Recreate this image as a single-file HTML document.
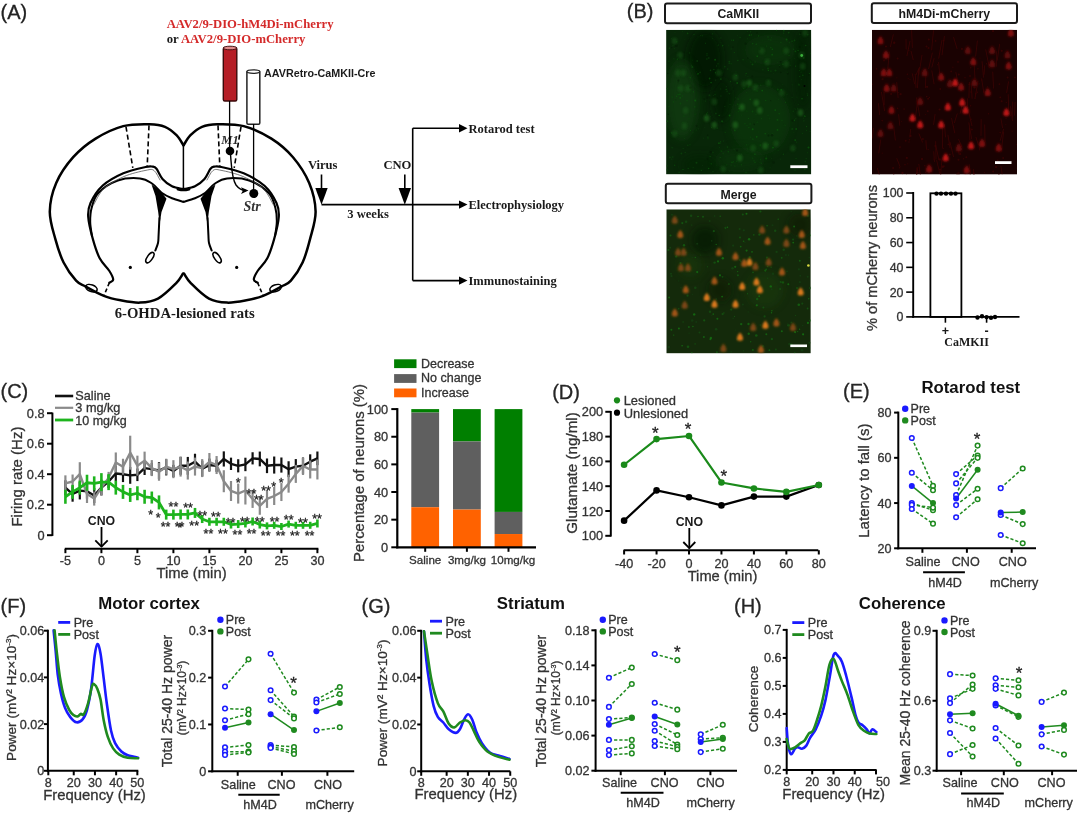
<!DOCTYPE html>
<html><head><meta charset="utf-8"><style>
html,body{margin:0;padding:0;background:#fff;}
body{width:1080px;height:815px;overflow:hidden;}
svg{display:block;will-change:transform;filter:blur(0.45px);}
</style></head><body>
<svg width="1080" height="815" viewBox="0 0 1080 815">
<rect width="1080" height="815" fill="#fff"/>
<text x="0.50" y="19.30" font-family='"Liberation Sans", sans-serif' font-size="20" font-weight="normal" text-anchor="start" fill="#222" stroke="#222" stroke-width="0.3">(A)</text>
<text x="166.70" y="27.80" font-family='"Liberation Serif", serif' font-size="12.7" font-weight="bold" text-anchor="start" fill="#d42a2a">AAV2/9-DIO-hM4Di-mCherry</text>
<text x="166.7" y="43.3" font-family='"Liberation Serif", serif' font-size="12.7" font-weight="bold" fill="#d42a2a"><tspan fill="#1a1a1a">or </tspan>AAV2/9-DIO-mCherry</text>
<text x="264.00" y="77.00" font-family='"Liberation Sans", sans-serif' font-size="10.75" font-weight="bold" text-anchor="start" fill="#1a1a1a">AAVRetro-CaMKII-Cre</text>
<path d="M183.40,145.20 C182.25,143.53 179.57,138.27 176.50,135.20 C173.43,132.13 169.47,128.63 165.00,126.80 C160.53,124.97 156.65,124.32 149.70,124.20 C142.75,124.08 132.32,123.70 123.30,126.10 C114.28,128.50 103.95,133.42 95.60,138.60 C87.25,143.78 79.77,149.80 73.20,157.20 C66.63,164.60 60.10,173.95 56.20,183.00 C52.30,192.05 49.95,202.18 49.80,211.50 C49.65,220.82 53.00,230.40 55.30,238.90 C57.60,247.40 60.13,255.55 63.60,262.50 C67.07,269.45 72.40,276.58 76.10,280.60 C79.80,284.62 81.17,284.07 85.80,286.60 C90.43,289.13 98.10,293.52 103.90,295.80 C109.70,298.08 114.58,299.17 120.60,300.30 C126.62,301.43 133.77,302.88 140.00,302.60 C146.23,302.32 152.00,301.82 158.00,298.60 C164.00,295.38 171.83,287.47 176.00,283.30 C180.17,279.13 181.83,275.22 183.00,273.60" fill="none" stroke="#000" stroke-width="2.5" stroke-linejoin="round" stroke-linecap="round"/>
<path d="M183.60,145.20 C184.75,143.53 187.43,138.27 190.50,135.20 C193.57,132.13 197.53,128.63 202.00,126.80 C206.47,124.97 210.35,124.32 217.30,124.20 C224.25,124.08 234.68,123.70 243.70,126.10 C252.72,128.50 263.18,133.42 271.40,138.60 C279.62,143.78 286.70,149.80 293.00,157.20 C299.30,164.60 305.43,173.95 309.20,183.00 C312.97,192.05 315.45,202.18 315.60,211.50 C315.75,220.82 312.27,230.40 310.10,238.90 C307.93,247.40 305.80,255.55 302.60,262.50 C299.40,269.45 294.47,276.58 290.90,280.60 C287.33,284.62 285.83,284.07 281.20,286.60 C276.57,289.13 268.90,293.52 263.10,295.80 C257.30,298.08 252.42,299.17 246.40,300.30 C240.38,301.43 233.23,302.88 227.00,302.60 C220.77,302.32 215.00,301.82 209.00,298.60 C203.00,295.38 195.17,287.47 191.00,283.30 C186.83,279.13 185.17,275.22 184.00,273.60" fill="none" stroke="#000" stroke-width="2.5" stroke-linejoin="round" stroke-linecap="round"/>
<line x1="183.40" y1="145.50" x2="183.40" y2="189.00" stroke="#000" stroke-width="1.5"/>
<path d="M183.50,189.20 C181.58,188.72 175.50,188.00 172.00,186.30 C168.50,184.60 165.08,181.92 162.50,179.00 C159.92,176.08 158.17,170.87 156.50,168.80 C154.83,166.73 154.33,166.90 152.50,166.60 C150.67,166.30 150.37,165.88 145.50,167.00 C140.63,168.12 130.47,170.17 123.30,173.30 C116.13,176.43 107.97,180.85 102.50,185.80 C97.03,190.75 92.88,197.85 90.50,203.00 C88.12,208.15 87.82,210.72 88.20,216.70 C88.58,222.68 90.88,231.97 92.80,238.90 C94.72,245.83 96.93,252.95 99.70,258.30 C102.47,263.65 107.15,267.45 109.40,271.00 C111.65,274.55 113.20,277.67 113.20,279.60 C113.20,281.53 110.03,282.10 109.40,282.60" fill="none" stroke="#000" stroke-width="2.2" stroke-linejoin="round" stroke-linecap="round"/>
<path d="M183.50,189.20 C185.42,188.72 191.50,188.00 195.00,186.30 C198.50,184.60 201.92,181.92 204.50,179.00 C207.08,176.08 208.83,170.87 210.50,168.80 C212.17,166.73 212.67,166.90 214.50,166.60 C216.33,166.30 216.63,165.88 221.50,167.00 C226.37,168.12 236.53,170.17 243.70,173.30 C250.87,176.43 259.03,180.85 264.50,185.80 C269.97,190.75 274.12,197.85 276.50,203.00 C278.88,208.15 279.18,210.72 278.80,216.70 C278.42,222.68 276.12,231.97 274.20,238.90 C272.28,245.83 270.07,252.95 267.30,258.30 C264.53,263.65 259.85,267.45 257.60,271.00 C255.35,274.55 253.80,277.67 253.80,279.60 C253.80,281.53 256.97,282.10 257.60,282.60" fill="none" stroke="#000" stroke-width="2.2" stroke-linejoin="round" stroke-linecap="round"/>
<path d="M183.50,201.80 C181.58,201.22 175.58,199.77 172.00,198.30 C168.42,196.83 165.33,195.47 162.00,193.00 C158.67,190.53 155.67,185.93 152.00,183.50 C148.33,181.07 145.70,178.90 140.00,178.40 C134.30,177.90 124.75,178.07 117.80,180.50 C110.85,182.93 102.67,188.42 98.30,193.00 C93.93,197.58 92.95,203.17 91.60,208.00 C90.25,212.83 90.13,217.33 90.20,222.00 C90.27,226.67 91.70,233.67 92.00,236.00" fill="none" stroke="#000" stroke-width="2.0" stroke-linejoin="round" stroke-linecap="round"/>
<path d="M183.50,201.80 C185.42,201.22 191.42,199.77 195.00,198.30 C198.58,196.83 201.67,195.47 205.00,193.00 C208.33,190.53 211.33,185.93 215.00,183.50 C218.67,181.07 221.30,178.90 227.00,178.40 C232.70,177.90 242.25,178.07 249.20,180.50 C256.15,182.93 264.33,188.42 268.70,193.00 C273.07,197.58 274.05,203.17 275.40,208.00 C276.75,212.83 276.87,217.33 276.80,222.00 C276.73,226.67 275.30,233.67 275.00,236.00" fill="none" stroke="#000" stroke-width="2.0" stroke-linejoin="round" stroke-linecap="round"/>
<path d="M160.00,180.00 C159.00,178.42 156.33,172.12 154.00,170.50 C151.67,168.88 151.00,169.30 146.00,170.30 C141.00,171.30 131.00,173.47 124.00,176.50 C117.00,179.53 109.08,183.75 104.00,188.50 C98.92,193.25 95.25,202.25 93.50,205.00" fill="none" stroke="#555" stroke-width="0.8" stroke-linejoin="round" stroke-linecap="round"/>
<path d="M207.00,180.00 C208.00,178.42 210.67,172.12 213.00,170.50 C215.33,168.88 216.00,169.30 221.00,170.30 C226.00,171.30 236.00,173.47 243.00,176.50 C250.00,179.53 257.92,183.75 263.00,188.50 C268.08,193.25 271.75,202.25 273.50,205.00" fill="none" stroke="#555" stroke-width="0.8" stroke-linejoin="round" stroke-linecap="round"/>
<polygon points="151.50,184.50 160.00,190.50 166.50,198.70 161.50,212.00 159.60,224.00 158.20,212.00 155.50,196.00" fill="#000" stroke="none" stroke-width="0"/>
<polygon points="215.50,184.50 207.00,190.50 200.50,198.70 205.50,212.00 207.40,224.00 208.80,212.00 211.50,196.00" fill="#000" stroke="none" stroke-width="0"/>
<path d="M159.40,218.00 C159.27,220.83 158.83,230.83 158.60,235.00 C158.37,239.17 158.55,240.42 158.00,243.00 C157.45,245.58 155.75,249.25 155.30,250.50" fill="none" stroke="#000" stroke-width="2" stroke-linejoin="round" stroke-linecap="round"/>
<path d="M207.60,218.00 C207.73,220.83 208.17,230.83 208.40,235.00 C208.63,239.17 208.45,240.42 209.00,243.00 C209.55,245.58 211.25,249.25 211.70,250.50" fill="none" stroke="#000" stroke-width="2" stroke-linejoin="round" stroke-linecap="round"/>
<ellipse cx="183.5" cy="189.5" rx="7" ry="1.8" fill="#000"/>
<ellipse cx="91.4" cy="288.2" rx="6" ry="3.3" fill="none" stroke="#000" stroke-width="1.6" transform="rotate(20 91.4 288.2)"/>
<ellipse cx="275.6" cy="288.2" rx="6" ry="3.3" fill="none" stroke="#000" stroke-width="1.6" transform="rotate(-20 275.6 288.2)"/>
<ellipse cx="149.9" cy="257.6" rx="2.6" ry="6" fill="none" stroke="#000" stroke-width="1.6" transform="rotate(35 149.9 257.6)"/>
<ellipse cx="217.1" cy="257.6" rx="2.6" ry="6" fill="none" stroke="#000" stroke-width="1.6" transform="rotate(-35 217.1 257.6)"/>
<circle cx="130.30" cy="267.40" r="1.6" fill="#000" stroke="none" stroke-width="0"/>
<circle cx="236.70" cy="267.40" r="1.6" fill="#000" stroke="none" stroke-width="0"/>
<line x1="126.00" y1="126.80" x2="132.80" y2="167.80" stroke="#000" stroke-width="1.6" stroke-dasharray="5,3"/>
<line x1="241.00" y1="126.80" x2="234.20" y2="167.80" stroke="#000" stroke-width="1.6" stroke-dasharray="5,3"/>
<line x1="149.00" y1="125.40" x2="147.20" y2="166.40" stroke="#000" stroke-width="1.6" stroke-dasharray="5,3"/>
<line x1="218.00" y1="125.40" x2="219.80" y2="166.40" stroke="#000" stroke-width="1.6" stroke-dasharray="5,3"/>
<line x1="109.40" y1="282.60" x2="103.90" y2="295.80" stroke="#000" stroke-width="1.6" stroke-dasharray="4,2.5"/>
<line x1="257.60" y1="282.60" x2="263.10" y2="295.80" stroke="#000" stroke-width="1.6" stroke-dasharray="4,2.5"/>
<rect x="223.3" y="47.5" width="13.5" height="53.5" rx="1.5" fill="#b51d25" stroke="#3a0a0a" stroke-width="1.4"/>
<ellipse cx="230" cy="48" rx="6.8" ry="1.8" fill="#e08a8a" stroke="#3a0a0a" stroke-width="0.9"/>
<rect x="246.9" y="71" width="12.9" height="53.2" rx="1.2" fill="#fff" stroke="#222" stroke-width="1.5"/>
<ellipse cx="253.35" cy="71.6" rx="6.45" ry="1.8" fill="#fff" stroke="#222" stroke-width="1.3"/>
<text x="221.30" y="143.60" font-family='"Liberation Serif", serif' font-size="12.5" font-weight="bold" text-anchor="start" fill="#2a2a2a" font-style="italic">M1</text>
<line x1="229.60" y1="101.00" x2="229.60" y2="150.00" stroke="#000" stroke-width="1.3"/>
<line x1="253.60" y1="124.00" x2="253.60" y2="193.00" stroke="#000" stroke-width="1.3"/>
<circle cx="230.00" cy="151.00" r="4.3" fill="#000" stroke="none" stroke-width="0"/>
<circle cx="253.80" cy="193.50" r="4.5" fill="#000" stroke="none" stroke-width="0"/>
<path d="M230.5,154 C231.5,166 231.5,178 236,185 C239,189 242,190.5 246,190.5" fill="none" stroke="#000" stroke-width="1.4"/>
<polygon points="248.50,190.60 241.00,187.30 242.80,190.70 241.00,194.00" fill="#000" stroke="none" stroke-width="0"/>
<text x="243.50" y="210.80" font-family='"Liberation Serif", serif' font-size="14" font-weight="bold" text-anchor="start" fill="#333" font-style="italic">Str</text>
<text x="114.70" y="318.30" font-family='"Liberation Serif", serif' font-size="14.7" font-weight="bold" text-anchor="start" fill="#1a1a1a">6-OHDA-lesioned rats</text>
<text x="307.90" y="169.00" font-family='"Liberation Serif", serif' font-size="12.6" font-weight="bold" text-anchor="start" fill="#1a1a1a">Virus</text>
<text x="383.40" y="169.00" font-family='"Liberation Serif", serif' font-size="12.6" font-weight="bold" text-anchor="start" fill="#1a1a1a">CNO</text>
<line x1="321.50" y1="174.50" x2="321.50" y2="192.00" stroke="#000" stroke-width="1.6"/>
<polygon points="315.30,188.00 327.70,188.00 321.50,204.80" fill="#000" stroke="none" stroke-width="0"/>
<line x1="404.80" y1="174.50" x2="404.80" y2="192.00" stroke="#000" stroke-width="1.6"/>
<polygon points="398.60,188.00 411.00,188.00 404.80,204.80" fill="#000" stroke="none" stroke-width="0"/>
<line x1="321.50" y1="204.60" x2="461.00" y2="204.60" stroke="#000" stroke-width="1.6"/>
<line x1="412.70" y1="128.20" x2="412.70" y2="280.60" stroke="#000" stroke-width="1.6"/>
<line x1="412.70" y1="128.20" x2="461.00" y2="128.20" stroke="#000" stroke-width="1.6"/>
<line x1="412.70" y1="280.60" x2="461.00" y2="280.60" stroke="#000" stroke-width="1.6"/>
<polygon points="459.00,124.00 467.50,128.20 459.00,132.40" fill="#000" stroke="none" stroke-width="0"/>
<polygon points="459.00,200.40 467.50,204.60 459.00,208.80" fill="#000" stroke="none" stroke-width="0"/>
<polygon points="459.00,276.40 467.50,280.60 459.00,284.80" fill="#000" stroke="none" stroke-width="0"/>
<text x="347.20" y="217.60" font-family='"Liberation Serif", serif' font-size="12.6" font-weight="bold" text-anchor="start" fill="#1a1a1a">3 weeks</text>
<text x="468.50" y="132.60" font-family='"Liberation Serif", serif' font-size="12.5" font-weight="bold" text-anchor="start" fill="#1a1a1a">Rotarod test</text>
<text x="468.50" y="209.00" font-family='"Liberation Serif", serif' font-size="12.5" font-weight="bold" text-anchor="start" fill="#1a1a1a">Electrophysiology</text>
<text x="468.50" y="284.70" font-family='"Liberation Serif", serif' font-size="12.5" font-weight="bold" text-anchor="start" fill="#1a1a1a">Immunostaining</text>
<text x="626.80" y="17.50" font-family='"Liberation Sans", sans-serif' font-size="20" font-weight="normal" text-anchor="start" fill="#262626" stroke="#262626" stroke-width="0.3">(B)</text>
<rect x="665.0" y="3.4" width="146.00" height="19.90" rx="2" fill="#fff" stroke="#1a1a1a" stroke-width="2"/>
<text x="738.30" y="18.20" font-family='"Liberation Sans", sans-serif' font-size="12.3" font-weight="bold" text-anchor="middle" fill="#1a1a1a">CaMKII</text>
<rect x="871.8000000000001" y="3.2" width="145.20" height="19.70" rx="2" fill="#fff" stroke="#1a1a1a" stroke-width="2"/>
<text x="944.40" y="17.90" font-family='"Liberation Sans", sans-serif' font-size="12.3" font-weight="bold" text-anchor="middle" fill="#1a1a1a">hM4Di-mCherry</text>
<rect x="665.8000000000001" y="183.8" width="145.60" height="19.50" rx="2" fill="#fff" stroke="#1a1a1a" stroke-width="2"/>
<text x="738.50" y="198.60" font-family='"Liberation Sans", sans-serif' font-size="12.3" font-weight="bold" text-anchor="middle" fill="#1a1a1a">Merge</text>
<defs>
<filter id="bl1" x="-50%" y="-50%" width="200%" height="200%"><feGaussianBlur stdDeviation="1.1"/></filter>
<filter id="bl2" x="-50%" y="-50%" width="200%" height="200%"><feGaussianBlur stdDeviation="4"/></filter>
<filter id="noiseG" x="0" y="0" width="100%" height="100%">
 <feTurbulence type="fractalNoise" baseFrequency="0.35" numOctaves="2" seed="3" result="n"/>
 <feColorMatrix type="matrix" values="0 0 0 0 0  0 0 0 0 0.35  0 0 0 0 0  0 0 0 1.6 -0.7"/>
</filter>
<filter id="noiseR" x="0" y="0" width="100%" height="100%">
 <feTurbulence type="fractalNoise" baseFrequency="0.35" numOctaves="2" seed="7"/>
 <feColorMatrix type="matrix" values="0 0 0 0 0.25  0 0 0 0 0  0 0 0 0 0  0 0 0 1.4 -0.65"/>
</filter>
<clipPath id="cg"><rect x="666.1" y="29.8" width="145.2" height="144.6"/></clipPath>
<clipPath id="cr"><rect x="872" y="29.8" width="145" height="144.8"/></clipPath>
<clipPath id="cm"><rect x="666.3" y="209.3" width="144.5" height="144.1"/></clipPath>
</defs>
<g clip-path="url(#cg)">
<rect x="666.10" y="29.80" width="145.20" height="144.60" fill="#082608" stroke="none" stroke-width="0"/>
<ellipse cx="705" cy="60" rx="18" ry="30" fill="#021202" opacity="0.75" filter="url(#bl2)"/>
<ellipse cx="722" cy="100" rx="10" ry="22" fill="#021402" opacity="0.6" filter="url(#bl2)"/>
<ellipse cx="803" cy="70" rx="8" ry="40" fill="#041a04" opacity="0.55" filter="url(#bl2)"/>
<ellipse cx="700" cy="165" rx="18" ry="10" fill="#062006" opacity="0.5" filter="url(#bl2)"/>
<ellipse cx="682" cy="100" rx="16" ry="40" fill="#124812" opacity="0.5" filter="url(#bl2)"/>
<ellipse cx="760" cy="120" rx="30" ry="35" fill="#114311" opacity="0.45" filter="url(#bl2)"/>
<ellipse cx="770" cy="50" rx="25" ry="15" fill="#104010" opacity="0.4" filter="url(#bl2)"/>
<ellipse cx="740" cy="160" rx="25" ry="12" fill="#0f3c0f" opacity="0.4" filter="url(#bl2)"/>
<circle cx="756.7" cy="136.8" r="0.9" fill="rgb(12,91,12)" opacity="0.7"/>
<circle cx="799.8" cy="34.2" r="0.7" fill="rgb(12,65,12)" opacity="0.7"/>
<circle cx="760.5" cy="159.7" r="0.5" fill="rgb(12,80,12)" opacity="0.7"/>
<circle cx="792.1" cy="84.8" r="0.5" fill="rgb(12,65,12)" opacity="0.7"/>
<circle cx="668.9" cy="61.2" r="0.6" fill="rgb(12,74,12)" opacity="0.7"/>
<circle cx="690.0" cy="144.8" r="0.5" fill="rgb(12,89,12)" opacity="0.7"/>
<circle cx="731.1" cy="49.0" r="1.0" fill="rgb(12,50,12)" opacity="0.7"/>
<circle cx="697.2" cy="61.0" r="1.0" fill="rgb(12,60,12)" opacity="0.7"/>
<circle cx="708.7" cy="168.5" r="0.7" fill="rgb(12,93,12)" opacity="0.7"/>
<circle cx="757.1" cy="56.2" r="1.0" fill="rgb(12,62,12)" opacity="0.7"/>
<circle cx="806.2" cy="158.7" r="0.6" fill="rgb(12,73,12)" opacity="0.7"/>
<circle cx="726.7" cy="164.8" r="0.6" fill="rgb(12,71,12)" opacity="0.7"/>
<circle cx="710.4" cy="116.8" r="0.4" fill="rgb(12,93,12)" opacity="0.7"/>
<circle cx="768.9" cy="39.5" r="0.6" fill="rgb(12,69,12)" opacity="0.7"/>
<circle cx="736.2" cy="75.5" r="0.7" fill="rgb(12,95,12)" opacity="0.7"/>
<circle cx="692.4" cy="66.9" r="1.0" fill="rgb(12,72,12)" opacity="0.7"/>
<circle cx="788.7" cy="32.6" r="0.9" fill="rgb(12,73,12)" opacity="0.7"/>
<circle cx="721.2" cy="151.1" r="0.7" fill="rgb(12,95,12)" opacity="0.7"/>
<circle cx="693.1" cy="167.5" r="0.5" fill="rgb(12,65,12)" opacity="0.7"/>
<circle cx="800.9" cy="165.7" r="0.6" fill="rgb(12,72,12)" opacity="0.7"/>
<circle cx="795.6" cy="66.1" r="0.7" fill="rgb(12,87,12)" opacity="0.7"/>
<circle cx="774.8" cy="144.8" r="0.9" fill="rgb(12,52,12)" opacity="0.7"/>
<circle cx="729.3" cy="170.9" r="0.5" fill="rgb(12,82,12)" opacity="0.7"/>
<circle cx="755.0" cy="162.2" r="0.6" fill="rgb(12,94,12)" opacity="0.7"/>
<circle cx="745.5" cy="75.0" r="0.6" fill="rgb(12,61,12)" opacity="0.7"/>
<circle cx="782.0" cy="120.3" r="0.8" fill="rgb(12,69,12)" opacity="0.7"/>
<circle cx="810.5" cy="53.3" r="0.4" fill="rgb(12,88,12)" opacity="0.7"/>
<circle cx="743.8" cy="88.4" r="0.5" fill="rgb(12,88,12)" opacity="0.7"/>
<circle cx="716.5" cy="66.0" r="0.8" fill="rgb(12,59,12)" opacity="0.7"/>
<circle cx="675.0" cy="161.9" r="0.4" fill="rgb(12,81,12)" opacity="0.7"/>
<circle cx="715.1" cy="59.8" r="1.0" fill="rgb(12,86,12)" opacity="0.7"/>
<circle cx="803.8" cy="120.8" r="0.9" fill="rgb(12,56,12)" opacity="0.7"/>
<circle cx="691.3" cy="83.7" r="0.4" fill="rgb(12,76,12)" opacity="0.7"/>
<circle cx="709.5" cy="95.3" r="1.0" fill="rgb(12,60,12)" opacity="0.7"/>
<circle cx="807.5" cy="95.3" r="0.7" fill="rgb(12,70,12)" opacity="0.7"/>
<circle cx="736.0" cy="71.9" r="0.6" fill="rgb(12,59,12)" opacity="0.7"/>
<circle cx="683.2" cy="148.4" r="0.7" fill="rgb(12,61,12)" opacity="0.7"/>
<circle cx="757.3" cy="101.9" r="0.6" fill="rgb(12,55,12)" opacity="0.7"/>
<circle cx="737.8" cy="104.2" r="0.7" fill="rgb(12,82,12)" opacity="0.7"/>
<circle cx="719.0" cy="143.2" r="0.9" fill="rgb(12,94,12)" opacity="0.7"/>
<circle cx="751.6" cy="34.9" r="0.6" fill="rgb(12,85,12)" opacity="0.7"/>
<circle cx="768.4" cy="70.4" r="0.7" fill="rgb(12,94,12)" opacity="0.7"/>
<circle cx="770.1" cy="167.8" r="0.6" fill="rgb(12,61,12)" opacity="0.7"/>
<circle cx="750.6" cy="31.7" r="0.7" fill="rgb(12,66,12)" opacity="0.7"/>
<circle cx="713.9" cy="69.4" r="0.6" fill="rgb(12,82,12)" opacity="0.7"/>
<circle cx="760.2" cy="144.9" r="0.6" fill="rgb(12,91,12)" opacity="0.7"/>
<circle cx="716.8" cy="165.0" r="0.6" fill="rgb(12,61,12)" opacity="0.7"/>
<circle cx="792.3" cy="129.1" r="1.0" fill="rgb(12,71,12)" opacity="0.7"/>
<circle cx="741.6" cy="106.2" r="0.5" fill="rgb(12,73,12)" opacity="0.7"/>
<circle cx="802.0" cy="98.7" r="0.8" fill="rgb(12,92,12)" opacity="0.7"/>
<circle cx="772.2" cy="54.7" r="0.9" fill="rgb(12,87,12)" opacity="0.7"/>
<circle cx="741.4" cy="164.8" r="0.6" fill="rgb(12,85,12)" opacity="0.7"/>
<circle cx="778.6" cy="121.7" r="0.8" fill="rgb(12,51,12)" opacity="0.7"/>
<circle cx="695.2" cy="114.4" r="0.8" fill="rgb(12,61,12)" opacity="0.7"/>
<circle cx="698.5" cy="128.8" r="0.8" fill="rgb(12,52,12)" opacity="0.7"/>
<circle cx="809.1" cy="171.1" r="0.5" fill="rgb(12,58,12)" opacity="0.7"/>
<circle cx="683.0" cy="169.4" r="0.7" fill="rgb(12,85,12)" opacity="0.7"/>
<circle cx="672.1" cy="97.0" r="0.6" fill="rgb(12,89,12)" opacity="0.7"/>
<circle cx="677.4" cy="59.4" r="0.8" fill="rgb(12,73,12)" opacity="0.7"/>
<circle cx="667.1" cy="88.4" r="0.6" fill="rgb(12,76,12)" opacity="0.7"/>
<circle cx="791.8" cy="129.2" r="0.7" fill="rgb(12,52,12)" opacity="0.7"/>
<circle cx="746.2" cy="73.4" r="0.6" fill="rgb(12,82,12)" opacity="0.7"/>
<circle cx="715.9" cy="113.6" r="1.0" fill="rgb(12,58,12)" opacity="0.7"/>
<circle cx="727.4" cy="147.1" r="0.8" fill="rgb(12,73,12)" opacity="0.7"/>
<circle cx="734.3" cy="52.6" r="0.6" fill="rgb(12,80,12)" opacity="0.7"/>
<circle cx="804.8" cy="169.4" r="0.8" fill="rgb(12,72,12)" opacity="0.7"/>
<circle cx="785.3" cy="125.3" r="0.6" fill="rgb(12,70,12)" opacity="0.7"/>
<circle cx="748.5" cy="118.6" r="0.5" fill="rgb(12,90,12)" opacity="0.7"/>
<circle cx="793.2" cy="111.3" r="0.7" fill="rgb(12,64,12)" opacity="0.7"/>
<circle cx="738.1" cy="99.1" r="0.8" fill="rgb(12,74,12)" opacity="0.7"/>
<circle cx="805.4" cy="161.6" r="0.8" fill="rgb(12,66,12)" opacity="0.7"/>
<circle cx="773.7" cy="73.3" r="0.6" fill="rgb(12,51,12)" opacity="0.7"/>
<circle cx="713.0" cy="171.7" r="0.7" fill="rgb(12,68,12)" opacity="0.7"/>
<circle cx="687.6" cy="33.4" r="0.8" fill="rgb(12,78,12)" opacity="0.7"/>
<circle cx="702.4" cy="35.8" r="0.5" fill="rgb(12,75,12)" opacity="0.7"/>
<circle cx="668.9" cy="106.7" r="0.6" fill="rgb(12,80,12)" opacity="0.7"/>
<circle cx="779.6" cy="65.4" r="0.6" fill="rgb(12,59,12)" opacity="0.7"/>
<circle cx="770.9" cy="71.1" r="0.7" fill="rgb(12,80,12)" opacity="0.7"/>
<circle cx="741.6" cy="154.3" r="0.9" fill="rgb(12,57,12)" opacity="0.7"/>
<circle cx="669.3" cy="48.1" r="0.6" fill="rgb(12,95,12)" opacity="0.7"/>
<circle cx="715.4" cy="72.7" r="0.7" fill="rgb(12,79,12)" opacity="0.7"/>
<circle cx="717.4" cy="128.2" r="0.9" fill="rgb(12,58,12)" opacity="0.7"/>
<circle cx="672.2" cy="66.3" r="0.7" fill="rgb(12,56,12)" opacity="0.7"/>
<circle cx="794.9" cy="108.6" r="0.4" fill="rgb(12,77,12)" opacity="0.7"/>
<circle cx="752.7" cy="129.2" r="1.0" fill="rgb(12,91,12)" opacity="0.7"/>
<circle cx="736.4" cy="161.3" r="0.6" fill="rgb(12,75,12)" opacity="0.7"/>
<circle cx="765.3" cy="133.6" r="0.9" fill="rgb(12,79,12)" opacity="0.7"/>
<circle cx="786.5" cy="39.5" r="0.9" fill="rgb(12,94,12)" opacity="0.7"/>
<circle cx="779.2" cy="113.8" r="0.8" fill="rgb(12,80,12)" opacity="0.7"/>
<circle cx="798.1" cy="50.5" r="0.7" fill="rgb(12,85,12)" opacity="0.7"/>
<circle cx="795.0" cy="170.1" r="0.7" fill="rgb(12,77,12)" opacity="0.7"/>
<circle cx="751.4" cy="146.9" r="0.4" fill="rgb(12,64,12)" opacity="0.7"/>
<circle cx="705.5" cy="42.3" r="0.4" fill="rgb(12,51,12)" opacity="0.7"/>
<circle cx="715.0" cy="91.8" r="0.4" fill="rgb(12,75,12)" opacity="0.7"/>
<circle cx="768.0" cy="37.0" r="0.9" fill="rgb(12,64,12)" opacity="0.7"/>
<circle cx="755.5" cy="148.7" r="0.5" fill="rgb(12,58,12)" opacity="0.7"/>
<circle cx="810.1" cy="131.6" r="0.7" fill="rgb(12,61,12)" opacity="0.7"/>
<circle cx="754.9" cy="89.6" r="0.5" fill="rgb(12,89,12)" opacity="0.7"/>
<circle cx="697.7" cy="110.0" r="0.8" fill="rgb(12,54,12)" opacity="0.7"/>
<circle cx="707.3" cy="112.2" r="0.5" fill="rgb(12,75,12)" opacity="0.7"/>
<circle cx="793.5" cy="49.3" r="0.7" fill="rgb(12,70,12)" opacity="0.7"/>
<circle cx="765.7" cy="100.5" r="0.6" fill="rgb(12,91,12)" opacity="0.7"/>
<circle cx="720.9" cy="38.0" r="0.8" fill="rgb(12,59,12)" opacity="0.7"/>
<circle cx="748.9" cy="127.6" r="0.6" fill="rgb(12,85,12)" opacity="0.7"/>
<circle cx="746.2" cy="61.8" r="0.4" fill="rgb(12,65,12)" opacity="0.7"/>
<circle cx="703.6" cy="138.1" r="0.7" fill="rgb(12,58,12)" opacity="0.7"/>
<circle cx="783.4" cy="154.3" r="0.7" fill="rgb(12,74,12)" opacity="0.7"/>
<circle cx="692.8" cy="132.7" r="0.8" fill="rgb(12,55,12)" opacity="0.7"/>
<circle cx="749.5" cy="35.2" r="0.9" fill="rgb(12,82,12)" opacity="0.7"/>
<circle cx="752.5" cy="64.4" r="0.9" fill="rgb(12,80,12)" opacity="0.7"/>
<circle cx="805.7" cy="45.5" r="0.7" fill="rgb(12,84,12)" opacity="0.7"/>
<circle cx="771.4" cy="37.7" r="0.5" fill="rgb(12,77,12)" opacity="0.7"/>
<circle cx="765.1" cy="62.1" r="0.5" fill="rgb(12,92,12)" opacity="0.7"/>
<circle cx="737.8" cy="60.5" r="0.8" fill="rgb(12,74,12)" opacity="0.7"/>
<circle cx="718.0" cy="63.8" r="0.6" fill="rgb(12,89,12)" opacity="0.7"/>
<circle cx="768.6" cy="144.6" r="0.6" fill="rgb(12,72,12)" opacity="0.7"/>
<circle cx="760.3" cy="145.8" r="0.7" fill="rgb(12,73,12)" opacity="0.7"/>
<circle cx="741.5" cy="115.3" r="0.7" fill="rgb(12,61,12)" opacity="0.7"/>
<circle cx="724.0" cy="44.0" r="0.4" fill="rgb(12,62,12)" opacity="0.7"/>
<circle cx="695.2" cy="100.6" r="1.0" fill="rgb(12,92,12)" opacity="0.7"/>
<circle cx="776.5" cy="30.1" r="0.7" fill="rgb(12,89,12)" opacity="0.7"/>
<circle cx="799.7" cy="76.5" r="0.7" fill="rgb(12,62,12)" opacity="0.7"/>
<circle cx="689.3" cy="52.9" r="0.6" fill="rgb(12,74,12)" opacity="0.7"/>
<circle cx="792.1" cy="97.6" r="0.7" fill="rgb(12,57,12)" opacity="0.7"/>
<circle cx="707.0" cy="53.3" r="0.6" fill="rgb(12,65,12)" opacity="0.7"/>
<circle cx="671.8" cy="159.1" r="0.6" fill="rgb(12,73,12)" opacity="0.7"/>
<circle cx="712.5" cy="38.5" r="0.4" fill="rgb(12,79,12)" opacity="0.7"/>
<circle cx="734.9" cy="166.1" r="0.5" fill="rgb(12,92,12)" opacity="0.7"/>
<circle cx="713.7" cy="95.4" r="0.5" fill="rgb(12,60,12)" opacity="0.7"/>
<circle cx="671.8" cy="132.9" r="0.7" fill="rgb(12,92,12)" opacity="0.7"/>
<circle cx="678.3" cy="87.8" r="1.0" fill="rgb(12,73,12)" opacity="0.7"/>
<circle cx="765.0" cy="56.6" r="0.6" fill="rgb(12,54,12)" opacity="0.7"/>
<circle cx="772.5" cy="133.4" r="0.5" fill="rgb(12,65,12)" opacity="0.7"/>
<circle cx="692.3" cy="60.1" r="0.4" fill="rgb(12,88,12)" opacity="0.7"/>
<circle cx="729.0" cy="170.5" r="0.4" fill="rgb(12,53,12)" opacity="0.7"/>
<circle cx="732.2" cy="128.1" r="0.5" fill="rgb(12,52,12)" opacity="0.7"/>
<circle cx="746.0" cy="172.5" r="0.7" fill="rgb(12,72,12)" opacity="0.7"/>
<circle cx="802.3" cy="133.2" r="0.5" fill="rgb(12,81,12)" opacity="0.7"/>
<circle cx="680.2" cy="97.9" r="0.8" fill="rgb(12,91,12)" opacity="0.7"/>
<circle cx="674.3" cy="87.2" r="0.4" fill="rgb(12,66,12)" opacity="0.7"/>
<circle cx="787.0" cy="94.2" r="0.8" fill="rgb(12,52,12)" opacity="0.7"/>
<circle cx="803.8" cy="58.0" r="0.8" fill="rgb(12,90,12)" opacity="0.7"/>
<circle cx="724.9" cy="106.5" r="0.5" fill="rgb(12,70,12)" opacity="0.7"/>
<circle cx="780.9" cy="42.5" r="1.0" fill="rgb(12,60,12)" opacity="0.7"/>
<circle cx="753.2" cy="153.4" r="0.5" fill="rgb(12,51,12)" opacity="0.7"/>
<circle cx="730.5" cy="81.5" r="0.7" fill="rgb(12,74,12)" opacity="0.7"/>
<circle cx="742.2" cy="49.1" r="0.4" fill="rgb(12,69,12)" opacity="0.7"/>
<circle cx="766.2" cy="158.4" r="1.0" fill="rgb(12,85,12)" opacity="0.7"/>
<circle cx="683.7" cy="74.9" r="0.5" fill="rgb(12,66,12)" opacity="0.7"/>
<circle cx="785.0" cy="75.1" r="0.5" fill="rgb(12,55,12)" opacity="0.7"/>
<circle cx="734.9" cy="130.4" r="0.9" fill="rgb(12,86,12)" opacity="0.7"/>
<circle cx="762.9" cy="69.7" r="0.7" fill="rgb(12,65,12)" opacity="0.7"/>
<circle cx="673.9" cy="58.8" r="0.6" fill="rgb(12,73,12)" opacity="0.7"/>
<circle cx="794.5" cy="40.4" r="0.9" fill="rgb(12,74,12)" opacity="0.7"/>
<circle cx="775.3" cy="110.1" r="0.9" fill="rgb(12,91,12)" opacity="0.7"/>
<circle cx="802.4" cy="48.9" r="0.4" fill="rgb(12,59,12)" opacity="0.7"/>
<circle cx="784.6" cy="124.4" r="1.0" fill="rgb(12,53,12)" opacity="0.7"/>
<circle cx="768.0" cy="68.5" r="0.9" fill="rgb(12,74,12)" opacity="0.7"/>
<circle cx="747.9" cy="76.3" r="0.6" fill="rgb(12,58,12)" opacity="0.7"/>
<circle cx="704.8" cy="127.3" r="0.6" fill="rgb(12,54,12)" opacity="0.7"/>
<circle cx="745.1" cy="136.4" r="0.4" fill="rgb(12,57,12)" opacity="0.7"/>
<circle cx="674.3" cy="48.7" r="0.6" fill="rgb(12,66,12)" opacity="0.7"/>
<circle cx="803.7" cy="118.1" r="0.5" fill="rgb(12,77,12)" opacity="0.7"/>
<circle cx="685.0" cy="59.0" r="0.6" fill="rgb(12,60,12)" opacity="0.7"/>
<circle cx="751.2" cy="149.1" r="0.8" fill="rgb(12,56,12)" opacity="0.7"/>
<circle cx="705.6" cy="117.3" r="0.8" fill="rgb(12,59,12)" opacity="0.7"/>
<circle cx="731.3" cy="165.1" r="0.9" fill="rgb(12,57,12)" opacity="0.7"/>
<circle cx="715.0" cy="94.2" r="0.5" fill="rgb(12,88,12)" opacity="0.7"/>
<circle cx="729.5" cy="93.6" r="0.9" fill="rgb(12,60,12)" opacity="0.7"/>
<circle cx="743.7" cy="169.6" r="0.8" fill="rgb(12,56,12)" opacity="0.7"/>
<circle cx="685.3" cy="152.5" r="0.8" fill="rgb(12,63,12)" opacity="0.7"/>
<circle cx="807.8" cy="34.7" r="0.7" fill="rgb(12,80,12)" opacity="0.7"/>
<circle cx="768.5" cy="81.0" r="0.7" fill="rgb(12,62,12)" opacity="0.7"/>
<circle cx="706.9" cy="59.0" r="0.7" fill="rgb(12,72,12)" opacity="0.7"/>
<circle cx="777.1" cy="143.1" r="0.6" fill="rgb(12,65,12)" opacity="0.7"/>
<circle cx="784.2" cy="125.5" r="0.9" fill="rgb(12,53,12)" opacity="0.7"/>
<circle cx="756.0" cy="87.7" r="0.5" fill="rgb(12,65,12)" opacity="0.7"/>
<circle cx="737.6" cy="35.4" r="0.5" fill="rgb(12,56,12)" opacity="0.7"/>
<circle cx="775.5" cy="70.5" r="1.0" fill="rgb(12,70,12)" opacity="0.7"/>
<circle cx="735.7" cy="97.7" r="0.7" fill="rgb(12,55,12)" opacity="0.7"/>
<circle cx="782.3" cy="84.2" r="0.4" fill="rgb(12,82,12)" opacity="0.7"/>
<circle cx="754.2" cy="119.4" r="0.9" fill="rgb(12,51,12)" opacity="0.7"/>
<circle cx="712.7" cy="33.9" r="0.6" fill="rgb(12,74,12)" opacity="0.7"/>
<circle cx="739.2" cy="108.6" r="0.8" fill="rgb(12,78,12)" opacity="0.7"/>
<circle cx="808.5" cy="147.4" r="1.0" fill="rgb(12,94,12)" opacity="0.7"/>
<circle cx="747.3" cy="38.8" r="0.5" fill="rgb(12,76,12)" opacity="0.7"/>
<circle cx="719.2" cy="115.5" r="0.8" fill="rgb(12,83,12)" opacity="0.7"/>
<circle cx="696.8" cy="71.2" r="0.4" fill="rgb(12,72,12)" opacity="0.7"/>
<circle cx="754.9" cy="154.3" r="1.0" fill="rgb(12,76,12)" opacity="0.7"/>
<circle cx="711.2" cy="163.8" r="0.6" fill="rgb(12,95,12)" opacity="0.7"/>
<circle cx="700.8" cy="35.4" r="0.5" fill="rgb(12,69,12)" opacity="0.7"/>
<circle cx="796.2" cy="129.0" r="0.9" fill="rgb(12,88,12)" opacity="0.7"/>
<circle cx="755.0" cy="60.1" r="0.7" fill="rgb(12,57,12)" opacity="0.7"/>
<circle cx="701.4" cy="170.4" r="0.7" fill="rgb(12,75,12)" opacity="0.7"/>
<circle cx="806.5" cy="126.6" r="0.6" fill="rgb(12,91,12)" opacity="0.7"/>
<circle cx="743.1" cy="59.8" r="0.8" fill="rgb(12,70,12)" opacity="0.7"/>
<circle cx="722.7" cy="45.7" r="0.8" fill="rgb(12,85,12)" opacity="0.7"/>
<circle cx="766.1" cy="171.7" r="0.5" fill="rgb(12,56,12)" opacity="0.7"/>
<circle cx="697.6" cy="74.0" r="0.6" fill="rgb(12,89,12)" opacity="0.7"/>
<circle cx="678.2" cy="166.9" r="0.4" fill="rgb(12,76,12)" opacity="0.7"/>
<circle cx="777.4" cy="62.3" r="0.4" fill="rgb(12,86,12)" opacity="0.7"/>
<circle cx="757.2" cy="122.2" r="0.7" fill="rgb(12,76,12)" opacity="0.7"/>
<circle cx="727.0" cy="91.3" r="0.7" fill="rgb(12,65,12)" opacity="0.7"/>
<circle cx="710.5" cy="70.4" r="0.8" fill="rgb(12,71,12)" opacity="0.7"/>
<circle cx="694.0" cy="34.4" r="0.5" fill="rgb(12,86,12)" opacity="0.7"/>
<circle cx="746.9" cy="111.1" r="0.7" fill="rgb(12,70,12)" opacity="0.7"/>
<circle cx="752.6" cy="123.1" r="0.8" fill="rgb(12,54,12)" opacity="0.7"/>
<circle cx="675.8" cy="99.8" r="0.9" fill="rgb(12,54,12)" opacity="0.7"/>
<circle cx="712.9" cy="152.4" r="0.8" fill="rgb(12,64,12)" opacity="0.7"/>
<circle cx="795.7" cy="118.6" r="0.9" fill="rgb(12,56,12)" opacity="0.7"/>
<circle cx="667.2" cy="126.8" r="0.5" fill="rgb(12,71,12)" opacity="0.7"/>
<circle cx="688.9" cy="118.7" r="0.5" fill="rgb(12,78,12)" opacity="0.7"/>
<circle cx="773.0" cy="147.6" r="0.9" fill="rgb(12,95,12)" opacity="0.7"/>
<circle cx="795.7" cy="109.1" r="0.7" fill="rgb(12,56,12)" opacity="0.7"/>
<circle cx="719.6" cy="147.2" r="0.5" fill="rgb(12,70,12)" opacity="0.7"/>
<circle cx="720.9" cy="96.0" r="0.8" fill="rgb(12,55,12)" opacity="0.7"/>
<circle cx="702.4" cy="165.6" r="0.7" fill="rgb(12,50,12)" opacity="0.7"/>
<circle cx="683.9" cy="116.0" r="0.6" fill="rgb(12,93,12)" opacity="0.7"/>
<circle cx="667.5" cy="84.9" r="0.6" fill="rgb(12,54,12)" opacity="0.7"/>
<circle cx="737.7" cy="165.0" r="0.8" fill="rgb(12,51,12)" opacity="0.7"/>
<circle cx="683.8" cy="99.0" r="0.6" fill="rgb(12,62,12)" opacity="0.7"/>
<circle cx="799.2" cy="85.0" r="0.6" fill="rgb(12,81,12)" opacity="0.7"/>
<circle cx="759.5" cy="140.3" r="0.5" fill="rgb(12,57,12)" opacity="0.7"/>
<circle cx="709.6" cy="78.5" r="0.9" fill="rgb(12,83,12)" opacity="0.7"/>
<circle cx="729.3" cy="61.7" r="1.0" fill="rgb(12,67,12)" opacity="0.7"/>
<circle cx="762.9" cy="40.6" r="0.6" fill="rgb(12,56,12)" opacity="0.7"/>
<circle cx="746.7" cy="92.3" r="0.5" fill="rgb(12,74,12)" opacity="0.7"/>
<circle cx="790.2" cy="65.3" r="0.7" fill="rgb(12,58,12)" opacity="0.7"/>
<circle cx="783.8" cy="30.7" r="0.9" fill="rgb(12,73,12)" opacity="0.7"/>
<circle cx="783.7" cy="33.1" r="0.7" fill="rgb(12,74,12)" opacity="0.7"/>
<circle cx="792.0" cy="41.3" r="1.0" fill="rgb(12,62,12)" opacity="0.7"/>
<circle cx="807.3" cy="93.7" r="0.7" fill="rgb(12,55,12)" opacity="0.7"/>
<circle cx="804.7" cy="116.2" r="0.9" fill="rgb(12,80,12)" opacity="0.7"/>
<circle cx="740.1" cy="37.6" r="0.6" fill="rgb(12,82,12)" opacity="0.7"/>
<circle cx="729.6" cy="115.5" r="0.9" fill="rgb(12,91,12)" opacity="0.7"/>
<circle cx="756.0" cy="114.5" r="0.5" fill="rgb(12,76,12)" opacity="0.7"/>
<circle cx="777.8" cy="89.5" r="0.9" fill="rgb(12,77,12)" opacity="0.7"/>
<circle cx="798.8" cy="84.5" r="1.0" fill="rgb(12,60,12)" opacity="0.7"/>
<circle cx="795.4" cy="51.3" r="0.9" fill="rgb(12,77,12)" opacity="0.7"/>
<circle cx="787.1" cy="41.0" r="0.6" fill="rgb(12,75,12)" opacity="0.7"/>
<circle cx="727.7" cy="69.0" r="0.7" fill="rgb(12,68,12)" opacity="0.7"/>
<circle cx="667.3" cy="121.2" r="0.9" fill="rgb(12,79,12)" opacity="0.7"/>
<circle cx="678.1" cy="129.0" r="0.4" fill="rgb(12,76,12)" opacity="0.7"/>
<circle cx="794.5" cy="58.3" r="0.4" fill="rgb(12,81,12)" opacity="0.7"/>
<circle cx="805.4" cy="116.2" r="0.5" fill="rgb(12,65,12)" opacity="0.7"/>
<circle cx="678.1" cy="82.5" r="0.8" fill="rgb(12,50,12)" opacity="0.7"/>
<circle cx="693.6" cy="91.8" r="0.6" fill="rgb(12,91,12)" opacity="0.7"/>
<circle cx="720.7" cy="141.6" r="0.5" fill="rgb(12,83,12)" opacity="0.7"/>
<circle cx="796.1" cy="158.5" r="0.7" fill="rgb(12,68,12)" opacity="0.7"/>
<circle cx="683.0" cy="122.7" r="0.6" fill="rgb(12,73,12)" opacity="0.7"/>
<circle cx="797.5" cy="108.8" r="0.7" fill="rgb(12,65,12)" opacity="0.7"/>
<circle cx="806.0" cy="50.2" r="0.4" fill="rgb(12,50,12)" opacity="0.7"/>
<circle cx="772.3" cy="49.2" r="0.7" fill="rgb(12,95,12)" opacity="0.7"/>
<circle cx="675.0" cy="32.2" r="0.5" fill="rgb(12,64,12)" opacity="0.7"/>
<circle cx="739.6" cy="117.9" r="0.9" fill="rgb(12,53,12)" opacity="0.7"/>
<circle cx="782.8" cy="64.3" r="0.8" fill="rgb(12,72,12)" opacity="0.7"/>
<circle cx="778.8" cy="110.3" r="0.7" fill="rgb(12,56,12)" opacity="0.7"/>
<circle cx="761.3" cy="163.2" r="0.6" fill="rgb(12,83,12)" opacity="0.7"/>
<circle cx="706.7" cy="114.0" r="0.8" fill="rgb(12,74,12)" opacity="0.7"/>
<circle cx="809.3" cy="73.5" r="0.5" fill="rgb(12,93,12)" opacity="0.7"/>
<circle cx="678.1" cy="94.6" r="0.8" fill="rgb(12,83,12)" opacity="0.7"/>
<circle cx="756.2" cy="44.2" r="0.7" fill="rgb(12,85,12)" opacity="0.7"/>
<circle cx="720.7" cy="88.9" r="0.7" fill="rgb(12,54,12)" opacity="0.7"/>
<circle cx="738.2" cy="111.5" r="0.5" fill="rgb(12,79,12)" opacity="0.7"/>
<circle cx="673.1" cy="136.9" r="0.5" fill="rgb(12,59,12)" opacity="0.7"/>
<circle cx="720.9" cy="79.1" r="0.9" fill="rgb(12,80,12)" opacity="0.7"/>
<circle cx="779.9" cy="136.7" r="0.6" fill="rgb(12,51,12)" opacity="0.7"/>
<circle cx="757.1" cy="86.0" r="0.8" fill="rgb(12,65,12)" opacity="0.7"/>
<circle cx="768.1" cy="115.3" r="0.9" fill="rgb(12,61,12)" opacity="0.7"/>
<circle cx="752.5" cy="111.5" r="0.9" fill="rgb(12,72,12)" opacity="0.7"/>
<circle cx="747.8" cy="31.4" r="0.4" fill="rgb(12,89,12)" opacity="0.7"/>
<circle cx="738.2" cy="155.5" r="0.4" fill="rgb(12,87,12)" opacity="0.7"/>
<circle cx="726.2" cy="89.4" r="0.7" fill="rgb(12,78,12)" opacity="0.7"/>
<circle cx="755.1" cy="61.9" r="1.0" fill="rgb(12,57,12)" opacity="0.7"/>
<circle cx="768.6" cy="133.6" r="0.8" fill="rgb(12,52,12)" opacity="0.7"/>
<circle cx="676.6" cy="96.3" r="0.8" fill="rgb(12,84,12)" opacity="0.7"/>
<circle cx="770.8" cy="40.0" r="0.8" fill="rgb(12,67,12)" opacity="0.7"/>
<circle cx="684.4" cy="138.6" r="0.6" fill="rgb(12,69,12)" opacity="0.7"/>
<circle cx="710.1" cy="156.5" r="0.6" fill="rgb(12,92,12)" opacity="0.7"/>
<circle cx="796.9" cy="97.0" r="0.5" fill="rgb(12,63,12)" opacity="0.7"/>
<circle cx="802.8" cy="75.3" r="0.8" fill="rgb(12,79,12)" opacity="0.7"/>
<circle cx="679.7" cy="80.8" r="0.4" fill="rgb(12,77,12)" opacity="0.7"/>
<circle cx="730.0" cy="104.6" r="0.6" fill="rgb(12,62,12)" opacity="0.7"/>
<circle cx="687.0" cy="100.7" r="0.8" fill="rgb(12,78,12)" opacity="0.7"/>
<circle cx="801.7" cy="79.5" r="0.4" fill="rgb(12,77,12)" opacity="0.7"/>
<circle cx="705.6" cy="101.1" r="0.7" fill="rgb(12,63,12)" opacity="0.7"/>
<circle cx="747.0" cy="125.4" r="0.7" fill="rgb(12,66,12)" opacity="0.7"/>
<circle cx="787.4" cy="72.3" r="0.5" fill="rgb(12,66,12)" opacity="0.7"/>
<circle cx="728.3" cy="151.8" r="0.7" fill="rgb(12,81,12)" opacity="0.7"/>
<circle cx="757.6" cy="122.3" r="1.0" fill="rgb(12,57,12)" opacity="0.7"/>
<circle cx="766.3" cy="45.9" r="0.5" fill="rgb(12,90,12)" opacity="0.7"/>
<circle cx="708.0" cy="138.8" r="0.5" fill="rgb(12,84,12)" opacity="0.7"/>
<circle cx="722.3" cy="121.6" r="0.8" fill="rgb(12,66,12)" opacity="0.7"/>
<circle cx="681.4" cy="153.5" r="0.9" fill="rgb(12,69,12)" opacity="0.7"/>
<circle cx="676.3" cy="133.2" r="0.6" fill="rgb(12,76,12)" opacity="0.7"/>
<circle cx="676.0" cy="73.4" r="0.5" fill="rgb(12,56,12)" opacity="0.7"/>
<circle cx="780.8" cy="159.1" r="0.7" fill="rgb(12,56,12)" opacity="0.7"/>
<circle cx="733.5" cy="40.3" r="0.7" fill="rgb(12,86,12)" opacity="0.7"/>
<circle cx="744.9" cy="123.8" r="0.8" fill="rgb(12,70,12)" opacity="0.7"/>
<circle cx="801.4" cy="166.2" r="0.7" fill="rgb(12,56,12)" opacity="0.7"/>
<circle cx="691.5" cy="65.4" r="0.8" fill="rgb(12,56,12)" opacity="0.7"/>
<circle cx="679.1" cy="172.2" r="0.7" fill="rgb(12,77,12)" opacity="0.7"/>
<circle cx="683.5" cy="74.1" r="0.7" fill="rgb(12,77,12)" opacity="0.7"/>
<circle cx="672.6" cy="157.0" r="1.0" fill="rgb(12,58,12)" opacity="0.7"/>
<circle cx="722.0" cy="121.3" r="1.0" fill="rgb(12,70,12)" opacity="0.7"/>
<circle cx="793.9" cy="132.5" r="0.4" fill="rgb(12,69,12)" opacity="0.7"/>
<circle cx="674.7" cy="165.2" r="0.7" fill="rgb(12,78,12)" opacity="0.7"/>
<circle cx="746.6" cy="144.9" r="0.8" fill="rgb(12,66,12)" opacity="0.7"/>
<circle cx="707.9" cy="137.2" r="0.6" fill="rgb(12,80,12)" opacity="0.7"/>
<circle cx="725.2" cy="132.2" r="0.5" fill="rgb(12,88,12)" opacity="0.7"/>
<circle cx="696.2" cy="130.1" r="0.8" fill="rgb(12,56,12)" opacity="0.7"/>
<circle cx="731.1" cy="63.7" r="0.5" fill="rgb(12,91,12)" opacity="0.7"/>
<circle cx="679.9" cy="94.3" r="0.8" fill="rgb(12,93,12)" opacity="0.7"/>
<circle cx="690.5" cy="130.6" r="0.5" fill="rgb(12,87,12)" opacity="0.7"/>
<circle cx="794.4" cy="120.4" r="0.8" fill="rgb(12,84,12)" opacity="0.7"/>
<circle cx="770.8" cy="47.6" r="0.9" fill="rgb(12,71,12)" opacity="0.7"/>
<circle cx="750.2" cy="99.3" r="0.9" fill="rgb(12,83,12)" opacity="0.7"/>
<circle cx="799.4" cy="70.6" r="0.6" fill="rgb(12,68,12)" opacity="0.7"/>
<circle cx="686.1" cy="90.5" r="0.6" fill="rgb(12,58,12)" opacity="0.7"/>
<circle cx="708.7" cy="58.0" r="1.0" fill="rgb(12,52,12)" opacity="0.7"/>
<circle cx="667.2" cy="165.9" r="0.6" fill="rgb(12,76,12)" opacity="0.7"/>
<circle cx="762.2" cy="90.6" r="0.9" fill="rgb(12,93,12)" opacity="0.7"/>
<circle cx="733.4" cy="161.7" r="0.7" fill="rgb(12,70,12)" opacity="0.7"/>
<circle cx="769.5" cy="118.5" r="0.9" fill="rgb(12,60,12)" opacity="0.7"/>
<circle cx="750.1" cy="123.9" r="0.7" fill="rgb(12,80,12)" opacity="0.7"/>
<circle cx="778.1" cy="150.5" r="0.4" fill="rgb(12,84,12)" opacity="0.7"/>
<circle cx="667.3" cy="169.9" r="0.8" fill="rgb(12,60,12)" opacity="0.7"/>
<circle cx="807.3" cy="152.8" r="0.5" fill="rgb(12,75,12)" opacity="0.7"/>
<circle cx="760.7" cy="85.4" r="0.8" fill="rgb(12,64,12)" opacity="0.7"/>
<circle cx="760.0" cy="162.5" r="0.5" fill="rgb(12,65,12)" opacity="0.7"/>
<circle cx="750.7" cy="137.1" r="0.7" fill="rgb(12,77,12)" opacity="0.7"/>
<circle cx="750.8" cy="62.1" r="0.5" fill="rgb(12,85,12)" opacity="0.7"/>
<circle cx="752.9" cy="139.1" r="0.7" fill="rgb(12,93,12)" opacity="0.7"/>
<circle cx="771.6" cy="158.4" r="0.7" fill="rgb(12,50,12)" opacity="0.7"/>
<circle cx="688.2" cy="38.2" r="0.4" fill="rgb(12,62,12)" opacity="0.7"/>
<circle cx="682.3" cy="96.0" r="0.7" fill="rgb(12,80,12)" opacity="0.7"/>
<circle cx="735.6" cy="105.1" r="0.4" fill="rgb(12,94,12)" opacity="0.7"/>
<circle cx="777.5" cy="119.8" r="0.9" fill="rgb(12,89,12)" opacity="0.7"/>
<circle cx="754.0" cy="160.8" r="0.9" fill="rgb(12,63,12)" opacity="0.7"/>
<circle cx="669.9" cy="157.4" r="1.0" fill="rgb(12,62,12)" opacity="0.7"/>
<circle cx="806.4" cy="130.3" r="0.5" fill="rgb(12,84,12)" opacity="0.7"/>
<circle cx="720.2" cy="42.8" r="0.5" fill="rgb(12,50,12)" opacity="0.7"/>
<circle cx="671.8" cy="38.3" r="0.5" fill="rgb(12,74,12)" opacity="0.7"/>
<circle cx="723.4" cy="141.1" r="0.5" fill="rgb(12,74,12)" opacity="0.7"/>
<circle cx="766.2" cy="61.3" r="0.6" fill="rgb(12,78,12)" opacity="0.7"/>
<circle cx="688.2" cy="168.4" r="0.6" fill="rgb(12,83,12)" opacity="0.7"/>
<circle cx="777.5" cy="129.9" r="0.9" fill="rgb(12,93,12)" opacity="0.7"/>
<circle cx="705.4" cy="43.3" r="0.5" fill="rgb(12,77,12)" opacity="0.7"/>
<circle cx="781.2" cy="89.9" r="0.8" fill="rgb(12,92,12)" opacity="0.7"/>
<circle cx="747.7" cy="148.9" r="0.8" fill="rgb(12,62,12)" opacity="0.7"/>
<circle cx="696.2" cy="113.8" r="0.8" fill="rgb(12,52,12)" opacity="0.7"/>
<circle cx="694.7" cy="106.8" r="0.9" fill="rgb(12,73,12)" opacity="0.7"/>
<circle cx="758.2" cy="132.0" r="0.7" fill="rgb(12,59,12)" opacity="0.7"/>
<circle cx="757.3" cy="56.2" r="0.7" fill="rgb(12,95,12)" opacity="0.7"/>
<circle cx="728.2" cy="45.1" r="0.4" fill="rgb(12,85,12)" opacity="0.7"/>
<circle cx="734.2" cy="149.3" r="0.9" fill="rgb(12,55,12)" opacity="0.7"/>
<circle cx="737.2" cy="82.9" r="1.0" fill="rgb(12,88,12)" opacity="0.7"/>
<circle cx="720.2" cy="157.5" r="0.6" fill="rgb(12,86,12)" opacity="0.7"/>
<circle cx="732.0" cy="162.3" r="0.8" fill="rgb(12,84,12)" opacity="0.7"/>
<circle cx="726.4" cy="86.6" r="0.7" fill="rgb(12,51,12)" opacity="0.7"/>
<circle cx="700.1" cy="72.4" r="0.9" fill="rgb(12,54,12)" opacity="0.7"/>
<circle cx="778.8" cy="99.7" r="0.4" fill="rgb(12,91,12)" opacity="0.7"/>
<circle cx="752.6" cy="43.6" r="0.8" fill="rgb(12,76,12)" opacity="0.7"/>
<circle cx="692.1" cy="80.5" r="0.9" fill="rgb(12,52,12)" opacity="0.7"/>
<circle cx="711.6" cy="127.6" r="0.5" fill="rgb(12,83,12)" opacity="0.7"/>
<circle cx="795.2" cy="140.1" r="0.9" fill="rgb(12,93,12)" opacity="0.7"/>
<circle cx="758.6" cy="35.9" r="0.7" fill="rgb(12,80,12)" opacity="0.7"/>
<circle cx="698.2" cy="73.7" r="0.7" fill="rgb(12,89,12)" opacity="0.7"/>
<circle cx="731.7" cy="40.2" r="0.8" fill="rgb(12,65,12)" opacity="0.7"/>
<circle cx="793.9" cy="149.7" r="0.8" fill="rgb(12,54,12)" opacity="0.7"/>
<circle cx="801.1" cy="72.0" r="0.5" fill="rgb(12,72,12)" opacity="0.7"/>
<circle cx="757.1" cy="91.0" r="1.0" fill="rgb(12,63,12)" opacity="0.7"/>
<circle cx="718.3" cy="45.0" r="0.6" fill="rgb(12,81,12)" opacity="0.7"/>
<circle cx="714.2" cy="128.8" r="0.7" fill="rgb(12,53,12)" opacity="0.7"/>
<circle cx="752.7" cy="158.1" r="0.6" fill="rgb(12,79,12)" opacity="0.7"/>
<circle cx="785.4" cy="102.3" r="0.6" fill="rgb(12,82,12)" opacity="0.7"/>
<circle cx="680.5" cy="103.5" r="0.9" fill="rgb(12,76,12)" opacity="0.7"/>
<circle cx="761.6" cy="118.6" r="0.6" fill="rgb(12,77,12)" opacity="0.7"/>
<circle cx="684.9" cy="39.1" r="0.6" fill="rgb(12,52,12)" opacity="0.7"/>
<circle cx="711.1" cy="82.6" r="0.8" fill="rgb(12,87,12)" opacity="0.7"/>
<circle cx="682.6" cy="31.3" r="0.5" fill="rgb(12,69,12)" opacity="0.7"/>
<circle cx="673.0" cy="45.7" r="0.9" fill="rgb(12,53,12)" opacity="0.7"/>
<circle cx="676.7" cy="41.7" r="0.8" fill="rgb(12,68,12)" opacity="0.7"/>
<circle cx="729.2" cy="63.4" r="0.7" fill="rgb(12,68,12)" opacity="0.7"/>
<circle cx="690.3" cy="77.8" r="0.8" fill="rgb(12,82,12)" opacity="0.7"/>
<circle cx="748.2" cy="86.9" r="0.7" fill="rgb(12,79,12)" opacity="0.7"/>
<circle cx="789.0" cy="55.5" r="0.7" fill="rgb(12,70,12)" opacity="0.7"/>
<circle cx="789.3" cy="42.7" r="0.7" fill="rgb(12,67,12)" opacity="0.7"/>
<circle cx="720.4" cy="142.9" r="1.0" fill="rgb(12,57,12)" opacity="0.7"/>
<circle cx="723.2" cy="153.4" r="1.0" fill="rgb(12,58,12)" opacity="0.7"/>
<circle cx="687.8" cy="145.2" r="0.7" fill="rgb(12,72,12)" opacity="0.7"/>
<circle cx="707.0" cy="55.0" r="0.6" fill="rgb(12,93,12)" opacity="0.7"/>
<circle cx="724.9" cy="66.8" r="0.8" fill="rgb(12,77,12)" opacity="0.7"/>
<circle cx="798.2" cy="104.3" r="0.5" fill="rgb(12,74,12)" opacity="0.7"/>
<circle cx="672.1" cy="147.8" r="0.8" fill="rgb(12,65,12)" opacity="0.7"/>
<circle cx="766.5" cy="156.0" r="0.8" fill="rgb(12,51,12)" opacity="0.7"/>
<circle cx="796.7" cy="142.1" r="0.6" fill="rgb(12,71,12)" opacity="0.7"/>
<circle cx="715.5" cy="80.1" r="0.9" fill="rgb(12,50,12)" opacity="0.7"/>
<circle cx="673.5" cy="101.9" r="0.6" fill="rgb(12,83,12)" opacity="0.7"/>
<circle cx="696.5" cy="162.7" r="1.0" fill="rgb(12,71,12)" opacity="0.7"/>
<circle cx="780.5" cy="61.8" r="0.9" fill="#041804" opacity="0.5"/>
<circle cx="671.7" cy="47.6" r="0.7" fill="#041804" opacity="0.5"/>
<circle cx="808.7" cy="74.9" r="0.8" fill="#041804" opacity="0.5"/>
<circle cx="676.4" cy="45.8" r="1.3" fill="#041804" opacity="0.5"/>
<circle cx="773.6" cy="162.5" r="1.2" fill="#041804" opacity="0.5"/>
<circle cx="779.7" cy="66.7" r="0.7" fill="#041804" opacity="0.5"/>
<circle cx="705.9" cy="39.4" r="0.7" fill="#041804" opacity="0.5"/>
<circle cx="770.7" cy="100.7" r="0.6" fill="#041804" opacity="0.5"/>
<circle cx="710.9" cy="152.3" r="1.2" fill="#041804" opacity="0.5"/>
<circle cx="772.0" cy="135.3" r="1.2" fill="#041804" opacity="0.5"/>
<circle cx="747.2" cy="85.2" r="1.0" fill="#041804" opacity="0.5"/>
<circle cx="707.7" cy="35.3" r="0.8" fill="#041804" opacity="0.5"/>
<circle cx="732.9" cy="47.3" r="0.7" fill="#041804" opacity="0.5"/>
<circle cx="702.6" cy="83.0" r="1.3" fill="#041804" opacity="0.5"/>
<circle cx="737.1" cy="150.5" r="1.1" fill="#041804" opacity="0.5"/>
<circle cx="752.3" cy="76.4" r="0.9" fill="#041804" opacity="0.5"/>
<circle cx="712.7" cy="121.3" r="1.2" fill="#041804" opacity="0.5"/>
<circle cx="780.8" cy="72.5" r="0.7" fill="#041804" opacity="0.5"/>
<circle cx="668.3" cy="114.2" r="0.8" fill="#041804" opacity="0.5"/>
<circle cx="667.8" cy="73.5" r="0.8" fill="#041804" opacity="0.5"/>
<circle cx="696.6" cy="125.7" r="1.0" fill="#041804" opacity="0.5"/>
<circle cx="707.6" cy="135.2" r="0.7" fill="#041804" opacity="0.5"/>
<circle cx="799.7" cy="47.1" r="1.0" fill="#041804" opacity="0.5"/>
<circle cx="768.5" cy="135.5" r="0.9" fill="#041804" opacity="0.5"/>
<circle cx="792.5" cy="120.6" r="1.1" fill="#041804" opacity="0.5"/>
<circle cx="678.4" cy="56.9" r="0.9" fill="#041804" opacity="0.5"/>
<circle cx="745.5" cy="43.7" r="1.1" fill="#041804" opacity="0.5"/>
<circle cx="716.9" cy="98.4" r="1.0" fill="#041804" opacity="0.5"/>
<circle cx="787.8" cy="73.5" r="1.0" fill="#041804" opacity="0.5"/>
<circle cx="754.2" cy="124.4" r="0.8" fill="#041804" opacity="0.5"/>
<circle cx="707.2" cy="97.7" r="1.0" fill="#041804" opacity="0.5"/>
<circle cx="759.8" cy="49.3" r="0.9" fill="#041804" opacity="0.5"/>
<circle cx="747.7" cy="58.0" r="0.7" fill="#041804" opacity="0.5"/>
<circle cx="800.8" cy="33.0" r="0.9" fill="#041804" opacity="0.5"/>
<circle cx="709.4" cy="34.5" r="0.8" fill="#041804" opacity="0.5"/>
<circle cx="690.2" cy="87.6" r="1.2" fill="#041804" opacity="0.5"/>
<circle cx="678.4" cy="80.6" r="1.1" fill="#041804" opacity="0.5"/>
<circle cx="757.0" cy="33.0" r="0.8" fill="#041804" opacity="0.5"/>
<circle cx="707.5" cy="158.9" r="0.9" fill="#041804" opacity="0.5"/>
<circle cx="704.1" cy="99.1" r="0.9" fill="#041804" opacity="0.5"/>
<ellipse cx="674.6" cy="40.9" rx="2.8" ry="3.4" fill="#1f621d" opacity="0.4" filter="url(#bl1)"/>
<ellipse cx="680.1" cy="55.2" rx="2.8" ry="3.4" fill="#1f621d" opacity="0.4" filter="url(#bl1)"/>
<ellipse cx="677.9" cy="72.9" rx="2.8" ry="3.4" fill="#1f621d" opacity="0.4" filter="url(#bl1)"/>
<ellipse cx="683.4" cy="72.9" rx="2.8" ry="3.4" fill="#1f621d" opacity="0.4" filter="url(#bl1)"/>
<ellipse cx="680.8" cy="88.4" rx="2.8" ry="3.4" fill="#1f621d" opacity="0.4" filter="url(#bl1)"/>
<ellipse cx="687.8" cy="88.4" rx="2.8" ry="3.4" fill="#1f621d" opacity="0.4" filter="url(#bl1)"/>
<ellipse cx="685.6" cy="110.5" rx="2.8" ry="3.4" fill="#1f621d" opacity="0.4" filter="url(#bl1)"/>
<ellipse cx="684.5" cy="126.0" rx="2.8" ry="3.4" fill="#1f621d" opacity="0.4" filter="url(#bl1)"/>
<ellipse cx="674.6" cy="133.7" rx="2.8" ry="3.4" fill="#1f621d" opacity="0.4" filter="url(#bl1)"/>
<ellipse cx="706.6" cy="118.2" rx="2.8" ry="3.4" fill="#2e8a2a" opacity="0.4" filter="url(#bl1)"/>
<ellipse cx="714.3" cy="124.9" rx="2.8" ry="3.4" fill="#2e8a2a" opacity="0.4" filter="url(#bl1)"/>
<ellipse cx="718.8" cy="72.9" rx="2.8" ry="3.4" fill="#1f621d" opacity="0.4" filter="url(#bl1)"/>
<ellipse cx="735.3" cy="77.3" rx="2.8" ry="3.4" fill="#1f621d" opacity="0.4" filter="url(#bl1)"/>
<ellipse cx="744.1" cy="84.0" rx="2.8" ry="3.4" fill="#1f621d" opacity="0.4" filter="url(#bl1)"/>
<ellipse cx="749.3" cy="82.9" rx="2.8" ry="3.4" fill="#2e8a2a" opacity="0.4" filter="url(#bl1)"/>
<ellipse cx="755.2" cy="87.3" rx="2.8" ry="3.4" fill="#1f621d" opacity="0.4" filter="url(#bl1)"/>
<ellipse cx="761.9" cy="50.8" rx="2.8" ry="3.4" fill="#1f621d" opacity="0.4" filter="url(#bl1)"/>
<ellipse cx="767.4" cy="61.9" rx="2.8" ry="3.4" fill="#1f621d" opacity="0.4" filter="url(#bl1)"/>
<ellipse cx="768.5" cy="82.9" rx="2.8" ry="3.4" fill="#1f621d" opacity="0.4" filter="url(#bl1)"/>
<ellipse cx="742.0" cy="107.2" rx="2.8" ry="3.4" fill="#2e8a2a" opacity="0.4" filter="url(#bl1)"/>
<ellipse cx="756.3" cy="102.8" rx="2.8" ry="3.4" fill="#2e8a2a" opacity="0.4" filter="url(#bl1)"/>
<ellipse cx="759.7" cy="110.5" rx="2.8" ry="3.4" fill="#2e8a2a" opacity="0.4" filter="url(#bl1)"/>
<ellipse cx="735.3" cy="124.9" rx="2.8" ry="3.4" fill="#2e8a2a" opacity="0.4" filter="url(#bl1)"/>
<ellipse cx="786.2" cy="50.8" rx="2.8" ry="3.4" fill="#1f621d" opacity="0.4" filter="url(#bl1)"/>
<ellipse cx="786.2" cy="64.1" rx="2.8" ry="3.4" fill="#1f621d" opacity="0.4" filter="url(#bl1)"/>
<ellipse cx="801.6" cy="55.2" rx="2.8" ry="3.4" fill="#1f621d" opacity="0.4" filter="url(#bl1)"/>
<ellipse cx="802.7" cy="66.3" rx="2.8" ry="3.4" fill="#1f621d" opacity="0.4" filter="url(#bl1)"/>
<ellipse cx="800.5" cy="112.7" rx="2.8" ry="3.4" fill="#2e8a2a" opacity="0.4" filter="url(#bl1)"/>
<ellipse cx="792.8" cy="148.1" rx="2.8" ry="3.4" fill="#1f621d" opacity="0.4" filter="url(#bl1)"/>
<ellipse cx="776.2" cy="143.6" rx="2.8" ry="3.4" fill="#1f621d" opacity="0.4" filter="url(#bl1)"/>
<ellipse cx="765.2" cy="145.9" rx="2.8" ry="3.4" fill="#2e8a2a" opacity="0.4" filter="url(#bl1)"/>
<ellipse cx="753.0" cy="148.1" rx="2.8" ry="3.4" fill="#1f621d" opacity="0.4" filter="url(#bl1)"/>
<ellipse cx="739.8" cy="158.0" rx="2.8" ry="3.4" fill="#2e8a2a" opacity="0.4" filter="url(#bl1)"/>
<ellipse cx="723.2" cy="169.1" rx="2.8" ry="3.4" fill="#1f621d" opacity="0.4" filter="url(#bl1)"/>
<ellipse cx="760.8" cy="170.2" rx="2.8" ry="3.4" fill="#1f621d" opacity="0.4" filter="url(#bl1)"/>
<ellipse cx="805.0" cy="33.1" rx="2.8" ry="3.4" fill="#1f621d" opacity="0.4" filter="url(#bl1)"/>
<ellipse cx="781.8" cy="92.8" rx="2.8" ry="3.4" fill="#1f621d" opacity="0.4" filter="url(#bl1)"/>
<ellipse cx="714.3" cy="101.7" rx="2.8" ry="3.4" fill="#1f621d" opacity="0.4" filter="url(#bl1)"/>
<circle cx="801.70" cy="55.50" r="1.4" fill="#3cb03c" stroke="none" stroke-width="0"/>
<circle cx="804.50" cy="86.00" r="1.0" fill="#000" stroke="none" stroke-width="0"/>
</g>
<rect x="790.30" y="165.30" width="17.20" height="2.80" fill="#fff" stroke="none" stroke-width="0"/>
<g clip-path="url(#cr)">
<rect x="872.00" y="29.80" width="145.00" height="144.80" fill="#1a0202" stroke="none" stroke-width="0"/>
<line x1="893.7" y1="126.7" x2="895.4" y2="140.5" stroke="#3e0505" stroke-width="0.9" opacity="0.8"/>
<line x1="949.9" y1="141.7" x2="953.6" y2="157.1" stroke="#3e0505" stroke-width="0.9" opacity="0.8"/>
<line x1="878.4" y1="103.2" x2="879.7" y2="115.2" stroke="#3e0505" stroke-width="0.9" opacity="0.8"/>
<line x1="971.2" y1="83.3" x2="972.1" y2="98.7" stroke="#3e0505" stroke-width="0.9" opacity="0.8"/>
<line x1="969.2" y1="164.2" x2="970.8" y2="180.7" stroke="#3e0505" stroke-width="0.9" opacity="0.8"/>
<line x1="974.1" y1="63.4" x2="975.0" y2="78.9" stroke="#3e0505" stroke-width="0.9" opacity="0.8"/>
<line x1="880.8" y1="139.4" x2="878.7" y2="153.3" stroke="#3e0505" stroke-width="0.9" opacity="0.8"/>
<line x1="947.9" y1="134.7" x2="950.1" y2="148.3" stroke="#3e0505" stroke-width="0.9" opacity="0.8"/>
<line x1="1008.2" y1="94.2" x2="1008.8" y2="114.1" stroke="#3e0505" stroke-width="0.9" opacity="0.8"/>
<line x1="918.9" y1="133.5" x2="922.6" y2="142.5" stroke="#3e0505" stroke-width="0.9" opacity="0.8"/>
<line x1="984.7" y1="124.5" x2="985.0" y2="142.0" stroke="#3e0505" stroke-width="0.9" opacity="0.8"/>
<line x1="996.7" y1="51.3" x2="996.6" y2="66.6" stroke="#3e0505" stroke-width="0.9" opacity="0.8"/>
<line x1="973.3" y1="169.0" x2="975.8" y2="186.9" stroke="#3e0505" stroke-width="0.9" opacity="0.8"/>
<line x1="881.4" y1="91.8" x2="884.7" y2="111.2" stroke="#3e0505" stroke-width="0.9" opacity="0.8"/>
<line x1="981.6" y1="78.4" x2="983.8" y2="92.8" stroke="#3e0505" stroke-width="0.9" opacity="0.8"/>
<line x1="968.8" y1="122.4" x2="971.7" y2="139.0" stroke="#3e0505" stroke-width="0.9" opacity="0.8"/>
<line x1="1012.7" y1="101.6" x2="1012.7" y2="117.5" stroke="#3e0505" stroke-width="0.9" opacity="0.8"/>
<line x1="953.5" y1="37.1" x2="957.1" y2="48.9" stroke="#3e0505" stroke-width="0.9" opacity="0.8"/>
<line x1="944.4" y1="36.1" x2="942.0" y2="55.3" stroke="#3e0505" stroke-width="0.9" opacity="0.8"/>
<line x1="912.2" y1="73.3" x2="914.7" y2="84.2" stroke="#3e0505" stroke-width="0.9" opacity="0.8"/>
<line x1="968.8" y1="112.4" x2="972.0" y2="126.1" stroke="#3e0505" stroke-width="0.9" opacity="0.8"/>
<line x1="919.7" y1="67.6" x2="918.6" y2="75.6" stroke="#3e0505" stroke-width="0.9" opacity="0.8"/>
<line x1="889.3" y1="51.6" x2="887.8" y2="68.8" stroke="#3e0505" stroke-width="0.9" opacity="0.8"/>
<line x1="1008.6" y1="81.4" x2="1006.6" y2="92.9" stroke="#3e0505" stroke-width="0.9" opacity="0.8"/>
<line x1="963.2" y1="99.4" x2="960.1" y2="113.7" stroke="#3e0505" stroke-width="0.9" opacity="0.8"/>
<line x1="911.0" y1="50.9" x2="913.3" y2="60.1" stroke="#3e0505" stroke-width="0.9" opacity="0.8"/>
<line x1="935.7" y1="141.1" x2="936.0" y2="159.5" stroke="#3e0505" stroke-width="0.9" opacity="0.8"/>
<line x1="918.0" y1="167.2" x2="914.3" y2="186.0" stroke="#3e0505" stroke-width="0.9" opacity="0.8"/>
<line x1="933.5" y1="30.4" x2="931.6" y2="50.3" stroke="#3e0505" stroke-width="0.9" opacity="0.8"/>
<line x1="975.9" y1="136.9" x2="978.4" y2="145.0" stroke="#3e0505" stroke-width="0.9" opacity="0.8"/>
<line x1="916.5" y1="97.5" x2="919.8" y2="116.4" stroke="#3e0505" stroke-width="0.9" opacity="0.8"/>
<line x1="893.7" y1="173.2" x2="894.1" y2="184.8" stroke="#3e0505" stroke-width="0.9" opacity="0.8"/>
<line x1="884.0" y1="91.9" x2="884.2" y2="105.3" stroke="#3e0505" stroke-width="0.9" opacity="0.8"/>
<line x1="917.0" y1="167.4" x2="916.8" y2="179.1" stroke="#3e0505" stroke-width="0.9" opacity="0.8"/>
<line x1="984.7" y1="65.4" x2="984.1" y2="74.7" stroke="#3e0505" stroke-width="0.9" opacity="0.8"/>
<line x1="906.5" y1="174.6" x2="907.5" y2="188.8" stroke="#3e0505" stroke-width="0.9" opacity="0.8"/>
<line x1="969.6" y1="127.5" x2="969.8" y2="139.9" stroke="#3e0505" stroke-width="0.9" opacity="0.8"/>
<line x1="893.4" y1="34.3" x2="890.3" y2="47.1" stroke="#3e0505" stroke-width="0.9" opacity="0.8"/>
<line x1="873.5" y1="127.8" x2="872.2" y2="138.6" stroke="#3e0505" stroke-width="0.9" opacity="0.8"/>
<line x1="917.5" y1="101.5" x2="915.2" y2="119.7" stroke="#3e0505" stroke-width="0.9" opacity="0.8"/>
<line x1="942.0" y1="40.0" x2="938.7" y2="58.6" stroke="#3e0505" stroke-width="0.9" opacity="0.8"/>
<line x1="955.8" y1="72.2" x2="957.5" y2="80.8" stroke="#3e0505" stroke-width="0.9" opacity="0.8"/>
<line x1="1000.9" y1="165.8" x2="1002.2" y2="174.4" stroke="#3e0505" stroke-width="0.9" opacity="0.8"/>
<line x1="933.7" y1="151.3" x2="934.5" y2="161.9" stroke="#3e0505" stroke-width="0.9" opacity="0.8"/>
<line x1="906.0" y1="39.2" x2="906.2" y2="49.4" stroke="#3e0505" stroke-width="0.9" opacity="0.8"/>
<line x1="936.6" y1="159.9" x2="939.8" y2="173.8" stroke="#3e0505" stroke-width="0.9" opacity="0.8"/>
<line x1="985.7" y1="49.4" x2="989.3" y2="67.8" stroke="#3e0505" stroke-width="0.9" opacity="0.8"/>
<line x1="942.0" y1="158.5" x2="940.4" y2="178.2" stroke="#3e0505" stroke-width="0.9" opacity="0.8"/>
<line x1="918.8" y1="164.0" x2="921.5" y2="183.2" stroke="#3e0505" stroke-width="0.9" opacity="0.8"/>
<line x1="977.4" y1="40.6" x2="975.6" y2="56.5" stroke="#3e0505" stroke-width="0.9" opacity="0.8"/>
<line x1="1003.7" y1="128.7" x2="1000.1" y2="140.9" stroke="#3e0505" stroke-width="0.9" opacity="0.8"/>
<line x1="922.0" y1="54.8" x2="919.8" y2="69.0" stroke="#3e0505" stroke-width="0.9" opacity="0.8"/>
<line x1="926.1" y1="68.7" x2="925.4" y2="88.1" stroke="#3e0505" stroke-width="0.9" opacity="0.8"/>
<line x1="958.5" y1="139.0" x2="962.0" y2="147.4" stroke="#3e0505" stroke-width="0.9" opacity="0.8"/>
<line x1="999.7" y1="43.8" x2="997.2" y2="60.7" stroke="#3e0505" stroke-width="0.9" opacity="0.8"/>
<line x1="981.2" y1="119.1" x2="981.0" y2="135.8" stroke="#3e0505" stroke-width="0.9" opacity="0.8"/>
<line x1="934.1" y1="58.2" x2="931.8" y2="67.5" stroke="#3e0505" stroke-width="0.9" opacity="0.8"/>
<line x1="877.3" y1="168.0" x2="880.9" y2="180.2" stroke="#3e0505" stroke-width="0.9" opacity="0.8"/>
<line x1="931.8" y1="70.4" x2="934.1" y2="84.3" stroke="#3e0505" stroke-width="0.9" opacity="0.8"/>
<line x1="896.7" y1="158.2" x2="900.1" y2="166.8" stroke="#3e0505" stroke-width="0.9" opacity="0.8"/>
<line x1="938.6" y1="62.0" x2="939.7" y2="74.3" stroke="#3e0505" stroke-width="0.9" opacity="0.8"/>
<line x1="915.2" y1="73.8" x2="916.0" y2="87.9" stroke="#3e0505" stroke-width="0.9" opacity="0.8"/>
<line x1="942.7" y1="128.7" x2="942.5" y2="148.0" stroke="#3e0505" stroke-width="0.9" opacity="0.8"/>
<line x1="935.6" y1="144.8" x2="939.0" y2="160.3" stroke="#3e0505" stroke-width="0.9" opacity="0.8"/>
<line x1="957.5" y1="144.5" x2="959.2" y2="154.8" stroke="#3e0505" stroke-width="0.9" opacity="0.8"/>
<line x1="932.4" y1="52.7" x2="928.6" y2="69.0" stroke="#3e0505" stroke-width="0.9" opacity="0.8"/>
<line x1="919.7" y1="66.9" x2="915.9" y2="75.2" stroke="#3e0505" stroke-width="0.9" opacity="0.8"/>
<line x1="969.4" y1="81.9" x2="968.9" y2="98.0" stroke="#3e0505" stroke-width="0.9" opacity="0.8"/>
<line x1="1003.6" y1="131.6" x2="1001.3" y2="151.5" stroke="#3e0505" stroke-width="0.9" opacity="0.8"/>
<line x1="898.6" y1="114.2" x2="899.8" y2="125.7" stroke="#3e0505" stroke-width="0.9" opacity="0.8"/>
<line x1="1000.9" y1="118.4" x2="1002.6" y2="128.1" stroke="#3e0505" stroke-width="0.9" opacity="0.8"/>
<line x1="992.7" y1="71.7" x2="993.6" y2="88.5" stroke="#3e0505" stroke-width="0.9" opacity="0.8"/>
<line x1="918.7" y1="68.5" x2="917.4" y2="88.2" stroke="#3e0505" stroke-width="0.9" opacity="0.8"/>
<line x1="967.3" y1="98.3" x2="967.8" y2="114.2" stroke="#3e0505" stroke-width="0.9" opacity="0.8"/>
<line x1="910.0" y1="41.0" x2="906.9" y2="56.0" stroke="#3e0505" stroke-width="0.9" opacity="0.8"/>
<line x1="958.8" y1="171.8" x2="959.8" y2="190.0" stroke="#3e0505" stroke-width="0.9" opacity="0.8"/>
<line x1="1015.1" y1="102.0" x2="1014.5" y2="115.6" stroke="#3e0505" stroke-width="0.9" opacity="0.8"/>
<line x1="925.9" y1="140.2" x2="926.5" y2="149.7" stroke="#3e0505" stroke-width="0.9" opacity="0.8"/>
<line x1="1010.5" y1="106.3" x2="1012.5" y2="120.9" stroke="#3e0505" stroke-width="0.9" opacity="0.8"/>
<line x1="957.3" y1="113.5" x2="954.3" y2="123.1" stroke="#3e0505" stroke-width="0.9" opacity="0.8"/>
<line x1="978.0" y1="80.7" x2="975.0" y2="98.5" stroke="#3e0505" stroke-width="0.9" opacity="0.8"/>
<line x1="980.5" y1="140.8" x2="979.5" y2="150.3" stroke="#3e0505" stroke-width="0.9" opacity="0.8"/>
<line x1="982.1" y1="61.3" x2="983.5" y2="77.6" stroke="#3e0505" stroke-width="0.9" opacity="0.8"/>
<line x1="911.6" y1="30.3" x2="912.4" y2="47.8" stroke="#3e0505" stroke-width="0.9" opacity="0.8"/>
<line x1="957.3" y1="172.7" x2="955.1" y2="189.5" stroke="#3e0505" stroke-width="0.9" opacity="0.8"/>
<line x1="935.1" y1="114.1" x2="933.5" y2="124.9" stroke="#3e0505" stroke-width="0.9" opacity="0.8"/>
<line x1="951.5" y1="118.1" x2="954.8" y2="133.3" stroke="#3e0505" stroke-width="0.9" opacity="0.8"/>
<line x1="944.5" y1="124.4" x2="945.5" y2="137.3" stroke="#3e0505" stroke-width="0.9" opacity="0.8"/>
<line x1="910.7" y1="128.9" x2="909.8" y2="137.4" stroke="#3e0505" stroke-width="0.9" opacity="0.8"/>
<line x1="896.7" y1="82.1" x2="898.1" y2="97.9" stroke="#3e0505" stroke-width="0.9" opacity="0.8"/>
<circle cx="943.1" cy="148.4" r="0.7" fill="#3a0404" opacity="0.8"/>
<circle cx="922.9" cy="138.9" r="1.0" fill="#3a0404" opacity="0.8"/>
<circle cx="933.7" cy="159.0" r="0.5" fill="#3a0404" opacity="0.8"/>
<circle cx="949.8" cy="154.5" r="1.1" fill="#3a0404" opacity="0.8"/>
<circle cx="900.0" cy="147.1" r="0.9" fill="#3a0404" opacity="0.8"/>
<circle cx="1007.6" cy="77.6" r="1.0" fill="#3a0404" opacity="0.8"/>
<circle cx="965.1" cy="173.6" r="0.7" fill="#3a0404" opacity="0.8"/>
<circle cx="928.5" cy="48.1" r="1.0" fill="#3a0404" opacity="0.8"/>
<circle cx="882.2" cy="153.1" r="0.6" fill="#3a0404" opacity="0.8"/>
<circle cx="899.6" cy="167.7" r="0.8" fill="#3a0404" opacity="0.8"/>
<circle cx="981.4" cy="80.1" r="0.7" fill="#3a0404" opacity="0.8"/>
<circle cx="925.4" cy="172.5" r="0.6" fill="#3a0404" opacity="0.8"/>
<circle cx="1003.2" cy="158.0" r="1.0" fill="#3a0404" opacity="0.8"/>
<circle cx="910.5" cy="135.9" r="1.1" fill="#3a0404" opacity="0.8"/>
<circle cx="958.0" cy="61.9" r="0.9" fill="#3a0404" opacity="0.8"/>
<circle cx="1010.7" cy="115.7" r="0.6" fill="#3a0404" opacity="0.8"/>
<circle cx="901.4" cy="121.4" r="0.5" fill="#3a0404" opacity="0.8"/>
<circle cx="872.2" cy="84.2" r="0.7" fill="#3a0404" opacity="0.8"/>
<circle cx="943.6" cy="40.7" r="0.9" fill="#3a0404" opacity="0.8"/>
<circle cx="970.0" cy="76.0" r="0.9" fill="#3a0404" opacity="0.8"/>
<circle cx="948.4" cy="144.4" r="0.9" fill="#3a0404" opacity="0.8"/>
<circle cx="964.5" cy="111.7" r="1.1" fill="#3a0404" opacity="0.8"/>
<circle cx="886.0" cy="46.5" r="1.1" fill="#3a0404" opacity="0.8"/>
<circle cx="993.0" cy="31.2" r="1.1" fill="#3a0404" opacity="0.8"/>
<circle cx="960.3" cy="154.1" r="1.0" fill="#3a0404" opacity="0.8"/>
<circle cx="926.5" cy="46.5" r="1.0" fill="#3a0404" opacity="0.8"/>
<circle cx="975.0" cy="98.2" r="0.7" fill="#3a0404" opacity="0.8"/>
<circle cx="924.8" cy="165.7" r="0.8" fill="#3a0404" opacity="0.8"/>
<circle cx="902.5" cy="173.0" r="1.2" fill="#3a0404" opacity="0.8"/>
<circle cx="897.6" cy="58.5" r="1.0" fill="#3a0404" opacity="0.8"/>
<circle cx="928.1" cy="98.7" r="1.0" fill="#3a0404" opacity="0.8"/>
<circle cx="911.6" cy="116.2" r="0.6" fill="#3a0404" opacity="0.8"/>
<circle cx="904.1" cy="109.1" r="0.8" fill="#3a0404" opacity="0.8"/>
<circle cx="1001.7" cy="50.8" r="1.1" fill="#3a0404" opacity="0.8"/>
<circle cx="910.0" cy="79.7" r="0.6" fill="#3a0404" opacity="0.8"/>
<circle cx="917.8" cy="172.2" r="0.8" fill="#3a0404" opacity="0.8"/>
<circle cx="993.2" cy="171.6" r="1.0" fill="#3a0404" opacity="0.8"/>
<circle cx="898.7" cy="92.6" r="0.6" fill="#3a0404" opacity="0.8"/>
<circle cx="908.2" cy="78.6" r="0.6" fill="#3a0404" opacity="0.8"/>
<circle cx="970.6" cy="105.8" r="0.7" fill="#3a0404" opacity="0.8"/>
<circle cx="908.9" cy="50.6" r="0.6" fill="#3a0404" opacity="0.8"/>
<circle cx="935.6" cy="40.9" r="0.9" fill="#3a0404" opacity="0.8"/>
<circle cx="909.0" cy="142.0" r="0.7" fill="#3a0404" opacity="0.8"/>
<circle cx="996.1" cy="167.1" r="1.2" fill="#3a0404" opacity="0.8"/>
<circle cx="905.0" cy="164.7" r="0.8" fill="#3a0404" opacity="0.8"/>
<circle cx="1000.3" cy="97.3" r="0.9" fill="#3a0404" opacity="0.8"/>
<circle cx="909.5" cy="139.8" r="0.8" fill="#3a0404" opacity="0.8"/>
<circle cx="1000.2" cy="132.6" r="0.8" fill="#3a0404" opacity="0.8"/>
<circle cx="876.5" cy="68.9" r="0.8" fill="#3a0404" opacity="0.8"/>
<circle cx="925.7" cy="114.5" r="0.5" fill="#3a0404" opacity="0.8"/>
<circle cx="939.8" cy="159.4" r="1.2" fill="#3a0404" opacity="0.8"/>
<circle cx="971.9" cy="129.5" r="0.9" fill="#3a0404" opacity="0.8"/>
<circle cx="1016.9" cy="144.6" r="0.8" fill="#3a0404" opacity="0.8"/>
<circle cx="943.9" cy="166.2" r="0.9" fill="#3a0404" opacity="0.8"/>
<circle cx="958.8" cy="74.6" r="1.0" fill="#3a0404" opacity="0.8"/>
<circle cx="942.8" cy="166.8" r="1.2" fill="#3a0404" opacity="0.8"/>
<circle cx="1016.4" cy="167.9" r="0.5" fill="#3a0404" opacity="0.8"/>
<circle cx="882.6" cy="79.2" r="1.1" fill="#3a0404" opacity="0.8"/>
<circle cx="952.9" cy="67.2" r="0.6" fill="#3a0404" opacity="0.8"/>
<circle cx="908.3" cy="48.5" r="0.6" fill="#3a0404" opacity="0.8"/>
<circle cx="980.0" cy="58.0" r="0.6" fill="#3a0404" opacity="0.8"/>
<circle cx="961.9" cy="48.9" r="1.1" fill="#3a0404" opacity="0.8"/>
<circle cx="966.3" cy="157.3" r="1.0" fill="#3a0404" opacity="0.8"/>
<circle cx="977.9" cy="68.8" r="0.8" fill="#3a0404" opacity="0.8"/>
<circle cx="927.1" cy="86.8" r="1.1" fill="#3a0404" opacity="0.8"/>
<circle cx="935.2" cy="145.9" r="0.9" fill="#3a0404" opacity="0.8"/>
<circle cx="884.0" cy="60.5" r="0.9" fill="#3a0404" opacity="0.8"/>
<circle cx="986.5" cy="63.8" r="0.7" fill="#3a0404" opacity="0.8"/>
<circle cx="926.7" cy="96.6" r="0.8" fill="#3a0404" opacity="0.8"/>
<circle cx="1006.1" cy="118.2" r="0.7" fill="#3a0404" opacity="0.8"/>
<circle cx="921.9" cy="103.6" r="0.6" fill="#3a0404" opacity="0.8"/>
<circle cx="928.8" cy="39.4" r="1.0" fill="#3a0404" opacity="0.8"/>
<circle cx="997.7" cy="160.3" r="0.9" fill="#3a0404" opacity="0.8"/>
<circle cx="927.8" cy="111.2" r="0.9" fill="#3a0404" opacity="0.8"/>
<circle cx="897.6" cy="108.4" r="0.8" fill="#3a0404" opacity="0.8"/>
<circle cx="900.6" cy="94.2" r="1.1" fill="#3a0404" opacity="0.8"/>
<circle cx="965.0" cy="77.7" r="0.7" fill="#3a0404" opacity="0.8"/>
<circle cx="963.4" cy="110.2" r="0.7" fill="#3a0404" opacity="0.8"/>
<circle cx="940.3" cy="89.0" r="0.9" fill="#3a0404" opacity="0.8"/>
<circle cx="999.4" cy="84.1" r="0.9" fill="#3a0404" opacity="0.8"/>
<circle cx="953.5" cy="126.8" r="0.7" fill="#3a0404" opacity="0.8"/>
<circle cx="907.8" cy="163.8" r="0.6" fill="#3a0404" opacity="0.8"/>
<circle cx="970.7" cy="67.7" r="0.8" fill="#3a0404" opacity="0.8"/>
<circle cx="937.4" cy="64.7" r="0.6" fill="#3a0404" opacity="0.8"/>
<circle cx="1010.8" cy="35.6" r="0.6" fill="#3a0404" opacity="0.8"/>
<circle cx="979.1" cy="83.8" r="0.6" fill="#3a0404" opacity="0.8"/>
<circle cx="984.6" cy="172.3" r="0.6" fill="#3a0404" opacity="0.8"/>
<circle cx="974.5" cy="87.5" r="1.2" fill="#3a0404" opacity="0.8"/>
<circle cx="958.5" cy="159.8" r="1.0" fill="#3a0404" opacity="0.8"/>
<circle cx="891.1" cy="94.1" r="1.0" fill="#3a0404" opacity="0.8"/>
<circle cx="894.2" cy="42.8" r="1.2" fill="#3a0404" opacity="0.8"/>
<circle cx="1005.9" cy="124.4" r="0.5" fill="#3a0404" opacity="0.8"/>
<circle cx="973.7" cy="173.4" r="1.0" fill="#3a0404" opacity="0.8"/>
<circle cx="975.7" cy="93.8" r="0.9" fill="#3a0404" opacity="0.8"/>
<circle cx="1006.3" cy="102.4" r="0.6" fill="#3a0404" opacity="0.8"/>
<circle cx="893.1" cy="168.1" r="1.0" fill="#3a0404" opacity="0.8"/>
<circle cx="1007.6" cy="51.4" r="0.6" fill="#3a0404" opacity="0.8"/>
<circle cx="971.1" cy="92.1" r="0.8" fill="#3a0404" opacity="0.8"/>
<circle cx="905.7" cy="140.7" r="1.0" fill="#3a0404" opacity="0.8"/>
<circle cx="977.3" cy="92.3" r="0.8" fill="#3a0404" opacity="0.8"/>
<circle cx="929.4" cy="97.5" r="0.7" fill="#3a0404" opacity="0.8"/>
<circle cx="940.0" cy="169.5" r="1.1" fill="#3a0404" opacity="0.8"/>
<circle cx="891.6" cy="127.2" r="1.1" fill="#3a0404" opacity="0.8"/>
<circle cx="922.0" cy="158.9" r="1.2" fill="#3a0404" opacity="0.8"/>
<circle cx="882.2" cy="120.6" r="0.8" fill="#3a0404" opacity="0.8"/>
<circle cx="939.6" cy="109.5" r="1.1" fill="#3a0404" opacity="0.8"/>
<circle cx="963.5" cy="158.8" r="0.7" fill="#3a0404" opacity="0.8"/>
<circle cx="987.5" cy="86.8" r="0.6" fill="#3a0404" opacity="0.8"/>
<circle cx="988.5" cy="113.7" r="0.7" fill="#3a0404" opacity="0.8"/>
<circle cx="1001.6" cy="101.3" r="1.0" fill="#3a0404" opacity="0.8"/>
<circle cx="1014.9" cy="77.4" r="0.9" fill="#3a0404" opacity="0.8"/>
<circle cx="951.2" cy="71.4" r="0.9" fill="#3a0404" opacity="0.8"/>
<circle cx="1012.1" cy="131.1" r="0.7" fill="#3a0404" opacity="0.8"/>
<circle cx="971.1" cy="119.2" r="0.8" fill="#3a0404" opacity="0.8"/>
<circle cx="969.3" cy="84.5" r="1.0" fill="#3a0404" opacity="0.8"/>
<circle cx="928.2" cy="149.5" r="0.7" fill="#3a0404" opacity="0.8"/>
<circle cx="896.9" cy="77.8" r="0.6" fill="#3a0404" opacity="0.8"/>
<circle cx="998.9" cy="174.4" r="0.8" fill="#3a0404" opacity="0.8"/>
<circle cx="906.8" cy="157.9" r="1.1" fill="#3a0404" opacity="0.8"/>
<circle cx="907.4" cy="74.3" r="0.8" fill="#3a0404" opacity="0.8"/>
<path d="M880.5,35.9 C882.0,37.9 883.8,39.9 883.5,42.7 C883.0,44.7 878.0,44.7 877.5,42.7 C877.2,39.9 879.0,37.9 880.5,35.9Z" fill="#7e0f0f" filter="url(#bl1)"/>
<path d="M886.0,50.2 C887.5,52.2 889.3,54.2 889.0,57.0 C888.5,59.0 883.5,59.0 883.0,57.0 C882.7,54.2 884.5,52.2 886.0,50.2Z" fill="#7e0f0f" filter="url(#bl1)"/>
<path d="M883.8,67.9 C885.3,69.9 887.1,71.9 886.8,74.7 C886.3,76.7 881.3,76.7 880.8,74.7 C880.5,71.9 882.3,69.9 883.8,67.9Z" fill="#7e0f0f" filter="url(#bl1)"/>
<path d="M889.3,67.9 C890.8,69.9 892.6,71.9 892.3,74.7 C891.8,76.7 886.8,76.7 886.3,74.7 C886.0,71.9 887.8,69.9 889.3,67.9Z" fill="#7e0f0f" filter="url(#bl1)"/>
<path d="M886.7,83.4 C888.2,85.4 890.0,87.4 889.7,90.2 C889.2,92.2 884.2,92.2 883.7,90.2 C883.4,87.4 885.2,85.4 886.7,83.4Z" fill="#7e0f0f" filter="url(#bl1)"/>
<path d="M893.7,83.4 C895.2,85.4 897.0,87.4 896.7,90.2 C896.2,92.2 891.2,92.2 890.7,90.2 C890.4,87.4 892.2,85.4 893.7,83.4Z" fill="#5e0909" filter="url(#bl1)"/>
<path d="M891.5,105.5 C893.0,107.5 894.8,109.5 894.5,112.3 C894.0,114.3 889.0,114.3 888.5,112.3 C888.2,109.5 890.0,107.5 891.5,105.5Z" fill="#7e0f0f" filter="url(#bl1)"/>
<path d="M890.4,121.0 C891.9,123.0 893.7,125.0 893.4,127.8 C892.9,129.8 887.9,129.8 887.4,127.8 C887.1,125.0 888.9,123.0 890.4,121.0Z" fill="#5e0909" filter="url(#bl1)"/>
<path d="M880.5,128.7 C882.0,130.7 883.8,132.7 883.5,135.5 C883.0,137.5 878.0,137.5 877.5,135.5 C877.2,132.7 879.0,130.7 880.5,128.7Z" fill="#5e0909" filter="url(#bl1)"/>
<path d="M912.5,113.2 C914.0,115.2 915.8,117.2 915.5,120.0 C915.0,122.0 910.0,122.0 909.5,120.0 C909.2,117.2 911.0,115.2 912.5,113.2Z" fill="#bc1515" filter="url(#bl1)"/>
<path d="M920.2,119.9 C921.7,121.9 923.5,123.9 923.2,126.7 C922.7,128.7 917.7,128.7 917.2,126.7 C916.9,123.9 918.7,121.9 920.2,119.9Z" fill="#bc1515" filter="url(#bl1)"/>
<path d="M924.7,67.9 C926.2,69.9 928.0,71.9 927.7,74.7 C927.2,76.7 922.2,76.7 921.7,74.7 C921.4,71.9 923.2,69.9 924.7,67.9Z" fill="#5e0909" filter="url(#bl1)"/>
<path d="M941.2,72.3 C942.7,74.3 944.5,76.3 944.2,79.1 C943.7,81.1 938.7,81.1 938.2,79.1 C937.9,76.3 939.7,74.3 941.2,72.3Z" fill="#7e0f0f" filter="url(#bl1)"/>
<path d="M950.0,79.0 C951.5,81.0 953.3,83.0 953.0,85.8 C952.5,87.8 947.5,87.8 947.0,85.8 C946.7,83.0 948.5,81.0 950.0,79.0Z" fill="#5e0909" filter="url(#bl1)"/>
<path d="M955.2,77.9 C956.7,79.9 958.5,81.9 958.2,84.7 C957.7,86.7 952.7,86.7 952.2,84.7 C951.9,81.9 953.7,79.9 955.2,77.9Z" fill="#bc1515" filter="url(#bl1)"/>
<path d="M961.1,82.3 C962.6,84.3 964.4,86.3 964.1,89.1 C963.6,91.1 958.6,91.1 958.1,89.1 C957.8,86.3 959.6,84.3 961.1,82.3Z" fill="#7e0f0f" filter="url(#bl1)"/>
<path d="M967.8,45.8 C969.3,47.8 971.1,49.8 970.8,52.6 C970.3,54.6 965.3,54.6 964.8,52.6 C964.5,49.8 966.3,47.8 967.8,45.8Z" fill="#5e0909" filter="url(#bl1)"/>
<path d="M973.3,56.9 C974.8,58.9 976.6,60.9 976.3,63.7 C975.8,65.7 970.8,65.7 970.3,63.7 C970.0,60.9 971.8,58.9 973.3,56.9Z" fill="#7e0f0f" filter="url(#bl1)"/>
<path d="M974.4,77.9 C975.9,79.9 977.7,81.9 977.4,84.7 C976.9,86.7 971.9,86.7 971.4,84.7 C971.1,81.9 972.9,79.9 974.4,77.9Z" fill="#5e0909" filter="url(#bl1)"/>
<path d="M947.9,102.2 C949.4,104.2 951.2,106.2 950.9,109.0 C950.4,111.0 945.4,111.0 944.9,109.0 C944.6,106.2 946.4,104.2 947.9,102.2Z" fill="#bc1515" filter="url(#bl1)"/>
<path d="M962.2,97.8 C963.7,99.8 965.5,101.8 965.2,104.6 C964.7,106.6 959.7,106.6 959.2,104.6 C958.9,101.8 960.7,99.8 962.2,97.8Z" fill="#bc1515" filter="url(#bl1)"/>
<path d="M965.6,105.5 C967.1,107.5 968.9,109.5 968.6,112.3 C968.1,114.3 963.1,114.3 962.6,112.3 C962.3,109.5 964.1,107.5 965.6,105.5Z" fill="#bc1515" filter="url(#bl1)"/>
<path d="M941.2,119.9 C942.7,121.9 944.5,123.9 944.2,126.7 C943.7,128.7 938.7,128.7 938.2,126.7 C937.9,123.9 939.7,121.9 941.2,119.9Z" fill="#bc1515" filter="url(#bl1)"/>
<path d="M992.1,45.8 C993.6,47.8 995.4,49.8 995.1,52.6 C994.6,54.6 989.6,54.6 989.1,52.6 C988.8,49.8 990.6,47.8 992.1,45.8Z" fill="#5e0909" filter="url(#bl1)"/>
<path d="M992.1,59.1 C993.6,61.1 995.4,63.1 995.1,65.9 C994.6,67.9 989.6,67.9 989.1,65.9 C988.8,63.1 990.6,61.1 992.1,59.1Z" fill="#5e0909" filter="url(#bl1)"/>
<path d="M1007.5,50.2 C1009.0,52.2 1010.8,54.2 1010.5,57.0 C1010.0,59.0 1005.0,59.0 1004.5,57.0 C1004.2,54.2 1006.0,52.2 1007.5,50.2Z" fill="#5e0909" filter="url(#bl1)"/>
<path d="M1008.6,61.3 C1010.1,63.3 1011.9,65.3 1011.6,68.1 C1011.1,70.1 1006.1,70.1 1005.6,68.1 C1005.3,65.3 1007.1,63.3 1008.6,61.3Z" fill="#7e0f0f" filter="url(#bl1)"/>
<path d="M1006.4,107.7 C1007.9,109.7 1009.7,111.7 1009.4,114.5 C1008.9,116.5 1003.9,116.5 1003.4,114.5 C1003.1,111.7 1004.9,109.7 1006.4,107.7Z" fill="#bc1515" filter="url(#bl1)"/>
<path d="M998.7,143.1 C1000.2,145.1 1002.0,147.1 1001.7,149.9 C1001.2,151.9 996.2,151.9 995.7,149.9 C995.4,147.1 997.2,145.1 998.7,143.1Z" fill="#7e0f0f" filter="url(#bl1)"/>
<path d="M982.1,138.6 C983.6,140.6 985.4,142.6 985.1,145.4 C984.6,147.4 979.6,147.4 979.1,145.4 C978.8,142.6 980.6,140.6 982.1,138.6Z" fill="#7e0f0f" filter="url(#bl1)"/>
<path d="M971.1,140.9 C972.6,142.9 974.4,144.9 974.1,147.7 C973.6,149.7 968.6,149.7 968.1,147.7 C967.8,144.9 969.6,142.9 971.1,140.9Z" fill="#bc1515" filter="url(#bl1)"/>
<path d="M958.9,143.1 C960.4,145.1 962.2,147.1 961.9,149.9 C961.4,151.9 956.4,151.9 955.9,149.9 C955.6,147.1 957.4,145.1 958.9,143.1Z" fill="#5e0909" filter="url(#bl1)"/>
<path d="M945.7,153.0 C947.2,155.0 949.0,157.0 948.7,159.8 C948.2,161.8 943.2,161.8 942.7,159.8 C942.4,157.0 944.2,155.0 945.7,153.0Z" fill="#bc1515" filter="url(#bl1)"/>
<path d="M929.1,164.1 C930.6,166.1 932.4,168.1 932.1,170.9 C931.6,172.9 926.6,172.9 926.1,170.9 C925.8,168.1 927.6,166.1 929.1,164.1Z" fill="#7e0f0f" filter="url(#bl1)"/>
<path d="M966.7,165.2 C968.2,167.2 970.0,169.2 969.7,172.0 C969.2,174.0 964.2,174.0 963.7,172.0 C963.4,169.2 965.2,167.2 966.7,165.2Z" fill="#7e0f0f" filter="url(#bl1)"/>
<path d="M1010.9,28.1 C1012.4,30.1 1014.2,32.1 1013.9,34.9 C1013.4,36.9 1008.4,36.9 1007.9,34.9 C1007.6,32.1 1009.4,30.1 1010.9,28.1Z" fill="#7e0f0f" filter="url(#bl1)"/>
<path d="M987.7,87.8 C989.2,89.8 991.0,91.8 990.7,94.6 C990.2,96.6 985.2,96.6 984.7,94.6 C984.4,91.8 986.2,89.8 987.7,87.8Z" fill="#7e0f0f" filter="url(#bl1)"/>
<path d="M920.2,96.7 C921.7,98.7 923.5,100.7 923.2,103.5 C922.7,105.5 917.7,105.5 917.2,103.5 C916.9,100.7 918.7,98.7 920.2,96.7Z" fill="#5e0909" filter="url(#bl1)"/>
</g>
<rect x="995.00" y="161.20" width="16.50" height="2.80" fill="#fff" stroke="none" stroke-width="0"/>
<g clip-path="url(#cm)">
<rect x="666.30" y="209.30" width="144.50" height="144.10" fill="#142a0b" stroke="none" stroke-width="0"/>
<circle cx="705" cy="240" r="14" fill="#061404" opacity="0.6" filter="url(#bl2)"/>
<circle cx="720" cy="290" r="12" fill="#081606" opacity="0.5" filter="url(#bl2)"/>
<circle cx="800" cy="225" r="12" fill="#0a1606" opacity="0.5" filter="url(#bl2)"/>
<circle cx="765" cy="290" r="18" fill="#1a4210" opacity="0.4" filter="url(#bl2)"/>
<circle cx="690" cy="265" r="12" fill="#1a4210" opacity="0.4" filter="url(#bl2)"/>
<circle cx="691.8" cy="224.9" r="0.5" fill="rgb(20,103,18)" opacity="0.7"/>
<circle cx="753.0" cy="272.3" r="0.9" fill="rgb(20,95,18)" opacity="0.7"/>
<circle cx="740.8" cy="261.5" r="0.8" fill="rgb(20,65,18)" opacity="0.7"/>
<circle cx="783.7" cy="249.7" r="1.2" fill="rgb(20,81,18)" opacity="0.7"/>
<circle cx="696.2" cy="322.0" r="0.9" fill="rgb(20,62,18)" opacity="0.7"/>
<circle cx="775.2" cy="230.8" r="1.2" fill="rgb(20,85,18)" opacity="0.7"/>
<circle cx="704.2" cy="320.4" r="1.1" fill="rgb(20,98,18)" opacity="0.7"/>
<circle cx="789.5" cy="344.1" r="1.3" fill="rgb(20,67,18)" opacity="0.7"/>
<circle cx="731.1" cy="351.9" r="0.6" fill="rgb(20,76,18)" opacity="0.7"/>
<circle cx="794.8" cy="352.5" r="0.7" fill="rgb(20,85,18)" opacity="0.7"/>
<circle cx="771.9" cy="310.8" r="0.7" fill="rgb(20,122,18)" opacity="0.7"/>
<circle cx="780.7" cy="282.0" r="1.1" fill="rgb(20,88,18)" opacity="0.7"/>
<circle cx="699.5" cy="332.5" r="1.0" fill="rgb(20,78,18)" opacity="0.7"/>
<circle cx="810.3" cy="320.4" r="1.0" fill="rgb(20,99,18)" opacity="0.7"/>
<circle cx="743.6" cy="241.3" r="0.8" fill="rgb(20,114,18)" opacity="0.7"/>
<circle cx="742.8" cy="214.6" r="1.0" fill="rgb(20,98,18)" opacity="0.7"/>
<circle cx="737.9" cy="275.2" r="1.0" fill="rgb(20,94,18)" opacity="0.7"/>
<circle cx="737.3" cy="339.2" r="1.2" fill="rgb(20,61,18)" opacity="0.7"/>
<circle cx="771.5" cy="312.8" r="0.7" fill="rgb(20,122,18)" opacity="0.7"/>
<circle cx="795.6" cy="332.7" r="0.6" fill="rgb(20,89,18)" opacity="0.7"/>
<circle cx="695.3" cy="257.4" r="0.6" fill="rgb(20,119,18)" opacity="0.7"/>
<circle cx="670.5" cy="235.4" r="1.0" fill="rgb(20,105,18)" opacity="0.7"/>
<circle cx="767.6" cy="266.5" r="0.8" fill="rgb(20,91,18)" opacity="0.7"/>
<circle cx="779.6" cy="321.9" r="1.0" fill="rgb(20,60,18)" opacity="0.7"/>
<circle cx="733.1" cy="245.6" r="1.1" fill="rgb(20,69,18)" opacity="0.7"/>
<circle cx="687.5" cy="295.7" r="1.1" fill="rgb(20,87,18)" opacity="0.7"/>
<circle cx="766.3" cy="334.2" r="1.0" fill="rgb(20,114,18)" opacity="0.7"/>
<circle cx="697.2" cy="272.1" r="1.1" fill="rgb(20,119,18)" opacity="0.7"/>
<circle cx="688.9" cy="327.0" r="1.0" fill="rgb(20,103,18)" opacity="0.7"/>
<circle cx="668.4" cy="250.0" r="1.1" fill="rgb(20,99,18)" opacity="0.7"/>
<circle cx="747.5" cy="293.7" r="0.5" fill="rgb(20,130,18)" opacity="0.7"/>
<circle cx="776.6" cy="251.9" r="1.1" fill="rgb(20,74,18)" opacity="0.7"/>
<circle cx="688.0" cy="346.7" r="1.3" fill="rgb(20,97,18)" opacity="0.7"/>
<circle cx="698.0" cy="216.5" r="0.7" fill="rgb(20,124,18)" opacity="0.7"/>
<circle cx="692.2" cy="257.4" r="0.6" fill="rgb(20,62,18)" opacity="0.7"/>
<circle cx="678.7" cy="308.8" r="0.8" fill="rgb(20,93,18)" opacity="0.7"/>
<circle cx="727.4" cy="227.2" r="0.8" fill="rgb(20,124,18)" opacity="0.7"/>
<circle cx="716.3" cy="298.9" r="1.0" fill="rgb(20,63,18)" opacity="0.7"/>
<circle cx="710.0" cy="311.7" r="1.2" fill="rgb(20,82,18)" opacity="0.7"/>
<circle cx="799.8" cy="260.7" r="1.0" fill="rgb(20,105,18)" opacity="0.7"/>
<circle cx="684.0" cy="245.3" r="1.2" fill="rgb(20,104,18)" opacity="0.7"/>
<circle cx="689.5" cy="271.2" r="0.7" fill="rgb(20,85,18)" opacity="0.7"/>
<circle cx="740.7" cy="246.6" r="0.9" fill="rgb(20,112,18)" opacity="0.7"/>
<circle cx="807.6" cy="308.5" r="0.9" fill="rgb(20,98,18)" opacity="0.7"/>
<circle cx="740.0" cy="237.6" r="1.0" fill="rgb(20,94,18)" opacity="0.7"/>
<circle cx="802.7" cy="325.4" r="0.7" fill="rgb(20,64,18)" opacity="0.7"/>
<circle cx="710.4" cy="339.3" r="1.0" fill="rgb(20,120,18)" opacity="0.7"/>
<circle cx="720.0" cy="275.3" r="1.1" fill="rgb(20,124,18)" opacity="0.7"/>
<circle cx="807.9" cy="322.9" r="1.1" fill="rgb(20,128,18)" opacity="0.7"/>
<circle cx="765.3" cy="270.6" r="1.1" fill="rgb(20,104,18)" opacity="0.7"/>
<circle cx="795.0" cy="332.0" r="1.1" fill="rgb(20,123,18)" opacity="0.7"/>
<circle cx="720.2" cy="216.3" r="0.7" fill="rgb(20,111,18)" opacity="0.7"/>
<circle cx="788.5" cy="325.3" r="1.3" fill="rgb(20,85,18)" opacity="0.7"/>
<circle cx="683.1" cy="322.0" r="0.8" fill="rgb(20,84,18)" opacity="0.7"/>
<circle cx="713.3" cy="314.1" r="0.9" fill="rgb(20,111,18)" opacity="0.7"/>
<circle cx="697.2" cy="243.7" r="1.0" fill="rgb(20,64,18)" opacity="0.7"/>
<circle cx="746.5" cy="213.8" r="1.0" fill="rgb(20,128,18)" opacity="0.7"/>
<circle cx="741.2" cy="324.1" r="1.2" fill="rgb(20,113,18)" opacity="0.7"/>
<circle cx="714.6" cy="216.0" r="0.9" fill="rgb(20,63,18)" opacity="0.7"/>
<circle cx="695.1" cy="343.9" r="0.6" fill="rgb(20,107,18)" opacity="0.7"/>
<circle cx="766.9" cy="257.6" r="1.1" fill="rgb(20,88,18)" opacity="0.7"/>
<circle cx="681.0" cy="287.8" r="0.6" fill="rgb(20,85,18)" opacity="0.7"/>
<circle cx="742.9" cy="304.6" r="1.0" fill="rgb(20,66,18)" opacity="0.7"/>
<circle cx="788.3" cy="284.2" r="1.0" fill="rgb(20,119,18)" opacity="0.7"/>
<circle cx="739.9" cy="260.0" r="1.1" fill="rgb(20,74,18)" opacity="0.7"/>
<circle cx="672.0" cy="214.7" r="0.9" fill="rgb(20,70,18)" opacity="0.7"/>
<circle cx="725.3" cy="227.8" r="1.0" fill="rgb(20,84,18)" opacity="0.7"/>
<circle cx="750.7" cy="341.8" r="0.7" fill="rgb(20,108,18)" opacity="0.7"/>
<circle cx="810.4" cy="288.0" r="1.3" fill="rgb(20,83,18)" opacity="0.7"/>
<circle cx="733.1" cy="318.3" r="0.7" fill="rgb(20,68,18)" opacity="0.7"/>
<circle cx="787.1" cy="271.3" r="0.9" fill="rgb(20,67,18)" opacity="0.7"/>
<circle cx="771.1" cy="267.2" r="0.7" fill="rgb(20,97,18)" opacity="0.7"/>
<circle cx="728.9" cy="284.1" r="0.8" fill="rgb(20,121,18)" opacity="0.7"/>
<circle cx="778.2" cy="219.2" r="0.6" fill="rgb(20,129,18)" opacity="0.7"/>
<circle cx="809.2" cy="257.6" r="0.6" fill="rgb(20,74,18)" opacity="0.7"/>
<circle cx="756.3" cy="299.1" r="0.6" fill="rgb(20,63,18)" opacity="0.7"/>
<circle cx="772.5" cy="225.2" r="1.0" fill="rgb(20,63,18)" opacity="0.7"/>
<circle cx="791.6" cy="344.6" r="1.1" fill="rgb(20,93,18)" opacity="0.7"/>
<circle cx="743.5" cy="350.8" r="0.6" fill="rgb(20,77,18)" opacity="0.7"/>
<circle cx="746.6" cy="250.6" r="1.1" fill="rgb(20,119,18)" opacity="0.7"/>
<circle cx="710.9" cy="338.0" r="1.2" fill="rgb(20,120,18)" opacity="0.7"/>
<circle cx="680.5" cy="263.1" r="1.1" fill="rgb(20,92,18)" opacity="0.7"/>
<circle cx="707.4" cy="266.8" r="0.5" fill="rgb(20,111,18)" opacity="0.7"/>
<circle cx="796.8" cy="235.9" r="0.6" fill="rgb(20,81,18)" opacity="0.7"/>
<circle cx="807.9" cy="215.7" r="1.2" fill="rgb(20,71,18)" opacity="0.7"/>
<circle cx="709.7" cy="221.1" r="1.0" fill="rgb(20,66,18)" opacity="0.7"/>
<circle cx="718.0" cy="261.4" r="1.1" fill="rgb(20,127,18)" opacity="0.7"/>
<circle cx="725.6" cy="228.6" r="0.7" fill="rgb(20,89,18)" opacity="0.7"/>
<circle cx="798.8" cy="304.7" r="1.3" fill="rgb(20,112,18)" opacity="0.7"/>
<circle cx="692.2" cy="320.5" r="1.3" fill="rgb(20,64,18)" opacity="0.7"/>
<circle cx="675.2" cy="221.6" r="1.2" fill="rgb(20,107,18)" opacity="0.7"/>
<circle cx="686.1" cy="221.7" r="1.3" fill="rgb(20,81,18)" opacity="0.7"/>
<circle cx="773.0" cy="273.7" r="1.2" fill="rgb(20,66,18)" opacity="0.7"/>
<circle cx="671.5" cy="276.1" r="1.1" fill="rgb(20,69,18)" opacity="0.7"/>
<circle cx="771.7" cy="289.3" r="1.0" fill="rgb(20,65,18)" opacity="0.7"/>
<circle cx="743.8" cy="230.3" r="1.1" fill="rgb(20,68,18)" opacity="0.7"/>
<circle cx="759.4" cy="234.6" r="1.2" fill="rgb(20,96,18)" opacity="0.7"/>
<circle cx="793.1" cy="239.6" r="1.1" fill="rgb(20,83,18)" opacity="0.7"/>
<circle cx="737.7" cy="271.6" r="0.6" fill="rgb(20,129,18)" opacity="0.7"/>
<circle cx="722.5" cy="276.8" r="0.9" fill="rgb(20,85,18)" opacity="0.7"/>
<circle cx="691.1" cy="215.7" r="1.2" fill="rgb(20,84,18)" opacity="0.7"/>
<circle cx="745.9" cy="284.6" r="0.5" fill="rgb(20,83,18)" opacity="0.7"/>
<circle cx="744.9" cy="242.6" r="0.6" fill="rgb(20,64,18)" opacity="0.7"/>
<circle cx="711.7" cy="240.9" r="0.8" fill="rgb(20,69,18)" opacity="0.7"/>
<circle cx="797.0" cy="288.0" r="0.8" fill="rgb(20,124,18)" opacity="0.7"/>
<circle cx="682.1" cy="345.8" r="0.8" fill="rgb(20,130,18)" opacity="0.7"/>
<circle cx="760.2" cy="325.0" r="0.7" fill="rgb(20,80,18)" opacity="0.7"/>
<circle cx="764.6" cy="316.4" r="1.1" fill="rgb(20,88,18)" opacity="0.7"/>
<circle cx="808.7" cy="298.7" r="0.7" fill="rgb(20,119,18)" opacity="0.7"/>
<circle cx="757.2" cy="299.0" r="1.2" fill="rgb(20,100,18)" opacity="0.7"/>
<circle cx="769.4" cy="350.2" r="0.9" fill="rgb(20,113,18)" opacity="0.7"/>
<circle cx="767.6" cy="278.2" r="0.7" fill="rgb(20,75,18)" opacity="0.7"/>
<circle cx="787.8" cy="323.9" r="0.7" fill="rgb(20,66,18)" opacity="0.7"/>
<circle cx="781.8" cy="331.3" r="1.0" fill="rgb(20,120,18)" opacity="0.7"/>
<circle cx="714.6" cy="262.6" r="1.2" fill="rgb(20,93,18)" opacity="0.7"/>
<circle cx="713.8" cy="231.2" r="1.1" fill="rgb(20,97,18)" opacity="0.7"/>
<circle cx="748.5" cy="324.0" r="1.2" fill="rgb(20,113,18)" opacity="0.7"/>
<circle cx="691.9" cy="352.8" r="0.7" fill="rgb(20,112,18)" opacity="0.7"/>
<circle cx="765.0" cy="325.9" r="0.9" fill="rgb(20,77,18)" opacity="0.7"/>
<circle cx="785.9" cy="242.0" r="0.6" fill="rgb(20,90,18)" opacity="0.7"/>
<circle cx="793.2" cy="242.6" r="0.9" fill="rgb(20,124,18)" opacity="0.7"/>
<circle cx="735.2" cy="330.0" r="0.5" fill="rgb(20,73,18)" opacity="0.7"/>
<circle cx="779.3" cy="268.9" r="0.6" fill="rgb(20,78,18)" opacity="0.7"/>
<circle cx="700.4" cy="255.0" r="0.6" fill="rgb(20,63,18)" opacity="0.7"/>
<circle cx="748.2" cy="311.9" r="0.7" fill="rgb(20,62,18)" opacity="0.7"/>
<circle cx="770.0" cy="240.5" r="0.5" fill="rgb(20,60,18)" opacity="0.7"/>
<circle cx="810.7" cy="235.3" r="0.9" fill="rgb(20,105,18)" opacity="0.7"/>
<circle cx="703.0" cy="216.7" r="1.0" fill="rgb(20,100,18)" opacity="0.7"/>
<circle cx="756.3" cy="335.5" r="1.3" fill="rgb(20,103,18)" opacity="0.7"/>
<circle cx="678.7" cy="280.9" r="0.6" fill="rgb(20,65,18)" opacity="0.7"/>
<circle cx="802.3" cy="303.6" r="1.1" fill="rgb(20,82,18)" opacity="0.7"/>
<circle cx="735.2" cy="266.8" r="1.1" fill="rgb(20,116,18)" opacity="0.7"/>
<circle cx="722.8" cy="258.3" r="1.2" fill="rgb(20,130,18)" opacity="0.7"/>
<circle cx="716.2" cy="244.4" r="0.7" fill="rgb(20,121,18)" opacity="0.7"/>
<circle cx="711.9" cy="315.4" r="0.5" fill="rgb(20,65,18)" opacity="0.7"/>
<circle cx="734.5" cy="316.4" r="0.6" fill="rgb(20,96,18)" opacity="0.7"/>
<circle cx="807.7" cy="276.7" r="1.0" fill="rgb(20,69,18)" opacity="0.7"/>
<circle cx="676.2" cy="256.4" r="1.2" fill="rgb(20,96,18)" opacity="0.7"/>
<circle cx="671.0" cy="273.7" r="1.0" fill="rgb(20,72,18)" opacity="0.7"/>
<circle cx="731.2" cy="309.6" r="1.1" fill="rgb(20,88,18)" opacity="0.7"/>
<circle cx="694.2" cy="314.4" r="1.2" fill="rgb(20,126,18)" opacity="0.7"/>
<circle cx="716.9" cy="352.2" r="0.9" fill="rgb(20,103,18)" opacity="0.7"/>
<circle cx="782.9" cy="282.4" r="1.2" fill="rgb(20,98,18)" opacity="0.7"/>
<circle cx="739.6" cy="228.9" r="1.0" fill="rgb(20,77,18)" opacity="0.7"/>
<circle cx="760.4" cy="211.5" r="1.1" fill="rgb(20,99,18)" opacity="0.7"/>
<circle cx="801.5" cy="292.7" r="1.0" fill="rgb(20,102,18)" opacity="0.7"/>
<circle cx="775.9" cy="349.5" r="0.9" fill="rgb(20,86,18)" opacity="0.7"/>
<circle cx="785.9" cy="255.0" r="1.0" fill="rgb(20,62,18)" opacity="0.7"/>
<circle cx="723.9" cy="312.9" r="0.6" fill="rgb(20,113,18)" opacity="0.7"/>
<circle cx="791.1" cy="211.5" r="0.5" fill="rgb(20,75,18)" opacity="0.7"/>
<circle cx="717.4" cy="318.8" r="1.0" fill="rgb(20,123,18)" opacity="0.7"/>
<circle cx="795.6" cy="315.4" r="0.5" fill="rgb(20,95,18)" opacity="0.7"/>
<circle cx="767.1" cy="225.7" r="0.8" fill="rgb(20,108,18)" opacity="0.7"/>
<circle cx="748.7" cy="333.7" r="1.2" fill="rgb(20,110,18)" opacity="0.7"/>
<circle cx="780.1" cy="289.0" r="0.9" fill="rgb(20,93,18)" opacity="0.7"/>
<circle cx="770.8" cy="286.4" r="1.2" fill="rgb(20,118,18)" opacity="0.7"/>
<circle cx="673.7" cy="335.1" r="0.7" fill="rgb(20,119,18)" opacity="0.7"/>
<circle cx="692.4" cy="294.3" r="0.6" fill="rgb(20,63,18)" opacity="0.7"/>
<circle cx="695.3" cy="287.8" r="1.3" fill="rgb(20,79,18)" opacity="0.7"/>
<circle cx="756.8" cy="305.3" r="1.1" fill="rgb(20,121,18)" opacity="0.7"/>
<circle cx="668.8" cy="347.1" r="1.3" fill="rgb(20,65,18)" opacity="0.7"/>
<circle cx="809.5" cy="342.8" r="1.0" fill="rgb(20,73,18)" opacity="0.7"/>
<circle cx="794.1" cy="226.6" r="1.0" fill="rgb(20,115,18)" opacity="0.7"/>
<circle cx="767.6" cy="243.9" r="0.6" fill="rgb(20,125,18)" opacity="0.7"/>
<circle cx="709.3" cy="296.6" r="1.1" fill="rgb(20,64,18)" opacity="0.7"/>
<circle cx="732.5" cy="268.3" r="1.2" fill="rgb(20,72,18)" opacity="0.7"/>
<circle cx="749.8" cy="257.1" r="1.2" fill="rgb(20,88,18)" opacity="0.7"/>
<circle cx="771.9" cy="339.0" r="1.2" fill="rgb(20,74,18)" opacity="0.7"/>
<circle cx="749.1" cy="239.2" r="1.2" fill="rgb(20,128,18)" opacity="0.7"/>
<circle cx="763.4" cy="307.5" r="1.0" fill="rgb(20,88,18)" opacity="0.7"/>
<circle cx="799.6" cy="329.3" r="0.7" fill="rgb(20,118,18)" opacity="0.7"/>
<circle cx="669.1" cy="297.5" r="0.9" fill="rgb(20,122,18)" opacity="0.7"/>
<circle cx="752.9" cy="349.9" r="0.9" fill="rgb(20,116,18)" opacity="0.7"/>
<circle cx="800.3" cy="275.7" r="0.9" fill="rgb(20,64,18)" opacity="0.7"/>
<circle cx="752.0" cy="251.9" r="0.8" fill="rgb(20,126,18)" opacity="0.7"/>
<circle cx="753.8" cy="234.9" r="0.8" fill="rgb(20,98,18)" opacity="0.7"/>
<circle cx="771.9" cy="339.1" r="0.9" fill="rgb(20,92,18)" opacity="0.7"/>
<circle cx="670.2" cy="247.7" r="0.9" fill="rgb(20,77,18)" opacity="0.7"/>
<circle cx="692.9" cy="326.5" r="0.8" fill="rgb(20,119,18)" opacity="0.7"/>
<circle cx="798.9" cy="269.3" r="1.1" fill="rgb(20,68,18)" opacity="0.7"/>
<circle cx="797.7" cy="331.6" r="0.6" fill="rgb(20,124,18)" opacity="0.7"/>
<circle cx="716.1" cy="329.2" r="1.3" fill="rgb(20,73,18)" opacity="0.7"/>
<circle cx="685.6" cy="252.4" r="1.0" fill="rgb(20,93,18)" opacity="0.7"/>
<circle cx="671.4" cy="329.8" r="1.0" fill="rgb(20,120,18)" opacity="0.7"/>
<circle cx="788.4" cy="255.1" r="0.6" fill="rgb(20,85,18)" opacity="0.7"/>
<circle cx="781.7" cy="257.8" r="0.9" fill="rgb(20,107,18)" opacity="0.7"/>
<circle cx="802.1" cy="350.3" r="1.2" fill="rgb(20,66,18)" opacity="0.7"/>
<circle cx="682.3" cy="223.1" r="1.1" fill="rgb(20,99,18)" opacity="0.7"/>
<circle cx="678.9" cy="328.5" r="1.0" fill="rgb(20,128,18)" opacity="0.7"/>
<circle cx="803.1" cy="334.3" r="1.1" fill="rgb(20,129,18)" opacity="0.7"/>
<circle cx="762.9" cy="346.3" r="1.3" fill="rgb(20,74,18)" opacity="0.7"/>
<circle cx="766.2" cy="269.3" r="0.9" fill="rgb(20,91,18)" opacity="0.7"/>
<circle cx="722.6" cy="314.1" r="1.1" fill="rgb(20,90,18)" opacity="0.7"/>
<circle cx="799.8" cy="282.2" r="1.1" fill="rgb(20,64,18)" opacity="0.7"/>
<circle cx="679.4" cy="237.1" r="0.7" fill="rgb(20,70,18)" opacity="0.7"/>
<circle cx="722.1" cy="296.6" r="0.9" fill="rgb(20,128,18)" opacity="0.7"/>
<circle cx="791.4" cy="322.6" r="1.0" fill="rgb(20,75,18)" opacity="0.7"/>
<circle cx="703.9" cy="337.1" r="1.0" fill="rgb(20,117,18)" opacity="0.7"/>
<circle cx="759.2" cy="296.2" r="1.0" fill="rgb(20,110,18)" opacity="0.7"/>
<circle cx="689.1" cy="333.1" r="0.7" fill="rgb(20,69,18)" opacity="0.7"/>
<path d="M674.8,215.4 C676.3,217.4 678.1,219.4 677.8,222.2 C677.3,224.2 672.3,224.2 671.8,222.2 C671.5,219.4 673.3,217.4 674.8,215.4Z" fill="#7a4612" filter="url(#bl1)"/>
<path d="M680.3,229.7 C681.8,231.7 683.6,233.7 683.3,236.5 C682.8,238.5 677.8,238.5 677.3,236.5 C677.0,233.7 678.8,231.7 680.3,229.7Z" fill="#a05416" filter="url(#bl1)"/>
<path d="M678.1,247.4 C679.6,249.4 681.4,251.4 681.1,254.2 C680.6,256.2 675.6,256.2 675.1,254.2 C674.8,251.4 676.6,249.4 678.1,247.4Z" fill="#7a4612" filter="url(#bl1)"/>
<path d="M683.6,247.4 C685.1,249.4 686.9,251.4 686.6,254.2 C686.1,256.2 681.1,256.2 680.6,254.2 C680.3,251.4 682.1,249.4 683.6,247.4Z" fill="#7a4612" filter="url(#bl1)"/>
<path d="M681.0,262.9 C682.5,264.9 684.3,266.9 684.0,269.7 C683.5,271.7 678.5,271.7 678.0,269.7 C677.7,266.9 679.5,264.9 681.0,262.9Z" fill="#7a4612" filter="url(#bl1)"/>
<path d="M688.0,262.9 C689.5,264.9 691.3,266.9 691.0,269.7 C690.5,271.7 685.5,271.7 685.0,269.7 C684.7,266.9 686.5,264.9 688.0,262.9Z" fill="#7a4612" filter="url(#bl1)"/>
<path d="M685.8,285.0 C687.3,287.0 689.1,289.0 688.8,291.8 C688.3,293.8 683.3,293.8 682.8,291.8 C682.5,289.0 684.3,287.0 685.8,285.0Z" fill="#a05416" filter="url(#bl1)"/>
<path d="M684.7,300.5 C686.2,302.5 688.0,304.5 687.7,307.3 C687.2,309.3 682.2,309.3 681.7,307.3 C681.4,304.5 683.2,302.5 684.7,300.5Z" fill="#7a4612" filter="url(#bl1)"/>
<path d="M674.8,308.2 C676.3,310.2 678.1,312.2 677.8,315.0 C677.3,317.0 672.3,317.0 671.8,315.0 C671.5,312.2 673.3,310.2 674.8,308.2Z" fill="#a05416" filter="url(#bl1)"/>
<path d="M706.8,292.7 C708.3,294.7 710.1,296.7 709.8,299.5 C709.3,301.5 704.3,301.5 703.8,299.5 C703.5,296.7 705.3,294.7 706.8,292.7Z" fill="#d8781e" filter="url(#bl1)"/>
<path d="M714.5,299.4 C716.0,301.4 717.8,303.4 717.5,306.2 C717.0,308.2 712.0,308.2 711.5,306.2 C711.2,303.4 713.0,301.4 714.5,299.4Z" fill="#d8781e" filter="url(#bl1)"/>
<path d="M719.0,247.4 C720.5,249.4 722.3,251.4 722.0,254.2 C721.5,256.2 716.5,256.2 716.0,254.2 C715.7,251.4 717.5,249.4 719.0,247.4Z" fill="#a05416" filter="url(#bl1)"/>
<path d="M735.5,251.8 C737.0,253.8 738.8,255.8 738.5,258.6 C738.0,260.6 733.0,260.6 732.5,258.6 C732.2,255.8 734.0,253.8 735.5,251.8Z" fill="#a05416" filter="url(#bl1)"/>
<path d="M744.3,258.5 C745.8,260.5 747.6,262.5 747.3,265.3 C746.8,267.3 741.8,267.3 741.3,265.3 C741.0,262.5 742.8,260.5 744.3,258.5Z" fill="#a05416" filter="url(#bl1)"/>
<path d="M749.5,257.4 C751.0,259.4 752.8,261.4 752.5,264.2 C752.0,266.2 747.0,266.2 746.5,264.2 C746.2,261.4 748.0,259.4 749.5,257.4Z" fill="#d8781e" filter="url(#bl1)"/>
<path d="M755.4,261.8 C756.9,263.8 758.7,265.8 758.4,268.6 C757.9,270.6 752.9,270.6 752.4,268.6 C752.1,265.8 753.9,263.8 755.4,261.8Z" fill="#7a4612" filter="url(#bl1)"/>
<path d="M762.1,225.3 C763.6,227.3 765.4,229.3 765.1,232.1 C764.6,234.1 759.6,234.1 759.1,232.1 C758.8,229.3 760.6,227.3 762.1,225.3Z" fill="#7a4612" filter="url(#bl1)"/>
<path d="M767.6,236.4 C769.1,238.4 770.9,240.4 770.6,243.2 C770.1,245.2 765.1,245.2 764.6,243.2 C764.3,240.4 766.1,238.4 767.6,236.4Z" fill="#a05416" filter="url(#bl1)"/>
<path d="M768.7,257.4 C770.2,259.4 772.0,261.4 771.7,264.2 C771.2,266.2 766.2,266.2 765.7,264.2 C765.4,261.4 767.2,259.4 768.7,257.4Z" fill="#7a4612" filter="url(#bl1)"/>
<path d="M742.2,281.7 C743.7,283.7 745.5,285.7 745.2,288.5 C744.7,290.5 739.7,290.5 739.2,288.5 C738.9,285.7 740.7,283.7 742.2,281.7Z" fill="#d8781e" filter="url(#bl1)"/>
<path d="M756.5,277.3 C758.0,279.3 759.8,281.3 759.5,284.1 C759.0,286.1 754.0,286.1 753.5,284.1 C753.2,281.3 755.0,279.3 756.5,277.3Z" fill="#d8781e" filter="url(#bl1)"/>
<path d="M759.9,285.0 C761.4,287.0 763.2,289.0 762.9,291.8 C762.4,293.8 757.4,293.8 756.9,291.8 C756.6,289.0 758.4,287.0 759.9,285.0Z" fill="#d8781e" filter="url(#bl1)"/>
<path d="M735.5,299.4 C737.0,301.4 738.8,303.4 738.5,306.2 C738.0,308.2 733.0,308.2 732.5,306.2 C732.2,303.4 734.0,301.4 735.5,299.4Z" fill="#d8781e" filter="url(#bl1)"/>
<path d="M786.4,225.3 C787.9,227.3 789.7,229.3 789.4,232.1 C788.9,234.1 783.9,234.1 783.4,232.1 C783.1,229.3 784.9,227.3 786.4,225.3Z" fill="#7a4612" filter="url(#bl1)"/>
<path d="M786.4,238.6 C787.9,240.6 789.7,242.6 789.4,245.4 C788.9,247.4 783.9,247.4 783.4,245.4 C783.1,242.6 784.9,240.6 786.4,238.6Z" fill="#7a4612" filter="url(#bl1)"/>
<path d="M801.8,229.7 C803.3,231.7 805.1,233.7 804.8,236.5 C804.3,238.5 799.3,238.5 798.8,236.5 C798.5,233.7 800.3,231.7 801.8,229.7Z" fill="#a05416" filter="url(#bl1)"/>
<path d="M802.9,240.8 C804.4,242.8 806.2,244.8 805.9,247.6 C805.4,249.6 800.4,249.6 799.9,247.6 C799.6,244.8 801.4,242.8 802.9,240.8Z" fill="#a05416" filter="url(#bl1)"/>
<path d="M800.7,287.2 C802.2,289.2 804.0,291.2 803.7,294.0 C803.2,296.0 798.2,296.0 797.7,294.0 C797.4,291.2 799.2,289.2 800.7,287.2Z" fill="#d8781e" filter="url(#bl1)"/>
<path d="M793.0,322.6 C794.5,324.6 796.3,326.6 796.0,329.4 C795.5,331.4 790.5,331.4 790.0,329.4 C789.7,326.6 791.5,324.6 793.0,322.6Z" fill="#7a4612" filter="url(#bl1)"/>
<path d="M776.4,318.1 C777.9,320.1 779.7,322.1 779.4,324.9 C778.9,326.9 773.9,326.9 773.4,324.9 C773.1,322.1 774.9,320.1 776.4,318.1Z" fill="#a05416" filter="url(#bl1)"/>
<path d="M765.4,320.4 C766.9,322.4 768.7,324.4 768.4,327.2 C767.9,329.2 762.9,329.2 762.4,327.2 C762.1,324.4 763.9,322.4 765.4,320.4Z" fill="#d8781e" filter="url(#bl1)"/>
<path d="M753.2,322.6 C754.7,324.6 756.5,326.6 756.2,329.4 C755.7,331.4 750.7,331.4 750.2,329.4 C749.9,326.6 751.7,324.6 753.2,322.6Z" fill="#7a4612" filter="url(#bl1)"/>
<path d="M740.0,332.5 C741.5,334.5 743.3,336.5 743.0,339.3 C742.5,341.3 737.5,341.3 737.0,339.3 C736.7,336.5 738.5,334.5 740.0,332.5Z" fill="#d8781e" filter="url(#bl1)"/>
<path d="M723.4,343.6 C724.9,345.6 726.7,347.6 726.4,350.4 C725.9,352.4 720.9,352.4 720.4,350.4 C720.1,347.6 721.9,345.6 723.4,343.6Z" fill="#7a4612" filter="url(#bl1)"/>
<path d="M761.0,344.7 C762.5,346.7 764.3,348.7 764.0,351.5 C763.5,353.5 758.5,353.5 758.0,351.5 C757.7,348.7 759.5,346.7 761.0,344.7Z" fill="#a05416" filter="url(#bl1)"/>
<path d="M805.2,207.6 C806.7,209.6 808.5,211.6 808.2,214.4 C807.7,216.4 802.7,216.4 802.2,214.4 C801.9,211.6 803.7,209.6 805.2,207.6Z" fill="#a05416" filter="url(#bl1)"/>
<path d="M782.0,267.3 C783.5,269.3 785.3,271.3 785.0,274.1 C784.5,276.1 779.5,276.1 779.0,274.1 C778.7,271.3 780.5,269.3 782.0,267.3Z" fill="#a05416" filter="url(#bl1)"/>
<path d="M714.5,276.2 C716.0,278.2 717.8,280.2 717.5,283.0 C717.0,285.0 712.0,285.0 711.5,283.0 C711.2,280.2 713.0,278.2 714.5,276.2Z" fill="#a05416" filter="url(#bl1)"/>
<circle cx="808.40" cy="265.50" r="1.3" fill="#d8d840" stroke="none" stroke-width="0"/>
</g>
<rect x="790.30" y="344.50" width="16.70" height="2.60" fill="#fff" stroke="none" stroke-width="0"/>
<rect x="930.40" y="193.30" width="31.00" height="123.60" fill="#fff" stroke="#000" stroke-width="1.8"/>
<line x1="913.20" y1="192.00" x2="913.20" y2="317.80" stroke="#000" stroke-width="1.9"/>
<line x1="912.30" y1="316.90" x2="1019.50" y2="316.90" stroke="#000" stroke-width="1.9"/>
<line x1="906.20" y1="316.90" x2="913.20" y2="316.90" stroke="#000" stroke-width="1.6"/>
<text x="903.50" y="321.30" font-family='"Liberation Sans", sans-serif' font-size="12.4" font-weight="normal" text-anchor="end" fill="#333" stroke="#333" stroke-width="0.3">0</text>
<line x1="906.20" y1="292.12" x2="913.20" y2="292.12" stroke="#000" stroke-width="1.6"/>
<text x="903.50" y="296.52" font-family='"Liberation Sans", sans-serif' font-size="12.4" font-weight="normal" text-anchor="end" fill="#333" stroke="#333" stroke-width="0.3">20</text>
<line x1="906.20" y1="267.34" x2="913.20" y2="267.34" stroke="#000" stroke-width="1.6"/>
<text x="903.50" y="271.74" font-family='"Liberation Sans", sans-serif' font-size="12.4" font-weight="normal" text-anchor="end" fill="#333" stroke="#333" stroke-width="0.3">40</text>
<line x1="906.20" y1="242.56" x2="913.20" y2="242.56" stroke="#000" stroke-width="1.6"/>
<text x="903.50" y="246.96" font-family='"Liberation Sans", sans-serif' font-size="12.4" font-weight="normal" text-anchor="end" fill="#333" stroke="#333" stroke-width="0.3">60</text>
<line x1="906.20" y1="217.78" x2="913.20" y2="217.78" stroke="#000" stroke-width="1.6"/>
<text x="903.50" y="222.18" font-family='"Liberation Sans", sans-serif' font-size="12.4" font-weight="normal" text-anchor="end" fill="#333" stroke="#333" stroke-width="0.3">80</text>
<line x1="906.20" y1="193.00" x2="913.20" y2="193.00" stroke="#000" stroke-width="1.6"/>
<text x="903.50" y="197.40" font-family='"Liberation Sans", sans-serif' font-size="12.4" font-weight="normal" text-anchor="end" fill="#333" stroke="#333" stroke-width="0.3">100</text>
<line x1="945.40" y1="316.90" x2="945.40" y2="322.70" stroke="#000" stroke-width="1.6"/>
<line x1="986.60" y1="316.90" x2="986.60" y2="322.70" stroke="#000" stroke-width="1.6"/>
<circle cx="936.50" cy="193.60" r="2.2" fill="#000" stroke="none" stroke-width="0"/>
<circle cx="941.00" cy="193.60" r="2.2" fill="#000" stroke="none" stroke-width="0"/>
<circle cx="946.00" cy="193.60" r="2.2" fill="#000" stroke="none" stroke-width="0"/>
<circle cx="951.00" cy="193.60" r="2.2" fill="#000" stroke="none" stroke-width="0"/>
<circle cx="955.50" cy="193.60" r="2.2" fill="#000" stroke="none" stroke-width="0"/>
<circle cx="977.50" cy="317.50" r="2.2" fill="#000" stroke="none" stroke-width="0"/>
<circle cx="982.00" cy="316.30" r="2.2" fill="#000" stroke="none" stroke-width="0"/>
<circle cx="986.60" cy="317.10" r="2.2" fill="#000" stroke="none" stroke-width="0"/>
<circle cx="991.00" cy="317.80" r="2.2" fill="#000" stroke="none" stroke-width="0"/>
<circle cx="995.00" cy="317.00" r="2.2" fill="#000" stroke="none" stroke-width="0"/>
<text x="945.40" y="335.20" font-family='"Liberation Sans", sans-serif' font-size="12.5" font-weight="bold" text-anchor="middle" fill="#1a1a1a">+</text>
<text x="986.60" y="335.20" font-family='"Liberation Sans", sans-serif' font-size="12.5" font-weight="bold" text-anchor="middle" fill="#1a1a1a">-</text>
<text x="944.30" y="346.30" font-family='"Liberation Serif", serif' font-size="12.0" font-weight="bold" text-anchor="start" fill="#1a1a1a">CaMKII</text>
<text x="877.00" y="258.00" font-family='"Liberation Sans", sans-serif' font-size="14.6" font-weight="normal" text-anchor="middle" fill="#333" stroke="#333" stroke-width="0.3" transform="rotate(-90 877.00 258.00)">% of mCherry neurons</text>
<text x="0.50" y="397.50" font-family='"Liberation Sans", sans-serif' font-size="20" font-weight="normal" text-anchor="start" fill="#262626" stroke="#262626" stroke-width="0.3">(C)</text>
<line x1="52.40" y1="412.60" x2="52.40" y2="535.90" stroke="#000" stroke-width="2"/>
<line x1="47.00" y1="535.20" x2="52.40" y2="535.20" stroke="#000" stroke-width="2"/>
<text x="44.60" y="539.70" font-family='"Liberation Sans", sans-serif' font-size="12.8" font-weight="normal" text-anchor="end" fill="#333" stroke="#333" stroke-width="0.3">0</text>
<line x1="47.00" y1="504.70" x2="52.40" y2="504.70" stroke="#000" stroke-width="2"/>
<text x="44.60" y="509.20" font-family='"Liberation Sans", sans-serif' font-size="12.8" font-weight="normal" text-anchor="end" fill="#333" stroke="#333" stroke-width="0.3">0.2</text>
<line x1="47.00" y1="474.20" x2="52.40" y2="474.20" stroke="#000" stroke-width="2"/>
<text x="44.60" y="478.70" font-family='"Liberation Sans", sans-serif' font-size="12.8" font-weight="normal" text-anchor="end" fill="#333" stroke="#333" stroke-width="0.3">0.4</text>
<line x1="47.00" y1="443.70" x2="52.40" y2="443.70" stroke="#000" stroke-width="2"/>
<text x="44.60" y="448.20" font-family='"Liberation Sans", sans-serif' font-size="12.8" font-weight="normal" text-anchor="end" fill="#333" stroke="#333" stroke-width="0.3">0.6</text>
<line x1="47.00" y1="413.20" x2="52.40" y2="413.20" stroke="#000" stroke-width="2"/>
<text x="44.60" y="417.70" font-family='"Liberation Sans", sans-serif' font-size="12.8" font-weight="normal" text-anchor="end" fill="#333" stroke="#333" stroke-width="0.3">0.8</text>
<line x1="64.80" y1="548.80" x2="318.40" y2="548.80" stroke="#000" stroke-width="2"/>
<line x1="65.40" y1="548.80" x2="65.40" y2="553.20" stroke="#000" stroke-width="2"/>
<text x="65.40" y="564.60" font-family='"Liberation Sans", sans-serif' font-size="12.6" font-weight="normal" text-anchor="middle" fill="#333" stroke="#333" stroke-width="0.3">-5</text>
<line x1="101.40" y1="548.80" x2="101.40" y2="553.20" stroke="#000" stroke-width="2"/>
<text x="101.40" y="564.60" font-family='"Liberation Sans", sans-serif' font-size="12.6" font-weight="normal" text-anchor="middle" fill="#333" stroke="#333" stroke-width="0.3">0</text>
<line x1="137.40" y1="548.80" x2="137.40" y2="553.20" stroke="#000" stroke-width="2"/>
<text x="137.40" y="564.60" font-family='"Liberation Sans", sans-serif' font-size="12.6" font-weight="normal" text-anchor="middle" fill="#333" stroke="#333" stroke-width="0.3">5</text>
<line x1="173.40" y1="548.80" x2="173.40" y2="553.20" stroke="#000" stroke-width="2"/>
<text x="173.40" y="564.60" font-family='"Liberation Sans", sans-serif' font-size="12.6" font-weight="normal" text-anchor="middle" fill="#333" stroke="#333" stroke-width="0.3">10</text>
<line x1="209.40" y1="548.80" x2="209.40" y2="553.20" stroke="#000" stroke-width="2"/>
<text x="209.40" y="564.60" font-family='"Liberation Sans", sans-serif' font-size="12.6" font-weight="normal" text-anchor="middle" fill="#333" stroke="#333" stroke-width="0.3">15</text>
<line x1="245.40" y1="548.80" x2="245.40" y2="553.20" stroke="#000" stroke-width="2"/>
<text x="245.40" y="564.60" font-family='"Liberation Sans", sans-serif' font-size="12.6" font-weight="normal" text-anchor="middle" fill="#333" stroke="#333" stroke-width="0.3">20</text>
<line x1="281.40" y1="548.80" x2="281.40" y2="553.20" stroke="#000" stroke-width="2"/>
<text x="281.40" y="564.60" font-family='"Liberation Sans", sans-serif' font-size="12.6" font-weight="normal" text-anchor="middle" fill="#333" stroke="#333" stroke-width="0.3">25</text>
<line x1="317.40" y1="548.80" x2="317.40" y2="553.20" stroke="#000" stroke-width="2"/>
<text x="317.40" y="564.60" font-family='"Liberation Sans", sans-serif' font-size="12.6" font-weight="normal" text-anchor="middle" fill="#333" stroke="#333" stroke-width="0.3">30</text>
<text x="191.50" y="577.90" font-family='"Liberation Sans", sans-serif' font-size="14.8" font-weight="normal" text-anchor="middle" fill="#333" stroke="#333" stroke-width="0.3">Time (min)</text>
<text x="22.50" y="476.60" font-family='"Liberation Sans", sans-serif' font-size="15" font-weight="normal" text-anchor="middle" fill="#333" stroke="#333" stroke-width="0.3" transform="rotate(-90 22.50 476.60)">Firing rate (Hz)</text>
<line x1="55.00" y1="396.00" x2="73.20" y2="396.00" stroke="#111" stroke-width="2.6"/>
<line x1="55.00" y1="407.80" x2="73.20" y2="407.80" stroke="#8a8a8a" stroke-width="2.2"/>
<line x1="55.00" y1="420.00" x2="73.20" y2="420.00" stroke="#1db41d" stroke-width="2.8"/>
<text x="75.30" y="400.40" font-family='"Liberation Sans", sans-serif' font-size="12.7" font-weight="normal" text-anchor="start" fill="#333" stroke="#333" stroke-width="0.3">Saline</text>
<text x="75.30" y="412.40" font-family='"Liberation Sans", sans-serif' font-size="12.7" font-weight="normal" text-anchor="start" fill="#333" stroke="#333" stroke-width="0.3">3 mg/kg</text>
<text x="75.30" y="424.60" font-family='"Liberation Sans", sans-serif' font-size="12.5" font-weight="normal" text-anchor="start" fill="#333" stroke="#333" stroke-width="0.3">10 mg/kg</text>
<text x="101.50" y="524.50" font-family='"Liberation Sans", sans-serif' font-size="12.3" font-weight="bold" text-anchor="middle" fill="#1a1a1a">CNO</text>
<line x1="101.50" y1="527.00" x2="101.50" y2="546.50" stroke="#000" stroke-width="1.8"/>
<polyline points="95.30,540.30 101.50,546.60 107.70,540.30" fill="none" stroke="#000" stroke-width="1.8" stroke-linejoin="round"/>
<line x1="65.40" y1="480.26" x2="65.40" y2="494.98" stroke="#111" stroke-width="2.2"/>
<line x1="72.60" y1="486.35" x2="72.60" y2="501.70" stroke="#111" stroke-width="2.2"/>
<line x1="79.80" y1="481.90" x2="79.80" y2="499.44" stroke="#111" stroke-width="2.2"/>
<line x1="87.00" y1="483.88" x2="87.00" y2="498.68" stroke="#111" stroke-width="2.2"/>
<line x1="94.20" y1="488.03" x2="94.20" y2="503.07" stroke="#111" stroke-width="2.2"/>
<line x1="101.40" y1="479.86" x2="101.40" y2="495.38" stroke="#111" stroke-width="2.2"/>
<line x1="108.60" y1="474.97" x2="108.60" y2="488.07" stroke="#111" stroke-width="2.2"/>
<line x1="115.80" y1="465.90" x2="115.80" y2="480.97" stroke="#111" stroke-width="2.2"/>
<line x1="123.00" y1="466.31" x2="123.00" y2="482.09" stroke="#111" stroke-width="2.2"/>
<line x1="130.20" y1="467.04" x2="130.20" y2="483.80" stroke="#111" stroke-width="2.2"/>
<line x1="137.40" y1="468.53" x2="137.40" y2="481.09" stroke="#111" stroke-width="2.2"/>
<line x1="144.60" y1="461.19" x2="144.60" y2="475.01" stroke="#111" stroke-width="2.2"/>
<line x1="151.80" y1="462.90" x2="151.80" y2="475.44" stroke="#111" stroke-width="2.2"/>
<line x1="159.00" y1="462.11" x2="159.00" y2="478.97" stroke="#111" stroke-width="2.2"/>
<line x1="166.20" y1="459.26" x2="166.20" y2="475.42" stroke="#111" stroke-width="2.2"/>
<line x1="173.40" y1="464.87" x2="173.40" y2="477.12" stroke="#111" stroke-width="2.2"/>
<line x1="180.60" y1="456.87" x2="180.60" y2="474.76" stroke="#111" stroke-width="2.2"/>
<line x1="187.80" y1="456.92" x2="187.80" y2="474.71" stroke="#111" stroke-width="2.2"/>
<line x1="195.00" y1="453.73" x2="195.00" y2="469.66" stroke="#111" stroke-width="2.2"/>
<line x1="202.20" y1="460.71" x2="202.20" y2="476.40" stroke="#111" stroke-width="2.2"/>
<line x1="209.40" y1="458.58" x2="209.40" y2="471.52" stroke="#111" stroke-width="2.2"/>
<line x1="216.60" y1="459.77" x2="216.60" y2="471.86" stroke="#111" stroke-width="2.2"/>
<line x1="223.80" y1="451.36" x2="223.80" y2="466.54" stroke="#111" stroke-width="2.2"/>
<line x1="231.00" y1="457.65" x2="231.00" y2="470.01" stroke="#111" stroke-width="2.2"/>
<line x1="238.20" y1="459.24" x2="238.20" y2="472.38" stroke="#111" stroke-width="2.2"/>
<line x1="245.40" y1="457.71" x2="245.40" y2="471.17" stroke="#111" stroke-width="2.2"/>
<line x1="252.60" y1="452.25" x2="252.60" y2="464.43" stroke="#111" stroke-width="2.2"/>
<line x1="259.80" y1="451.56" x2="259.80" y2="466.34" stroke="#111" stroke-width="2.2"/>
<line x1="267.00" y1="458.49" x2="267.00" y2="473.13" stroke="#111" stroke-width="2.2"/>
<line x1="274.20" y1="456.52" x2="274.20" y2="473.58" stroke="#111" stroke-width="2.2"/>
<line x1="281.40" y1="457.49" x2="281.40" y2="472.61" stroke="#111" stroke-width="2.2"/>
<line x1="288.60" y1="461.25" x2="288.60" y2="477.09" stroke="#111" stroke-width="2.2"/>
<line x1="295.80" y1="459.08" x2="295.80" y2="474.07" stroke="#111" stroke-width="2.2"/>
<line x1="303.00" y1="457.83" x2="303.00" y2="473.80" stroke="#111" stroke-width="2.2"/>
<line x1="310.20" y1="454.32" x2="310.20" y2="469.07" stroke="#111" stroke-width="2.2"/>
<line x1="317.40" y1="451.51" x2="317.40" y2="465.17" stroke="#111" stroke-width="2.2"/>
<polyline points="65.40,487.62 72.60,494.03 79.80,490.67 87.00,491.28 94.20,495.55 101.40,487.62 108.60,481.52 115.80,473.44 123.00,474.20 130.20,475.42 137.40,474.81 144.60,468.10 151.80,469.17 159.00,470.54 166.20,467.34 173.40,471.00 180.60,465.81 187.80,465.81 195.00,461.70 202.20,468.56 209.40,465.05 216.60,465.81 223.80,458.95 231.00,463.83 238.20,465.81 245.40,464.44 252.60,458.34 259.80,458.95 267.00,465.81 274.20,465.05 281.40,465.05 288.60,469.17 295.80,466.58 303.00,465.81 310.20,461.70 317.40,458.34" fill="none" stroke="#111" stroke-width="2.4" stroke-linejoin="round"/>
<line x1="65.40" y1="475.35" x2="65.40" y2="491.35" stroke="#8a8a8a" stroke-width="2.2"/>
<line x1="72.60" y1="474.52" x2="72.60" y2="488.52" stroke="#8a8a8a" stroke-width="2.2"/>
<line x1="79.80" y1="462.20" x2="79.80" y2="486.20" stroke="#8a8a8a" stroke-width="2.2"/>
<line x1="87.00" y1="485.03" x2="87.00" y2="503.03" stroke="#8a8a8a" stroke-width="2.2"/>
<line x1="94.20" y1="491.60" x2="94.20" y2="505.60" stroke="#8a8a8a" stroke-width="2.2"/>
<line x1="101.40" y1="479.62" x2="101.40" y2="495.62" stroke="#8a8a8a" stroke-width="2.2"/>
<line x1="108.60" y1="471.86" x2="108.60" y2="483.86" stroke="#8a8a8a" stroke-width="2.2"/>
<line x1="115.80" y1="452.46" x2="115.80" y2="472.46" stroke="#8a8a8a" stroke-width="2.2"/>
<line x1="123.00" y1="458.73" x2="123.00" y2="474.73" stroke="#8a8a8a" stroke-width="2.2"/>
<line x1="130.20" y1="435.70" x2="130.20" y2="469.70" stroke="#8a8a8a" stroke-width="2.2"/>
<line x1="137.40" y1="455.66" x2="137.40" y2="475.66" stroke="#8a8a8a" stroke-width="2.2"/>
<line x1="144.60" y1="451.63" x2="144.60" y2="469.63" stroke="#8a8a8a" stroke-width="2.2"/>
<line x1="151.80" y1="460.10" x2="151.80" y2="476.10" stroke="#8a8a8a" stroke-width="2.2"/>
<line x1="159.00" y1="462.76" x2="159.00" y2="480.76" stroke="#8a8a8a" stroke-width="2.2"/>
<line x1="166.20" y1="458.73" x2="166.20" y2="474.73" stroke="#8a8a8a" stroke-width="2.2"/>
<line x1="173.40" y1="460.17" x2="173.40" y2="478.17" stroke="#8a8a8a" stroke-width="2.2"/>
<line x1="180.60" y1="456.58" x2="180.60" y2="476.58" stroke="#8a8a8a" stroke-width="2.2"/>
<line x1="187.80" y1="461.54" x2="187.80" y2="479.54" stroke="#8a8a8a" stroke-width="2.2"/>
<line x1="195.00" y1="457.58" x2="195.00" y2="475.58" stroke="#8a8a8a" stroke-width="2.2"/>
<line x1="202.20" y1="459.10" x2="202.20" y2="477.10" stroke="#8a8a8a" stroke-width="2.2"/>
<line x1="209.40" y1="453.00" x2="209.40" y2="471.00" stroke="#8a8a8a" stroke-width="2.2"/>
<line x1="216.60" y1="456.05" x2="216.60" y2="474.05" stroke="#8a8a8a" stroke-width="2.2"/>
<line x1="223.80" y1="470.22" x2="223.80" y2="492.22" stroke="#8a8a8a" stroke-width="2.2"/>
<line x1="231.00" y1="480.98" x2="231.00" y2="500.98" stroke="#8a8a8a" stroke-width="2.2"/>
<line x1="238.20" y1="483.57" x2="238.20" y2="503.57" stroke="#8a8a8a" stroke-width="2.2"/>
<line x1="245.40" y1="476.52" x2="245.40" y2="504.52" stroke="#8a8a8a" stroke-width="2.2"/>
<line x1="252.60" y1="489.91" x2="252.60" y2="507.91" stroke="#8a8a8a" stroke-width="2.2"/>
<line x1="259.80" y1="496.77" x2="259.80" y2="514.77" stroke="#8a8a8a" stroke-width="2.2"/>
<line x1="267.00" y1="489.91" x2="267.00" y2="507.91" stroke="#8a8a8a" stroke-width="2.2"/>
<line x1="274.20" y1="487.01" x2="274.20" y2="505.01" stroke="#8a8a8a" stroke-width="2.2"/>
<line x1="281.40" y1="483.04" x2="281.40" y2="501.04" stroke="#8a8a8a" stroke-width="2.2"/>
<line x1="288.60" y1="474.66" x2="288.60" y2="492.66" stroke="#8a8a8a" stroke-width="2.2"/>
<line x1="295.80" y1="464.90" x2="295.80" y2="482.90" stroke="#8a8a8a" stroke-width="2.2"/>
<line x1="303.00" y1="456.97" x2="303.00" y2="474.97" stroke="#8a8a8a" stroke-width="2.2"/>
<line x1="310.20" y1="460.47" x2="310.20" y2="478.47" stroke="#8a8a8a" stroke-width="2.2"/>
<line x1="317.40" y1="459.47" x2="317.40" y2="479.47" stroke="#8a8a8a" stroke-width="2.2"/>
<polyline points="65.40,483.35 72.60,481.52 79.80,474.20 87.00,494.03 94.20,498.60 101.40,487.62 108.60,477.86 115.80,462.46 123.00,466.73 130.20,452.70 137.40,465.66 144.60,460.63 151.80,468.10 159.00,471.76 166.20,466.73 173.40,469.17 180.60,466.58 187.80,470.54 195.00,466.58 202.20,468.10 209.40,462.00 216.60,465.05 223.80,481.22 231.00,490.98 238.20,493.57 245.40,490.52 252.60,498.91 259.80,505.77 267.00,498.91 274.20,496.01 281.40,492.04 288.60,483.66 295.80,473.90 303.00,465.97 310.20,469.47 317.40,469.47" fill="none" stroke="#8a8a8a" stroke-width="2.4" stroke-linejoin="round"/>
<line x1="65.40" y1="489.77" x2="65.40" y2="503.77" stroke="#1db41d" stroke-width="2.6"/>
<line x1="72.60" y1="484.89" x2="72.60" y2="498.89" stroke="#1db41d" stroke-width="2.6"/>
<line x1="79.80" y1="480.62" x2="79.80" y2="494.62" stroke="#1db41d" stroke-width="2.6"/>
<line x1="87.00" y1="474.74" x2="87.00" y2="490.74" stroke="#1db41d" stroke-width="2.6"/>
<line x1="94.20" y1="476.35" x2="94.20" y2="490.35" stroke="#1db41d" stroke-width="2.6"/>
<line x1="101.40" y1="473.13" x2="101.40" y2="491.13" stroke="#1db41d" stroke-width="2.6"/>
<line x1="108.60" y1="474.13" x2="108.60" y2="490.13" stroke="#1db41d" stroke-width="2.6"/>
<line x1="115.80" y1="480.62" x2="115.80" y2="494.62" stroke="#1db41d" stroke-width="2.6"/>
<line x1="123.00" y1="484.89" x2="123.00" y2="498.89" stroke="#1db41d" stroke-width="2.6"/>
<line x1="130.20" y1="487.94" x2="130.20" y2="501.94" stroke="#1db41d" stroke-width="2.6"/>
<line x1="137.40" y1="486.26" x2="137.40" y2="500.26" stroke="#1db41d" stroke-width="2.6"/>
<line x1="144.60" y1="489.77" x2="144.60" y2="503.77" stroke="#1db41d" stroke-width="2.6"/>
<line x1="151.80" y1="491.53" x2="151.80" y2="503.53" stroke="#1db41d" stroke-width="2.6"/>
<line x1="159.00" y1="495.41" x2="159.00" y2="509.41" stroke="#1db41d" stroke-width="2.6"/>
<line x1="166.20" y1="509.61" x2="166.20" y2="519.61" stroke="#1db41d" stroke-width="2.6"/>
<line x1="173.40" y1="509.61" x2="173.40" y2="519.61" stroke="#1db41d" stroke-width="2.6"/>
<line x1="180.60" y1="509.46" x2="180.60" y2="519.46" stroke="#1db41d" stroke-width="2.6"/>
<line x1="187.80" y1="509.46" x2="187.80" y2="519.46" stroke="#1db41d" stroke-width="2.6"/>
<line x1="195.00" y1="507.94" x2="195.00" y2="517.94" stroke="#1db41d" stroke-width="2.6"/>
<line x1="202.20" y1="515.04" x2="202.20" y2="523.04" stroke="#1db41d" stroke-width="2.6"/>
<line x1="209.40" y1="517.78" x2="209.40" y2="525.78" stroke="#1db41d" stroke-width="2.6"/>
<line x1="216.60" y1="517.78" x2="216.60" y2="525.78" stroke="#1db41d" stroke-width="2.6"/>
<line x1="223.80" y1="517.78" x2="223.80" y2="525.78" stroke="#1db41d" stroke-width="2.6"/>
<line x1="231.00" y1="520.53" x2="231.00" y2="528.53" stroke="#1db41d" stroke-width="2.6"/>
<line x1="238.20" y1="520.07" x2="238.20" y2="528.07" stroke="#1db41d" stroke-width="2.6"/>
<line x1="245.40" y1="519.46" x2="245.40" y2="527.46" stroke="#1db41d" stroke-width="2.6"/>
<line x1="252.60" y1="517.48" x2="252.60" y2="525.48" stroke="#1db41d" stroke-width="2.6"/>
<line x1="259.80" y1="520.53" x2="259.80" y2="528.53" stroke="#1db41d" stroke-width="2.6"/>
<line x1="267.00" y1="522.40" x2="267.00" y2="529.40" stroke="#1db41d" stroke-width="2.6"/>
<line x1="274.20" y1="521.79" x2="274.20" y2="528.79" stroke="#1db41d" stroke-width="2.6"/>
<line x1="281.40" y1="523.01" x2="281.40" y2="530.01" stroke="#1db41d" stroke-width="2.6"/>
<line x1="288.60" y1="520.57" x2="288.60" y2="527.57" stroke="#1db41d" stroke-width="2.6"/>
<line x1="295.80" y1="521.79" x2="295.80" y2="528.79" stroke="#1db41d" stroke-width="2.6"/>
<line x1="303.00" y1="521.79" x2="303.00" y2="528.79" stroke="#1db41d" stroke-width="2.6"/>
<line x1="310.20" y1="521.79" x2="310.20" y2="528.79" stroke="#1db41d" stroke-width="2.6"/>
<line x1="317.40" y1="519.46" x2="317.40" y2="527.46" stroke="#1db41d" stroke-width="2.6"/>
<polyline points="65.40,496.77 72.60,491.89 79.80,487.62 87.00,482.74 94.20,483.35 101.40,482.13 108.60,482.13 115.80,487.62 123.00,491.89 130.20,494.94 137.40,493.26 144.60,496.77 151.80,497.53 159.00,502.41 166.20,514.61 173.40,514.61 180.60,514.46 187.80,514.46 195.00,512.94 202.20,519.04 209.40,521.78 216.60,521.78 223.80,521.78 231.00,524.53 238.20,524.07 245.40,523.46 252.60,521.48 259.80,524.53 267.00,525.90 274.20,525.29 281.40,526.51 288.60,524.07 295.80,525.29 303.00,525.29 310.20,525.29 317.40,523.46" fill="none" stroke="#1db41d" stroke-width="2.8" stroke-linejoin="round"/>
<text x="150.80" y="518.60" font-family='"Liberation Sans", sans-serif' font-size="12.5" font-weight="normal" text-anchor="middle" fill="#222" stroke="#222" stroke-width="0.3">*</text>
<text x="158.10" y="521.60" font-family='"Liberation Sans", sans-serif' font-size="12.5" font-weight="normal" text-anchor="middle" fill="#222" stroke="#222" stroke-width="0.3">*</text>
<text x="173.40" y="510.60" font-family='"Liberation Sans", sans-serif' font-size="12.5" font-weight="normal" text-anchor="middle" fill="#222" stroke="#222" stroke-width="0.3">**</text>
<text x="165.50" y="530.80" font-family='"Liberation Sans", sans-serif' font-size="12.5" font-weight="normal" text-anchor="middle" fill="#222" stroke="#222" stroke-width="0.3">**</text>
<text x="179.60" y="531.40" font-family='"Liberation Sans", sans-serif' font-size="12.5" font-weight="normal" text-anchor="middle" fill="#222" stroke="#222" stroke-width="0.3">**</text>
<text x="188.10" y="511.90" font-family='"Liberation Sans", sans-serif' font-size="12.5" font-weight="normal" text-anchor="middle" fill="#222" stroke="#222" stroke-width="0.3">**</text>
<text x="202.30" y="520.00" font-family='"Liberation Sans", sans-serif' font-size="12.5" font-weight="normal" text-anchor="middle" fill="#222" stroke="#222" stroke-width="0.3">**</text>
<text x="215.80" y="520.70" font-family='"Liberation Sans", sans-serif' font-size="12.5" font-weight="normal" text-anchor="middle" fill="#222" stroke="#222" stroke-width="0.3">**</text>
<text x="230.60" y="526.80" font-family='"Liberation Sans", sans-serif' font-size="12.5" font-weight="normal" text-anchor="middle" fill="#222" stroke="#222" stroke-width="0.3">**</text>
<text x="244.80" y="526.10" font-family='"Liberation Sans", sans-serif' font-size="12.5" font-weight="normal" text-anchor="middle" fill="#222" stroke="#222" stroke-width="0.3">**</text>
<text x="259.70" y="526.10" font-family='"Liberation Sans", sans-serif' font-size="12.5" font-weight="normal" text-anchor="middle" fill="#222" stroke="#222" stroke-width="0.3">**</text>
<text x="274.50" y="526.40" font-family='"Liberation Sans", sans-serif' font-size="12.5" font-weight="normal" text-anchor="middle" fill="#222" stroke="#222" stroke-width="0.3">**</text>
<text x="288.70" y="523.80" font-family='"Liberation Sans", sans-serif' font-size="12.5" font-weight="normal" text-anchor="middle" fill="#222" stroke="#222" stroke-width="0.3">**</text>
<text x="302.90" y="526.50" font-family='"Liberation Sans", sans-serif' font-size="12.5" font-weight="normal" text-anchor="middle" fill="#222" stroke="#222" stroke-width="0.3">**</text>
<text x="317.00" y="523.00" font-family='"Liberation Sans", sans-serif' font-size="12.5" font-weight="normal" text-anchor="middle" fill="#222" stroke="#222" stroke-width="0.3">**</text>
<text x="180.00" y="531.50" font-family='"Liberation Sans", sans-serif' font-size="12.5" font-weight="normal" text-anchor="middle" fill="#222" stroke="#222" stroke-width="0.3">*</text>
<text x="194.20" y="529.90" font-family='"Liberation Sans", sans-serif' font-size="12.5" font-weight="normal" text-anchor="middle" fill="#222" stroke="#222" stroke-width="0.3">**</text>
<text x="208.40" y="537.60" font-family='"Liberation Sans", sans-serif' font-size="12.5" font-weight="normal" text-anchor="middle" fill="#222" stroke="#222" stroke-width="0.3">**</text>
<text x="222.90" y="538.30" font-family='"Liberation Sans", sans-serif' font-size="12.5" font-weight="normal" text-anchor="middle" fill="#222" stroke="#222" stroke-width="0.3">**</text>
<text x="237.40" y="538.50" font-family='"Liberation Sans", sans-serif' font-size="12.5" font-weight="normal" text-anchor="middle" fill="#222" stroke="#222" stroke-width="0.3">**</text>
<text x="251.60" y="537.60" font-family='"Liberation Sans", sans-serif' font-size="12.5" font-weight="normal" text-anchor="middle" fill="#222" stroke="#222" stroke-width="0.3">**</text>
<text x="265.70" y="540.30" font-family='"Liberation Sans", sans-serif' font-size="12.5" font-weight="normal" text-anchor="middle" fill="#222" stroke="#222" stroke-width="0.3">**</text>
<text x="280.60" y="540.30" font-family='"Liberation Sans", sans-serif' font-size="12.5" font-weight="normal" text-anchor="middle" fill="#222" stroke="#222" stroke-width="0.3">**</text>
<text x="294.80" y="540.30" font-family='"Liberation Sans", sans-serif' font-size="12.5" font-weight="normal" text-anchor="middle" fill="#222" stroke="#222" stroke-width="0.3">**</text>
<text x="309.60" y="540.30" font-family='"Liberation Sans", sans-serif' font-size="12.5" font-weight="normal" text-anchor="middle" fill="#222" stroke="#222" stroke-width="0.3">**</text>
<text x="238.20" y="487.30" font-family='"Liberation Sans", sans-serif' font-size="12.5" font-weight="normal" text-anchor="middle" fill="#222" stroke="#222" stroke-width="0.3">*</text>
<text x="251.40" y="498.10" font-family='"Liberation Sans", sans-serif' font-size="12.5" font-weight="normal" text-anchor="middle" fill="#222" stroke="#222" stroke-width="0.3">**</text>
<text x="258.80" y="504.30" font-family='"Liberation Sans", sans-serif' font-size="12.5" font-weight="normal" text-anchor="middle" fill="#222" stroke="#222" stroke-width="0.3">**</text>
<text x="266.10" y="494.70" font-family='"Liberation Sans", sans-serif' font-size="12.5" font-weight="normal" text-anchor="middle" fill="#222" stroke="#222" stroke-width="0.3">**</text>
<text x="273.80" y="490.50" font-family='"Liberation Sans", sans-serif' font-size="12.5" font-weight="normal" text-anchor="middle" fill="#222" stroke="#222" stroke-width="0.3">*</text>
<text x="281.30" y="487.30" font-family='"Liberation Sans", sans-serif' font-size="12.5" font-weight="normal" text-anchor="middle" fill="#222" stroke="#222" stroke-width="0.3">*</text>
<text x="364.40" y="473.00" font-family='"Liberation Sans", sans-serif' font-size="14.9" font-weight="normal" text-anchor="middle" fill="#333" stroke="#333" stroke-width="0.3" transform="rotate(-90 364.40 473.00)">Percentage of neurons (%)</text>
<rect x="411.30" y="409.10" width="27.80" height="3.46" fill="#007f00" stroke="none" stroke-width="0"/>
<rect x="411.30" y="412.56" width="27.80" height="94.67" fill="#5f5f5f" stroke="none" stroke-width="0"/>
<rect x="411.30" y="507.22" width="27.80" height="40.08" fill="#ff6200" stroke="none" stroke-width="0"/>
<rect x="453.00" y="409.10" width="27.80" height="32.34" fill="#007f00" stroke="none" stroke-width="0"/>
<rect x="453.00" y="441.44" width="27.80" height="68.13" fill="#5f5f5f" stroke="none" stroke-width="0"/>
<rect x="453.00" y="509.57" width="27.80" height="37.73" fill="#ff6200" stroke="none" stroke-width="0"/>
<rect x="494.60" y="409.10" width="27.80" height="102.82" fill="#007f00" stroke="none" stroke-width="0"/>
<rect x="494.60" y="511.92" width="27.80" height="22.11" fill="#5f5f5f" stroke="none" stroke-width="0"/>
<rect x="494.60" y="534.03" width="27.80" height="13.27" fill="#ff6200" stroke="none" stroke-width="0"/>
<line x1="397.30" y1="408.10" x2="397.30" y2="548.30" stroke="#000" stroke-width="2.2"/>
<line x1="396.30" y1="547.30" x2="536.00" y2="547.30" stroke="#000" stroke-width="2.2"/>
<line x1="391.30" y1="547.30" x2="397.30" y2="547.30" stroke="#000" stroke-width="2"/>
<text x="388.20" y="551.80" font-family='"Liberation Sans", sans-serif' font-size="12.8" font-weight="normal" text-anchor="end" fill="#333" stroke="#333" stroke-width="0.3">0</text>
<line x1="391.30" y1="519.66" x2="397.30" y2="519.66" stroke="#000" stroke-width="2"/>
<text x="388.20" y="524.16" font-family='"Liberation Sans", sans-serif' font-size="12.8" font-weight="normal" text-anchor="end" fill="#333" stroke="#333" stroke-width="0.3">20</text>
<line x1="391.30" y1="492.02" x2="397.30" y2="492.02" stroke="#000" stroke-width="2"/>
<text x="388.20" y="496.52" font-family='"Liberation Sans", sans-serif' font-size="12.8" font-weight="normal" text-anchor="end" fill="#333" stroke="#333" stroke-width="0.3">40</text>
<line x1="391.30" y1="464.38" x2="397.30" y2="464.38" stroke="#000" stroke-width="2"/>
<text x="388.20" y="468.88" font-family='"Liberation Sans", sans-serif' font-size="12.8" font-weight="normal" text-anchor="end" fill="#333" stroke="#333" stroke-width="0.3">60</text>
<line x1="391.30" y1="436.74" x2="397.30" y2="436.74" stroke="#000" stroke-width="2"/>
<text x="388.20" y="441.24" font-family='"Liberation Sans", sans-serif' font-size="12.8" font-weight="normal" text-anchor="end" fill="#333" stroke="#333" stroke-width="0.3">80</text>
<line x1="391.30" y1="409.10" x2="397.30" y2="409.10" stroke="#000" stroke-width="2"/>
<text x="388.20" y="413.60" font-family='"Liberation Sans", sans-serif' font-size="12.8" font-weight="normal" text-anchor="end" fill="#333" stroke="#333" stroke-width="0.3">100</text>
<line x1="425.20" y1="547.30" x2="425.20" y2="551.80" stroke="#000" stroke-width="2"/>
<text x="425.20" y="563.60" font-family='"Liberation Sans", sans-serif' font-size="11.6" font-weight="normal" text-anchor="middle" fill="#333" stroke="#333" stroke-width="0.3">Saline</text>
<line x1="466.90" y1="547.30" x2="466.90" y2="551.80" stroke="#000" stroke-width="2"/>
<text x="466.90" y="563.60" font-family='"Liberation Sans", sans-serif' font-size="11.6" font-weight="normal" text-anchor="middle" fill="#333" stroke="#333" stroke-width="0.3">3mg/kg</text>
<line x1="508.50" y1="547.30" x2="508.50" y2="551.80" stroke="#000" stroke-width="2"/>
<text x="513.00" y="563.60" font-family='"Liberation Sans", sans-serif' font-size="11.6" font-weight="normal" text-anchor="middle" fill="#333" stroke="#333" stroke-width="0.3">10mg/kg</text>
<rect x="394.10" y="359.30" width="22.40" height="8.80" fill="#007f00" stroke="none" stroke-width="0"/>
<text x="421.00" y="367.50" font-family='"Liberation Sans", sans-serif' font-size="12.5" font-weight="normal" text-anchor="start" fill="#333" stroke="#333" stroke-width="0.3">Decrease</text>
<rect x="394.10" y="374.10" width="22.40" height="8.80" fill="#5f5f5f" stroke="none" stroke-width="0"/>
<text x="421.00" y="382.30" font-family='"Liberation Sans", sans-serif' font-size="12.5" font-weight="normal" text-anchor="start" fill="#333" stroke="#333" stroke-width="0.3">No change</text>
<rect x="394.10" y="388.50" width="22.40" height="8.80" fill="#ff6200" stroke="none" stroke-width="0"/>
<text x="421.00" y="396.70" font-family='"Liberation Sans", sans-serif' font-size="12.5" font-weight="normal" text-anchor="start" fill="#333" stroke="#333" stroke-width="0.3">Increase</text>
<text x="552.20" y="398.80" font-family='"Liberation Sans", sans-serif' font-size="20" font-weight="normal" text-anchor="start" fill="#262626" stroke="#262626" stroke-width="0.3">(D)</text>
<line x1="610.80" y1="411.00" x2="610.80" y2="536.60" stroke="#000" stroke-width="2"/>
<line x1="605.30" y1="535.80" x2="610.80" y2="535.80" stroke="#000" stroke-width="2"/>
<text x="603.20" y="540.30" font-family='"Liberation Sans", sans-serif' font-size="12.8" font-weight="normal" text-anchor="end" fill="#333" stroke="#333" stroke-width="0.3">100</text>
<line x1="605.30" y1="511.00" x2="610.80" y2="511.00" stroke="#000" stroke-width="2"/>
<text x="603.20" y="515.50" font-family='"Liberation Sans", sans-serif' font-size="12.8" font-weight="normal" text-anchor="end" fill="#333" stroke="#333" stroke-width="0.3">120</text>
<line x1="605.30" y1="486.20" x2="610.80" y2="486.20" stroke="#000" stroke-width="2"/>
<text x="603.20" y="490.70" font-family='"Liberation Sans", sans-serif' font-size="12.8" font-weight="normal" text-anchor="end" fill="#333" stroke="#333" stroke-width="0.3">140</text>
<line x1="605.30" y1="461.40" x2="610.80" y2="461.40" stroke="#000" stroke-width="2"/>
<text x="603.20" y="465.90" font-family='"Liberation Sans", sans-serif' font-size="12.8" font-weight="normal" text-anchor="end" fill="#333" stroke="#333" stroke-width="0.3">160</text>
<line x1="605.30" y1="436.60" x2="610.80" y2="436.60" stroke="#000" stroke-width="2"/>
<text x="603.20" y="441.10" font-family='"Liberation Sans", sans-serif' font-size="12.8" font-weight="normal" text-anchor="end" fill="#333" stroke="#333" stroke-width="0.3">180</text>
<line x1="605.30" y1="411.80" x2="610.80" y2="411.80" stroke="#000" stroke-width="2"/>
<text x="603.20" y="416.30" font-family='"Liberation Sans", sans-serif' font-size="12.8" font-weight="normal" text-anchor="end" fill="#333" stroke="#333" stroke-width="0.3">200</text>
<line x1="623.60" y1="550.20" x2="818.30" y2="550.20" stroke="#000" stroke-width="2"/>
<line x1="624.10" y1="550.20" x2="624.10" y2="554.50" stroke="#000" stroke-width="2"/>
<text x="624.10" y="567.80" font-family='"Liberation Sans", sans-serif' font-size="12.6" font-weight="normal" text-anchor="middle" fill="#333" stroke="#333" stroke-width="0.3">-40</text>
<line x1="656.55" y1="550.20" x2="656.55" y2="554.50" stroke="#000" stroke-width="2"/>
<text x="656.55" y="567.80" font-family='"Liberation Sans", sans-serif' font-size="12.6" font-weight="normal" text-anchor="middle" fill="#333" stroke="#333" stroke-width="0.3">-20</text>
<line x1="689.00" y1="550.20" x2="689.00" y2="554.50" stroke="#000" stroke-width="2"/>
<text x="689.00" y="567.80" font-family='"Liberation Sans", sans-serif' font-size="12.6" font-weight="normal" text-anchor="middle" fill="#333" stroke="#333" stroke-width="0.3">0</text>
<line x1="721.45" y1="550.20" x2="721.45" y2="554.50" stroke="#000" stroke-width="2"/>
<text x="721.45" y="567.80" font-family='"Liberation Sans", sans-serif' font-size="12.6" font-weight="normal" text-anchor="middle" fill="#333" stroke="#333" stroke-width="0.3">20</text>
<line x1="753.90" y1="550.20" x2="753.90" y2="554.50" stroke="#000" stroke-width="2"/>
<text x="753.90" y="567.80" font-family='"Liberation Sans", sans-serif' font-size="12.6" font-weight="normal" text-anchor="middle" fill="#333" stroke="#333" stroke-width="0.3">40</text>
<line x1="786.35" y1="550.20" x2="786.35" y2="554.50" stroke="#000" stroke-width="2"/>
<text x="786.35" y="567.80" font-family='"Liberation Sans", sans-serif' font-size="12.6" font-weight="normal" text-anchor="middle" fill="#333" stroke="#333" stroke-width="0.3">60</text>
<line x1="818.80" y1="550.20" x2="818.80" y2="554.50" stroke="#000" stroke-width="2"/>
<text x="818.80" y="567.80" font-family='"Liberation Sans", sans-serif' font-size="12.6" font-weight="normal" text-anchor="middle" fill="#333" stroke="#333" stroke-width="0.3">80</text>
<text x="722.50" y="581.20" font-family='"Liberation Sans", sans-serif' font-size="14.7" font-weight="normal" text-anchor="middle" fill="#333" stroke="#333" stroke-width="0.3">Time (min)</text>
<text x="577.30" y="473.00" font-family='"Liberation Sans", sans-serif' font-size="15.2" font-weight="normal" text-anchor="middle" fill="#333" stroke="#333" stroke-width="0.3" transform="rotate(-90 577.30 473.00)">Glutamate (ng/ml)</text>
<circle cx="617.00" cy="400.30" r="3.1" fill="#1a8a1a" stroke="none" stroke-width="0"/>
<circle cx="617.00" cy="412.70" r="3.1" fill="#000" stroke="none" stroke-width="0"/>
<text x="623.70" y="404.90" font-family='"Liberation Sans", sans-serif' font-size="12.9" font-weight="normal" text-anchor="start" fill="#333" stroke="#333" stroke-width="0.3">Lesioned</text>
<text x="623.70" y="417.50" font-family='"Liberation Sans", sans-serif' font-size="12.9" font-weight="normal" text-anchor="start" fill="#333" stroke="#333" stroke-width="0.3">Unlesioned</text>
<text x="689.30" y="525.80" font-family='"Liberation Sans", sans-serif' font-size="12.3" font-weight="bold" text-anchor="middle" fill="#1a1a1a">CNO</text>
<line x1="689.30" y1="528.00" x2="689.30" y2="548.50" stroke="#000" stroke-width="1.8"/>
<polyline points="683.30,542.00 689.30,548.20 695.30,542.00" fill="none" stroke="#000" stroke-width="1.8" stroke-linejoin="round"/>
<polyline points="624.10,520.67 656.55,490.42 689.00,497.24 721.45,505.42 753.90,496.62 786.35,496.62 818.80,484.96" fill="none" stroke="#000" stroke-width="2.2" stroke-linejoin="round"/>
<circle cx="624.10" cy="520.67" r="3.3" fill="#000" stroke="none" stroke-width="0"/>
<circle cx="656.55" cy="490.42" r="3.3" fill="#000" stroke="none" stroke-width="0"/>
<circle cx="689.00" cy="497.24" r="3.3" fill="#000" stroke="none" stroke-width="0"/>
<circle cx="721.45" cy="505.42" r="3.3" fill="#000" stroke="none" stroke-width="0"/>
<circle cx="753.90" cy="496.62" r="3.3" fill="#000" stroke="none" stroke-width="0"/>
<circle cx="786.35" cy="496.62" r="3.3" fill="#000" stroke="none" stroke-width="0"/>
<circle cx="818.80" cy="484.96" r="3.3" fill="#000" stroke="none" stroke-width="0"/>
<polyline points="624.10,464.75 656.55,439.08 689.00,435.98 721.45,482.48 753.90,488.43 786.35,491.90 818.80,484.96" fill="none" stroke="#1a8a1a" stroke-width="2.2" stroke-linejoin="round"/>
<circle cx="624.10" cy="464.75" r="3.3" fill="#1a8a1a" stroke="none" stroke-width="0"/>
<circle cx="656.55" cy="439.08" r="3.3" fill="#1a8a1a" stroke="none" stroke-width="0"/>
<circle cx="689.00" cy="435.98" r="3.3" fill="#1a8a1a" stroke="none" stroke-width="0"/>
<circle cx="721.45" cy="482.48" r="3.3" fill="#1a8a1a" stroke="none" stroke-width="0"/>
<circle cx="753.90" cy="488.43" r="3.3" fill="#1a8a1a" stroke="none" stroke-width="0"/>
<circle cx="786.35" cy="491.90" r="3.3" fill="#1a8a1a" stroke="none" stroke-width="0"/>
<circle cx="818.80" cy="484.96" r="3.3" fill="#1a8a1a" stroke="none" stroke-width="0"/>
<text x="655.30" y="439.10" font-family='"Liberation Sans", sans-serif' font-size="17" font-weight="normal" text-anchor="middle" fill="#222" stroke="#222" stroke-width="0.3">*</text>
<text x="688.00" y="435.10" font-family='"Liberation Sans", sans-serif' font-size="17" font-weight="normal" text-anchor="middle" fill="#222" stroke="#222" stroke-width="0.3">*</text>
<text x="723.70" y="482.10" font-family='"Liberation Sans", sans-serif' font-size="17" font-weight="normal" text-anchor="middle" fill="#222" stroke="#222" stroke-width="0.3">*</text>
<text x="843.00" y="398.00" font-family='"Liberation Sans", sans-serif' font-size="20" font-weight="normal" text-anchor="start" fill="#262626" stroke="#262626" stroke-width="0.3">(E)</text>
<text x="970.80" y="393.20" font-family='"Liberation Sans", sans-serif' font-size="16.8" font-weight="bold" text-anchor="middle" fill="#111">Rotarod test</text>
<line x1="898.30" y1="411.60" x2="898.30" y2="549.30" stroke="#000" stroke-width="2"/>
<line x1="894.10" y1="548.30" x2="898.30" y2="548.30" stroke="#000" stroke-width="2"/>
<text x="891.50" y="552.80" font-family='"Liberation Sans", sans-serif' font-size="12.6" font-weight="normal" text-anchor="end" fill="#333" stroke="#333" stroke-width="0.3">20</text>
<line x1="894.10" y1="503.07" x2="898.30" y2="503.07" stroke="#000" stroke-width="2"/>
<text x="891.50" y="507.57" font-family='"Liberation Sans", sans-serif' font-size="12.6" font-weight="normal" text-anchor="end" fill="#333" stroke="#333" stroke-width="0.3">40</text>
<line x1="894.10" y1="457.83" x2="898.30" y2="457.83" stroke="#000" stroke-width="2"/>
<text x="891.50" y="462.33" font-family='"Liberation Sans", sans-serif' font-size="12.6" font-weight="normal" text-anchor="end" fill="#333" stroke="#333" stroke-width="0.3">60</text>
<line x1="894.10" y1="412.60" x2="898.30" y2="412.60" stroke="#000" stroke-width="2"/>
<text x="891.50" y="417.10" font-family='"Liberation Sans", sans-serif' font-size="12.6" font-weight="normal" text-anchor="end" fill="#333" stroke="#333" stroke-width="0.3">80</text>
<line x1="897.30" y1="548.30" x2="1036.00" y2="548.30" stroke="#000" stroke-width="2"/>
<line x1="922.40" y1="548.30" x2="922.40" y2="552.80" stroke="#000" stroke-width="2"/>
<line x1="966.90" y1="548.30" x2="966.90" y2="552.80" stroke="#000" stroke-width="2"/>
<line x1="1011.70" y1="548.30" x2="1011.70" y2="552.80" stroke="#000" stroke-width="2"/>
<text x="923.10" y="566.20" font-family='"Liberation Sans", sans-serif' font-size="12.6" font-weight="normal" text-anchor="middle" fill="#333" stroke="#333" stroke-width="0.3">Saline</text>
<text x="965.70" y="566.20" font-family='"Liberation Sans", sans-serif' font-size="12.6" font-weight="normal" text-anchor="middle" fill="#333" stroke="#333" stroke-width="0.3">CNO</text>
<text x="1012.70" y="566.20" font-family='"Liberation Sans", sans-serif' font-size="12.6" font-weight="normal" text-anchor="middle" fill="#333" stroke="#333" stroke-width="0.3">CNO</text>
<line x1="923.10" y1="572.20" x2="964.90" y2="572.20" stroke="#000" stroke-width="2"/>
<text x="945.10" y="587.20" font-family='"Liberation Sans", sans-serif' font-size="12.6" font-weight="normal" text-anchor="middle" fill="#333" stroke="#333" stroke-width="0.3">hM4D</text>
<text x="1014.10" y="587.20" font-family='"Liberation Sans", sans-serif' font-size="12.6" font-weight="normal" text-anchor="middle" fill="#333" stroke="#333" stroke-width="0.3">mCherry</text>
<line x1="911.80" y1="437.93" x2="933.00" y2="485.88" stroke="#1f8a1f" stroke-width="1.5" stroke-dasharray="3.2,2"/>
<line x1="911.80" y1="472.76" x2="933.00" y2="490.18" stroke="#1f8a1f" stroke-width="1.5" stroke-dasharray="3.2,2"/>
<line x1="911.80" y1="503.07" x2="933.00" y2="510.30" stroke="#1f8a1f" stroke-width="1.5" stroke-dasharray="3.2,2"/>
<line x1="911.80" y1="504.88" x2="933.00" y2="507.59" stroke="#1f8a1f" stroke-width="1.5" stroke-dasharray="3.2,2"/>
<line x1="911.80" y1="508.95" x2="933.00" y2="523.65" stroke="#1f8a1f" stroke-width="1.5" stroke-dasharray="3.2,2"/>
<line x1="911.80" y1="485.88" x2="933.00" y2="503.07" stroke="#1f8a1f" stroke-width="1.5"/>
<circle cx="911.80" cy="437.93" r="2.3" fill="#fff" stroke="#1a1aff" stroke-width="1.5"/>
<circle cx="933.00" cy="485.88" r="2.3" fill="#fff" stroke="#1f8a1f" stroke-width="1.5"/>
<circle cx="911.80" cy="472.76" r="2.3" fill="#fff" stroke="#1a1aff" stroke-width="1.5"/>
<circle cx="933.00" cy="490.18" r="2.3" fill="#fff" stroke="#1f8a1f" stroke-width="1.5"/>
<circle cx="911.80" cy="503.07" r="2.3" fill="#fff" stroke="#1a1aff" stroke-width="1.5"/>
<circle cx="933.00" cy="510.30" r="2.3" fill="#fff" stroke="#1f8a1f" stroke-width="1.5"/>
<circle cx="911.80" cy="504.88" r="2.3" fill="#fff" stroke="#1a1aff" stroke-width="1.5"/>
<circle cx="933.00" cy="507.59" r="2.3" fill="#fff" stroke="#1f8a1f" stroke-width="1.5"/>
<circle cx="911.80" cy="508.95" r="2.3" fill="#fff" stroke="#1a1aff" stroke-width="1.5"/>
<circle cx="933.00" cy="523.65" r="2.3" fill="#fff" stroke="#1f8a1f" stroke-width="1.5"/>
<circle cx="911.80" cy="485.88" r="3.0" fill="#1a1aff" stroke="none" stroke-width="0"/>
<circle cx="933.00" cy="503.07" r="3.0" fill="#1f8a1f" stroke="none" stroke-width="0"/>
<line x1="956.10" y1="474.12" x2="977.60" y2="455.57" stroke="#1f8a1f" stroke-width="1.5" stroke-dasharray="3.2,2"/>
<line x1="956.10" y1="483.39" x2="977.60" y2="457.83" stroke="#1f8a1f" stroke-width="1.5" stroke-dasharray="3.2,2"/>
<line x1="956.10" y1="495.15" x2="977.60" y2="445.62" stroke="#1f8a1f" stroke-width="1.5" stroke-dasharray="3.2,2"/>
<line x1="956.10" y1="505.10" x2="977.60" y2="488.82" stroke="#1f8a1f" stroke-width="1.5" stroke-dasharray="3.2,2"/>
<line x1="956.10" y1="517.32" x2="977.60" y2="499.22" stroke="#1f8a1f" stroke-width="1.5" stroke-dasharray="3.2,2"/>
<line x1="956.10" y1="498.54" x2="977.60" y2="469.82" stroke="#1f8a1f" stroke-width="1.5"/>
<circle cx="956.10" cy="474.12" r="2.3" fill="#fff" stroke="#1a1aff" stroke-width="1.5"/>
<circle cx="977.60" cy="455.57" r="2.3" fill="#fff" stroke="#1f8a1f" stroke-width="1.5"/>
<circle cx="956.10" cy="483.39" r="2.3" fill="#fff" stroke="#1a1aff" stroke-width="1.5"/>
<circle cx="977.60" cy="457.83" r="2.3" fill="#fff" stroke="#1f8a1f" stroke-width="1.5"/>
<circle cx="956.10" cy="495.15" r="2.3" fill="#fff" stroke="#1a1aff" stroke-width="1.5"/>
<circle cx="977.60" cy="445.62" r="2.3" fill="#fff" stroke="#1f8a1f" stroke-width="1.5"/>
<circle cx="956.10" cy="505.10" r="2.3" fill="#fff" stroke="#1a1aff" stroke-width="1.5"/>
<circle cx="977.60" cy="488.82" r="2.3" fill="#fff" stroke="#1f8a1f" stroke-width="1.5"/>
<circle cx="956.10" cy="517.32" r="2.3" fill="#fff" stroke="#1a1aff" stroke-width="1.5"/>
<circle cx="977.60" cy="499.22" r="2.3" fill="#fff" stroke="#1f8a1f" stroke-width="1.5"/>
<circle cx="956.10" cy="498.54" r="3.0" fill="#1a1aff" stroke="none" stroke-width="0"/>
<circle cx="977.60" cy="469.82" r="3.0" fill="#1f8a1f" stroke="none" stroke-width="0"/>
<line x1="1000.70" y1="488.14" x2="1022.70" y2="468.46" stroke="#1f8a1f" stroke-width="1.5" stroke-dasharray="3.2,2"/>
<line x1="1000.70" y1="515.05" x2="1022.70" y2="524.10" stroke="#1f8a1f" stroke-width="1.5" stroke-dasharray="3.2,2"/>
<line x1="1000.70" y1="534.96" x2="1022.70" y2="543.32" stroke="#1f8a1f" stroke-width="1.5" stroke-dasharray="3.2,2"/>
<line x1="1000.70" y1="512.57" x2="1022.70" y2="512.11" stroke="#1f8a1f" stroke-width="1.5"/>
<circle cx="1000.70" cy="488.14" r="2.3" fill="#fff" stroke="#1a1aff" stroke-width="1.5"/>
<circle cx="1022.70" cy="468.46" r="2.3" fill="#fff" stroke="#1f8a1f" stroke-width="1.5"/>
<circle cx="1000.70" cy="515.05" r="2.3" fill="#fff" stroke="#1a1aff" stroke-width="1.5"/>
<circle cx="1022.70" cy="524.10" r="2.3" fill="#fff" stroke="#1f8a1f" stroke-width="1.5"/>
<circle cx="1000.70" cy="534.96" r="2.3" fill="#fff" stroke="#1a1aff" stroke-width="1.5"/>
<circle cx="1022.70" cy="543.32" r="2.3" fill="#fff" stroke="#1f8a1f" stroke-width="1.5"/>
<circle cx="1000.70" cy="512.57" r="3.0" fill="#1a1aff" stroke="none" stroke-width="0"/>
<circle cx="1022.70" cy="512.11" r="3.0" fill="#1f8a1f" stroke="none" stroke-width="0"/>
<circle cx="905.20" cy="408.80" r="3.2" fill="#1a1aff" stroke="none" stroke-width="0"/>
<circle cx="905.20" cy="420.40" r="3.2" fill="#1f8a1f" stroke="none" stroke-width="0"/>
<text x="910.60" y="413.40" font-family='"Liberation Sans", sans-serif' font-size="12.5" font-weight="normal" text-anchor="start" fill="#333" stroke="#333" stroke-width="0.3">Pre</text>
<text x="910.60" y="425.00" font-family='"Liberation Sans", sans-serif' font-size="12.5" font-weight="normal" text-anchor="start" fill="#333" stroke="#333" stroke-width="0.3">Post</text>
<text x="977.00" y="444.50" font-family='"Liberation Sans", sans-serif' font-size="17" font-weight="normal" text-anchor="middle" fill="#222" stroke="#222" stroke-width="0.3">*</text>
<text x="869.20" y="480.60" font-family='"Liberation Sans", sans-serif' font-size="15" font-weight="normal" text-anchor="middle" fill="#333" stroke="#333" stroke-width="0.3" transform="rotate(-90 869.20 480.60)">Latency to fall (s)</text>
<text x="0.50" y="613.30" font-family='"Liberation Sans", sans-serif' font-size="20" font-weight="normal" text-anchor="start" fill="#262626" stroke="#262626" stroke-width="0.3">(F)</text>
<text x="149.00" y="608.50" font-family='"Liberation Sans", sans-serif' font-size="16.8" font-weight="bold" text-anchor="middle" fill="#111">Motor cortex</text>
<line x1="47.90" y1="629.70" x2="47.90" y2="771.80" stroke="#000" stroke-width="2"/>
<line x1="43.90" y1="770.80" x2="47.90" y2="770.80" stroke="#000" stroke-width="2"/>
<text x="44.20" y="775.30" font-family='"Liberation Sans", sans-serif' font-size="12.6" font-weight="normal" text-anchor="end" fill="#333" stroke="#333" stroke-width="0.3">0</text>
<line x1="43.90" y1="724.10" x2="47.90" y2="724.10" stroke="#000" stroke-width="2"/>
<text x="44.20" y="728.60" font-family='"Liberation Sans", sans-serif' font-size="12.6" font-weight="normal" text-anchor="end" fill="#333" stroke="#333" stroke-width="0.3">0.02</text>
<line x1="43.90" y1="677.40" x2="47.90" y2="677.40" stroke="#000" stroke-width="2"/>
<text x="44.20" y="681.90" font-family='"Liberation Sans", sans-serif' font-size="12.6" font-weight="normal" text-anchor="end" fill="#333" stroke="#333" stroke-width="0.3">0.04</text>
<line x1="43.90" y1="630.70" x2="47.90" y2="630.70" stroke="#000" stroke-width="2"/>
<text x="44.20" y="635.20" font-family='"Liberation Sans", sans-serif' font-size="12.6" font-weight="normal" text-anchor="end" fill="#333" stroke="#333" stroke-width="0.3">0.06</text>
<line x1="46.90" y1="770.80" x2="138.30" y2="770.80" stroke="#000" stroke-width="2"/>
<line x1="48.30" y1="770.80" x2="48.30" y2="775.30" stroke="#000" stroke-width="2"/>
<text x="48.30" y="786.80" font-family='"Liberation Sans", sans-serif' font-size="12.6" font-weight="normal" text-anchor="middle" fill="#333" stroke="#333" stroke-width="0.3">8</text>
<line x1="73.74" y1="770.80" x2="73.74" y2="775.30" stroke="#000" stroke-width="2"/>
<text x="73.74" y="786.80" font-family='"Liberation Sans", sans-serif' font-size="12.6" font-weight="normal" text-anchor="middle" fill="#333" stroke="#333" stroke-width="0.3">20</text>
<line x1="94.94" y1="770.80" x2="94.94" y2="775.30" stroke="#000" stroke-width="2"/>
<text x="94.94" y="786.80" font-family='"Liberation Sans", sans-serif' font-size="12.6" font-weight="normal" text-anchor="middle" fill="#333" stroke="#333" stroke-width="0.3">30</text>
<line x1="116.14" y1="770.80" x2="116.14" y2="775.30" stroke="#000" stroke-width="2"/>
<text x="116.14" y="786.80" font-family='"Liberation Sans", sans-serif' font-size="12.6" font-weight="normal" text-anchor="middle" fill="#333" stroke="#333" stroke-width="0.3">40</text>
<line x1="137.34" y1="770.80" x2="137.34" y2="775.30" stroke="#000" stroke-width="2"/>
<text x="137.34" y="786.80" font-family='"Liberation Sans", sans-serif' font-size="12.6" font-weight="normal" text-anchor="middle" fill="#333" stroke="#333" stroke-width="0.3">50</text>
<text x="94.50" y="800.20" font-family='"Liberation Sans", sans-serif' font-size="14.9" font-weight="normal" text-anchor="middle" fill="#333" stroke="#333" stroke-width="0.3">Frequency (Hz)</text>
<path d="M53.60,630.40 C53.95,633.88 55.02,643.98 55.70,651.30 C56.38,658.62 56.83,667.33 57.70,674.30 C58.57,681.27 59.68,687.53 60.90,693.10 C62.12,698.67 63.43,703.70 65.00,707.70 C66.57,711.70 68.38,714.67 70.30,717.10 C72.22,719.53 74.42,721.97 76.50,722.30 C78.58,722.63 81.05,721.18 82.80,719.10 C84.55,717.02 85.62,714.83 87.00,709.80 C88.38,704.77 89.82,697.95 91.10,688.90 C92.38,679.85 93.65,662.98 94.70,655.50 C95.75,648.02 96.43,644.35 97.40,644.00 C98.37,643.65 99.45,647.67 100.50,653.40 C101.55,659.13 102.65,670.05 103.70,678.40 C104.75,686.75 105.58,694.80 106.80,703.50 C108.02,712.20 109.62,724.00 111.00,730.60 C112.38,737.20 113.37,739.62 115.10,743.10 C116.83,746.58 119.30,749.47 121.40,751.50 C123.50,753.53 125.62,754.43 127.70,755.30 C129.78,756.17 132.17,756.28 133.90,756.70 C135.63,757.12 137.40,757.62 138.10,757.80" fill="none" stroke="#1a1aff" stroke-width="2.6" stroke-linejoin="round" stroke-linecap="round"/>
<path d="M54.60,630.40 C54.95,633.88 55.83,643.63 56.70,651.30 C57.57,658.97 58.58,668.75 59.80,676.40 C61.02,684.05 62.43,691.63 64.00,697.20 C65.57,702.77 67.63,706.83 69.20,709.80 C70.77,712.77 72.00,713.90 73.40,715.00 C74.80,716.10 76.38,716.58 77.60,716.40 C78.82,716.22 79.67,714.25 80.70,713.90 C81.73,713.55 82.58,716.03 83.80,714.30 C85.02,712.57 86.60,708.27 88.00,703.50 C89.40,698.73 91.12,688.87 92.20,685.70 C93.28,682.53 93.63,683.97 94.50,684.50 C95.37,685.03 96.40,686.43 97.40,688.90 C98.40,691.37 99.45,694.08 100.50,699.30 C101.55,704.52 102.48,713.93 103.70,720.20 C104.92,726.47 106.23,732.20 107.80,736.90 C109.37,741.60 111.18,745.45 113.10,748.40 C115.02,751.35 116.87,753.03 119.30,754.60 C121.73,756.17 124.57,757.20 127.70,757.80 C130.83,758.40 136.37,758.13 138.10,758.20" fill="none" stroke="#1f8a1f" stroke-width="2.6" stroke-linejoin="round" stroke-linecap="round"/>
<line x1="58.20" y1="622.40" x2="70.20" y2="622.40" stroke="#1a1aff" stroke-width="2.8"/>
<line x1="58.20" y1="634.40" x2="70.20" y2="634.40" stroke="#1f8a1f" stroke-width="2.8"/>
<text x="73.70" y="627.00" font-family='"Liberation Sans", sans-serif' font-size="12.6" font-weight="normal" text-anchor="start" fill="#333" stroke="#333" stroke-width="0.3">Pre</text>
<text x="73.70" y="639.00" font-family='"Liberation Sans", sans-serif' font-size="12.6" font-weight="normal" text-anchor="start" fill="#333" stroke="#333" stroke-width="0.3">Post</text>
<text x="15.80" y="697.50" font-family='"Liberation Sans", sans-serif' font-size="13.6" font-weight="normal" text-anchor="middle" fill="#333" stroke="#333" stroke-width="0.3" transform="rotate(-90 15.80 697.50)">Power (mV² Hz×10<tspan font-size="8" dy="-5">-3</tspan><tspan dy="5">)</tspan></text>
<line x1="212.30" y1="629.80" x2="212.30" y2="772.30" stroke="#000" stroke-width="2"/>
<line x1="208.10" y1="771.30" x2="212.30" y2="771.30" stroke="#000" stroke-width="2"/>
<text x="206.30" y="775.80" font-family='"Liberation Sans", sans-serif' font-size="12.6" font-weight="normal" text-anchor="end" fill="#333" stroke="#333" stroke-width="0.3">0</text>
<line x1="208.10" y1="724.47" x2="212.30" y2="724.47" stroke="#000" stroke-width="2"/>
<text x="206.30" y="728.97" font-family='"Liberation Sans", sans-serif' font-size="12.6" font-weight="normal" text-anchor="end" fill="#333" stroke="#333" stroke-width="0.3">0.1</text>
<line x1="208.10" y1="677.63" x2="212.30" y2="677.63" stroke="#000" stroke-width="2"/>
<text x="206.30" y="682.13" font-family='"Liberation Sans", sans-serif' font-size="12.6" font-weight="normal" text-anchor="end" fill="#333" stroke="#333" stroke-width="0.3">0.2</text>
<line x1="208.10" y1="630.80" x2="212.30" y2="630.80" stroke="#000" stroke-width="2"/>
<text x="206.30" y="635.30" font-family='"Liberation Sans", sans-serif' font-size="12.6" font-weight="normal" text-anchor="end" fill="#333" stroke="#333" stroke-width="0.3">0.3</text>
<line x1="211.30" y1="771.30" x2="354.20" y2="771.30" stroke="#000" stroke-width="2"/>
<line x1="237.70" y1="771.30" x2="237.70" y2="775.80" stroke="#000" stroke-width="2"/>
<line x1="281.90" y1="771.30" x2="281.90" y2="775.80" stroke="#000" stroke-width="2"/>
<line x1="327.40" y1="771.30" x2="327.40" y2="775.80" stroke="#000" stroke-width="2"/>
<text x="238.30" y="789.20" font-family='"Liberation Sans", sans-serif' font-size="12.6" font-weight="normal" text-anchor="middle" fill="#333" stroke="#333" stroke-width="0.3">Saline</text>
<text x="281.50" y="789.20" font-family='"Liberation Sans", sans-serif' font-size="12.6" font-weight="normal" text-anchor="middle" fill="#333" stroke="#333" stroke-width="0.3">CNO</text>
<text x="328.00" y="789.20" font-family='"Liberation Sans", sans-serif' font-size="12.6" font-weight="normal" text-anchor="middle" fill="#333" stroke="#333" stroke-width="0.3">CNO</text>
<line x1="238.30" y1="794.70" x2="279.70" y2="794.70" stroke="#000" stroke-width="2"/>
<text x="260.00" y="809.40" font-family='"Liberation Sans", sans-serif' font-size="12.6" font-weight="normal" text-anchor="middle" fill="#333" stroke="#333" stroke-width="0.3">hM4D</text>
<text x="329.60" y="809.40" font-family='"Liberation Sans", sans-serif' font-size="12.6" font-weight="normal" text-anchor="middle" fill="#333" stroke="#333" stroke-width="0.3">mCherry</text>
<line x1="225.00" y1="686.53" x2="248.50" y2="659.37" stroke="#1f8a1f" stroke-width="1.5" stroke-dasharray="3.2,2"/>
<line x1="225.00" y1="708.54" x2="248.50" y2="709.48" stroke="#1f8a1f" stroke-width="1.5" stroke-dasharray="3.2,2"/>
<line x1="225.00" y1="720.25" x2="248.50" y2="714.16" stroke="#1f8a1f" stroke-width="1.5" stroke-dasharray="3.2,2"/>
<line x1="225.00" y1="747.41" x2="248.50" y2="745.07" stroke="#1f8a1f" stroke-width="1.5" stroke-dasharray="3.2,2"/>
<line x1="225.00" y1="751.63" x2="248.50" y2="751.63" stroke="#1f8a1f" stroke-width="1.5" stroke-dasharray="3.2,2"/>
<line x1="225.00" y1="754.91" x2="248.50" y2="752.57" stroke="#1f8a1f" stroke-width="1.5" stroke-dasharray="3.2,2"/>
<line x1="225.00" y1="727.75" x2="248.50" y2="722.59" stroke="#1f8a1f" stroke-width="1.5"/>
<circle cx="225.00" cy="686.53" r="2.3" fill="#fff" stroke="#1a1aff" stroke-width="1.5"/>
<circle cx="248.50" cy="659.37" r="2.3" fill="#fff" stroke="#1f8a1f" stroke-width="1.5"/>
<circle cx="225.00" cy="708.54" r="2.3" fill="#fff" stroke="#1a1aff" stroke-width="1.5"/>
<circle cx="248.50" cy="709.48" r="2.3" fill="#fff" stroke="#1f8a1f" stroke-width="1.5"/>
<circle cx="225.00" cy="720.25" r="2.3" fill="#fff" stroke="#1a1aff" stroke-width="1.5"/>
<circle cx="248.50" cy="714.16" r="2.3" fill="#fff" stroke="#1f8a1f" stroke-width="1.5"/>
<circle cx="225.00" cy="747.41" r="2.3" fill="#fff" stroke="#1a1aff" stroke-width="1.5"/>
<circle cx="248.50" cy="745.07" r="2.3" fill="#fff" stroke="#1f8a1f" stroke-width="1.5"/>
<circle cx="225.00" cy="751.63" r="2.3" fill="#fff" stroke="#1a1aff" stroke-width="1.5"/>
<circle cx="248.50" cy="751.63" r="2.3" fill="#fff" stroke="#1f8a1f" stroke-width="1.5"/>
<circle cx="225.00" cy="754.91" r="2.3" fill="#fff" stroke="#1a1aff" stroke-width="1.5"/>
<circle cx="248.50" cy="752.57" r="2.3" fill="#fff" stroke="#1f8a1f" stroke-width="1.5"/>
<circle cx="225.00" cy="727.75" r="3.0" fill="#1a1aff" stroke="none" stroke-width="0"/>
<circle cx="248.50" cy="722.59" r="3.0" fill="#1f8a1f" stroke="none" stroke-width="0"/>
<line x1="270.60" y1="653.75" x2="294.00" y2="692.62" stroke="#1f8a1f" stroke-width="1.5" stroke-dasharray="3.2,2"/>
<line x1="270.60" y1="690.28" x2="294.00" y2="716.50" stroke="#1f8a1f" stroke-width="1.5" stroke-dasharray="3.2,2"/>
<line x1="270.60" y1="700.11" x2="294.00" y2="718.38" stroke="#1f8a1f" stroke-width="1.5" stroke-dasharray="3.2,2"/>
<line x1="270.60" y1="745.07" x2="294.00" y2="746.95" stroke="#1f8a1f" stroke-width="1.5" stroke-dasharray="3.2,2"/>
<line x1="270.60" y1="746.48" x2="294.00" y2="751.16" stroke="#1f8a1f" stroke-width="1.5" stroke-dasharray="3.2,2"/>
<line x1="270.60" y1="747.88" x2="294.00" y2="753.97" stroke="#1f8a1f" stroke-width="1.5" stroke-dasharray="3.2,2"/>
<line x1="270.60" y1="714.16" x2="294.00" y2="730.09" stroke="#1f8a1f" stroke-width="1.5"/>
<circle cx="270.60" cy="653.75" r="2.3" fill="#fff" stroke="#1a1aff" stroke-width="1.5"/>
<circle cx="294.00" cy="692.62" r="2.3" fill="#fff" stroke="#1f8a1f" stroke-width="1.5"/>
<circle cx="270.60" cy="690.28" r="2.3" fill="#fff" stroke="#1a1aff" stroke-width="1.5"/>
<circle cx="294.00" cy="716.50" r="2.3" fill="#fff" stroke="#1f8a1f" stroke-width="1.5"/>
<circle cx="270.60" cy="700.11" r="2.3" fill="#fff" stroke="#1a1aff" stroke-width="1.5"/>
<circle cx="294.00" cy="718.38" r="2.3" fill="#fff" stroke="#1f8a1f" stroke-width="1.5"/>
<circle cx="270.60" cy="745.07" r="2.3" fill="#fff" stroke="#1a1aff" stroke-width="1.5"/>
<circle cx="294.00" cy="746.95" r="2.3" fill="#fff" stroke="#1f8a1f" stroke-width="1.5"/>
<circle cx="270.60" cy="746.48" r="2.3" fill="#fff" stroke="#1a1aff" stroke-width="1.5"/>
<circle cx="294.00" cy="751.16" r="2.3" fill="#fff" stroke="#1f8a1f" stroke-width="1.5"/>
<circle cx="270.60" cy="747.88" r="2.3" fill="#fff" stroke="#1a1aff" stroke-width="1.5"/>
<circle cx="294.00" cy="753.97" r="2.3" fill="#fff" stroke="#1f8a1f" stroke-width="1.5"/>
<circle cx="270.60" cy="714.16" r="3.0" fill="#1a1aff" stroke="none" stroke-width="0"/>
<circle cx="294.00" cy="730.09" r="3.0" fill="#1f8a1f" stroke="none" stroke-width="0"/>
<line x1="316.40" y1="699.64" x2="339.80" y2="687.00" stroke="#1f8a1f" stroke-width="1.5" stroke-dasharray="3.2,2"/>
<line x1="316.40" y1="702.45" x2="339.80" y2="694.02" stroke="#1f8a1f" stroke-width="1.5" stroke-dasharray="3.2,2"/>
<line x1="316.40" y1="730.55" x2="339.80" y2="727.28" stroke="#1f8a1f" stroke-width="1.5" stroke-dasharray="3.2,2"/>
<line x1="316.40" y1="711.35" x2="339.80" y2="702.92" stroke="#1f8a1f" stroke-width="1.5"/>
<circle cx="316.40" cy="699.64" r="2.3" fill="#fff" stroke="#1a1aff" stroke-width="1.5"/>
<circle cx="339.80" cy="687.00" r="2.3" fill="#fff" stroke="#1f8a1f" stroke-width="1.5"/>
<circle cx="316.40" cy="702.45" r="2.3" fill="#fff" stroke="#1a1aff" stroke-width="1.5"/>
<circle cx="339.80" cy="694.02" r="2.3" fill="#fff" stroke="#1f8a1f" stroke-width="1.5"/>
<circle cx="316.40" cy="730.55" r="2.3" fill="#fff" stroke="#1a1aff" stroke-width="1.5"/>
<circle cx="339.80" cy="727.28" r="2.3" fill="#fff" stroke="#1f8a1f" stroke-width="1.5"/>
<circle cx="316.40" cy="711.35" r="3.0" fill="#1a1aff" stroke="none" stroke-width="0"/>
<circle cx="339.80" cy="702.92" r="3.0" fill="#1f8a1f" stroke="none" stroke-width="0"/>
<circle cx="220.40" cy="619.80" r="3.2" fill="#1a1aff" stroke="none" stroke-width="0"/>
<circle cx="220.40" cy="631.40" r="3.2" fill="#1f8a1f" stroke="none" stroke-width="0"/>
<text x="225.80" y="624.40" font-family='"Liberation Sans", sans-serif' font-size="12.5" font-weight="normal" text-anchor="start" fill="#333" stroke="#333" stroke-width="0.3">Pre</text>
<text x="225.80" y="636.00" font-family='"Liberation Sans", sans-serif' font-size="12.5" font-weight="normal" text-anchor="start" fill="#333" stroke="#333" stroke-width="0.3">Post</text>
<text x="293.50" y="689.00" font-family='"Liberation Sans", sans-serif' font-size="17" font-weight="normal" text-anchor="middle" fill="#222" stroke="#222" stroke-width="0.3">*</text>
<text x="171.60" y="701.00" font-family='"Liberation Sans", sans-serif' font-size="14" font-weight="normal" text-anchor="middle" fill="#333" stroke="#333" stroke-width="0.3" transform="rotate(-90 171.60 701.00)">Total 25-40 Hz power</text>
<text x="185.70" y="698.00" font-family='"Liberation Sans", sans-serif' font-size="12" font-weight="normal" text-anchor="middle" fill="#333" stroke="#333" stroke-width="0.3" transform="rotate(-90 185.70 698.00)">(mV² Hz×10<tspan font-size="7" dy="-4">-3</tspan><tspan dy="4">)</tspan></text>
<text x="361.50" y="613.30" font-family='"Liberation Sans", sans-serif' font-size="20" font-weight="normal" text-anchor="start" fill="#262626" stroke="#262626" stroke-width="0.3">(G)</text>
<text x="530.90" y="608.50" font-family='"Liberation Sans", sans-serif' font-size="16.8" font-weight="bold" text-anchor="middle" fill="#111">Striatum</text>
<line x1="421.20" y1="629.80" x2="421.20" y2="772.30" stroke="#000" stroke-width="2"/>
<line x1="417.20" y1="771.30" x2="421.20" y2="771.30" stroke="#000" stroke-width="2"/>
<text x="416.50" y="775.80" font-family='"Liberation Sans", sans-serif' font-size="12.6" font-weight="normal" text-anchor="end" fill="#333" stroke="#333" stroke-width="0.3">0</text>
<line x1="417.20" y1="724.47" x2="421.20" y2="724.47" stroke="#000" stroke-width="2"/>
<text x="416.50" y="728.97" font-family='"Liberation Sans", sans-serif' font-size="12.6" font-weight="normal" text-anchor="end" fill="#333" stroke="#333" stroke-width="0.3">0.02</text>
<line x1="417.20" y1="677.63" x2="421.20" y2="677.63" stroke="#000" stroke-width="2"/>
<text x="416.50" y="682.13" font-family='"Liberation Sans", sans-serif' font-size="12.6" font-weight="normal" text-anchor="end" fill="#333" stroke="#333" stroke-width="0.3">0.04</text>
<line x1="417.20" y1="630.80" x2="421.20" y2="630.80" stroke="#000" stroke-width="2"/>
<text x="416.50" y="635.30" font-family='"Liberation Sans", sans-serif' font-size="12.6" font-weight="normal" text-anchor="end" fill="#333" stroke="#333" stroke-width="0.3">0.06</text>
<line x1="420.20" y1="771.30" x2="510.30" y2="771.30" stroke="#000" stroke-width="2"/>
<line x1="421.20" y1="771.30" x2="421.20" y2="775.80" stroke="#000" stroke-width="2"/>
<text x="421.20" y="787.30" font-family='"Liberation Sans", sans-serif' font-size="12.6" font-weight="normal" text-anchor="middle" fill="#333" stroke="#333" stroke-width="0.3">8</text>
<line x1="446.64" y1="771.30" x2="446.64" y2="775.80" stroke="#000" stroke-width="2"/>
<text x="446.64" y="787.30" font-family='"Liberation Sans", sans-serif' font-size="12.6" font-weight="normal" text-anchor="middle" fill="#333" stroke="#333" stroke-width="0.3">20</text>
<line x1="467.84" y1="771.30" x2="467.84" y2="775.80" stroke="#000" stroke-width="2"/>
<text x="467.84" y="787.30" font-family='"Liberation Sans", sans-serif' font-size="12.6" font-weight="normal" text-anchor="middle" fill="#333" stroke="#333" stroke-width="0.3">30</text>
<line x1="489.04" y1="771.30" x2="489.04" y2="775.80" stroke="#000" stroke-width="2"/>
<text x="489.04" y="787.30" font-family='"Liberation Sans", sans-serif' font-size="12.6" font-weight="normal" text-anchor="middle" fill="#333" stroke="#333" stroke-width="0.3">40</text>
<line x1="510.24" y1="771.30" x2="510.24" y2="775.80" stroke="#000" stroke-width="2"/>
<text x="510.24" y="787.30" font-family='"Liberation Sans", sans-serif' font-size="12.6" font-weight="normal" text-anchor="middle" fill="#333" stroke="#333" stroke-width="0.3">50</text>
<text x="465.80" y="799.20" font-family='"Liberation Sans", sans-serif' font-size="14.9" font-weight="normal" text-anchor="middle" fill="#333" stroke="#333" stroke-width="0.3">Frequency (Hz)</text>
<path d="M424.00,631.40 C424.37,636.00 425.28,650.27 426.20,659.00 C427.12,667.73 428.27,675.98 429.50,683.80 C430.73,691.62 432.22,700.38 433.60,705.90 C434.98,711.42 436.18,714.13 437.80,716.90 C439.42,719.67 441.47,720.43 443.30,722.50 C445.13,724.57 446.73,727.57 448.80,729.30 C450.87,731.03 453.85,732.90 455.70,732.90 C457.55,732.90 458.52,731.50 459.90,729.30 C461.28,727.10 462.63,722.22 464.00,719.70 C465.37,717.18 466.72,714.20 468.10,714.20 C469.48,714.20 470.92,716.72 472.30,719.70 C473.68,722.68 474.80,728.20 476.40,732.10 C478.00,736.00 479.60,739.65 481.90,743.10 C484.20,746.55 487.43,750.72 490.20,752.80 C492.97,754.88 495.28,754.58 498.50,755.60 C501.72,756.62 507.67,758.35 509.50,758.90" fill="none" stroke="#1a1aff" stroke-width="2.6" stroke-linejoin="round" stroke-linecap="round"/>
<path d="M424.00,631.40 C424.55,635.08 426.02,645.22 427.30,653.50 C428.58,661.78 429.95,672.83 431.70,681.10 C433.45,689.37 435.87,698.05 437.80,703.10 C439.73,708.15 441.47,707.95 443.30,711.40 C445.13,714.85 446.97,721.13 448.80,723.80 C450.63,726.47 452.45,727.62 454.30,727.40 C456.15,727.18 458.05,723.70 459.90,722.50 C461.75,721.30 463.80,720.20 465.40,720.20 C467.00,720.20 468.12,720.75 469.50,722.50 C470.88,724.25 472.08,727.48 473.70,730.70 C475.32,733.92 476.92,738.35 479.20,741.80 C481.48,745.25 484.18,748.88 487.40,751.40 C490.62,753.92 494.82,755.52 498.50,756.90 C502.18,758.28 507.67,759.23 509.50,759.70" fill="none" stroke="#1f8a1f" stroke-width="2.6" stroke-linejoin="round" stroke-linecap="round"/>
<line x1="430.00" y1="621.20" x2="442.00" y2="621.20" stroke="#1a1aff" stroke-width="2.8"/>
<line x1="430.00" y1="633.20" x2="442.00" y2="633.20" stroke="#1f8a1f" stroke-width="2.8"/>
<text x="445.50" y="625.80" font-family='"Liberation Sans", sans-serif' font-size="12.6" font-weight="normal" text-anchor="start" fill="#333" stroke="#333" stroke-width="0.3">Pre</text>
<text x="445.50" y="637.80" font-family='"Liberation Sans", sans-serif' font-size="12.6" font-weight="normal" text-anchor="start" fill="#333" stroke="#333" stroke-width="0.3">Post</text>
<text x="386.80" y="703.00" font-family='"Liberation Sans", sans-serif' font-size="13.6" font-weight="normal" text-anchor="middle" fill="#333" stroke="#333" stroke-width="0.3" transform="rotate(-90 386.80 703.00)">Power (mV² Hz×10<tspan font-size="8" dy="-5">-3</tspan><tspan dy="5">)</tspan></text>
<line x1="595.60" y1="629.30" x2="595.60" y2="771.70" stroke="#000" stroke-width="2"/>
<line x1="591.40" y1="770.70" x2="595.60" y2="770.70" stroke="#000" stroke-width="2"/>
<text x="589.40" y="775.20" font-family='"Liberation Sans", sans-serif' font-size="12.6" font-weight="normal" text-anchor="end" fill="#333" stroke="#333" stroke-width="0.3">0.02</text>
<line x1="591.40" y1="735.60" x2="595.60" y2="735.60" stroke="#000" stroke-width="2"/>
<text x="589.40" y="740.10" font-family='"Liberation Sans", sans-serif' font-size="12.6" font-weight="normal" text-anchor="end" fill="#333" stroke="#333" stroke-width="0.3">0.06</text>
<line x1="591.40" y1="700.50" x2="595.60" y2="700.50" stroke="#000" stroke-width="2"/>
<text x="589.40" y="705.00" font-family='"Liberation Sans", sans-serif' font-size="12.6" font-weight="normal" text-anchor="end" fill="#333" stroke="#333" stroke-width="0.3">0.10</text>
<line x1="591.40" y1="665.40" x2="595.60" y2="665.40" stroke="#000" stroke-width="2"/>
<text x="589.40" y="669.90" font-family='"Liberation Sans", sans-serif' font-size="12.6" font-weight="normal" text-anchor="end" fill="#333" stroke="#333" stroke-width="0.3">0.14</text>
<line x1="591.40" y1="630.30" x2="595.60" y2="630.30" stroke="#000" stroke-width="2"/>
<text x="589.40" y="634.80" font-family='"Liberation Sans", sans-serif' font-size="12.6" font-weight="normal" text-anchor="end" fill="#333" stroke="#333" stroke-width="0.3">0.18</text>
<line x1="594.60" y1="770.70" x2="737.00" y2="770.70" stroke="#000" stroke-width="2"/>
<line x1="620.70" y1="770.70" x2="620.70" y2="775.20" stroke="#000" stroke-width="2"/>
<line x1="664.90" y1="770.70" x2="664.90" y2="775.20" stroke="#000" stroke-width="2"/>
<line x1="710.40" y1="770.70" x2="710.40" y2="775.20" stroke="#000" stroke-width="2"/>
<text x="619.60" y="786.50" font-family='"Liberation Sans", sans-serif' font-size="12.6" font-weight="normal" text-anchor="middle" fill="#333" stroke="#333" stroke-width="0.3">Saline</text>
<text x="664.60" y="786.50" font-family='"Liberation Sans", sans-serif' font-size="12.6" font-weight="normal" text-anchor="middle" fill="#333" stroke="#333" stroke-width="0.3">CNO</text>
<text x="710.60" y="786.50" font-family='"Liberation Sans", sans-serif' font-size="12.6" font-weight="normal" text-anchor="middle" fill="#333" stroke="#333" stroke-width="0.3">CNO</text>
<line x1="620.70" y1="792.80" x2="663.50" y2="792.80" stroke="#000" stroke-width="2"/>
<text x="643.10" y="807.00" font-family='"Liberation Sans", sans-serif' font-size="12.6" font-weight="normal" text-anchor="middle" fill="#333" stroke="#333" stroke-width="0.3">hM4D</text>
<text x="710.60" y="807.00" font-family='"Liberation Sans", sans-serif' font-size="12.6" font-weight="normal" text-anchor="middle" fill="#333" stroke="#333" stroke-width="0.3">mCherry</text>
<line x1="608.90" y1="677.68" x2="631.80" y2="667.59" stroke="#1f8a1f" stroke-width="1.5" stroke-dasharray="3.2,2"/>
<line x1="608.90" y1="706.91" x2="631.80" y2="684.00" stroke="#1f8a1f" stroke-width="1.5" stroke-dasharray="3.2,2"/>
<line x1="608.90" y1="719.02" x2="631.80" y2="717.61" stroke="#1f8a1f" stroke-width="1.5" stroke-dasharray="3.2,2"/>
<line x1="608.90" y1="739.90" x2="631.80" y2="739.90" stroke="#1f8a1f" stroke-width="1.5" stroke-dasharray="3.2,2"/>
<line x1="608.90" y1="750.08" x2="631.80" y2="746.31" stroke="#1f8a1f" stroke-width="1.5" stroke-dasharray="3.2,2"/>
<line x1="608.90" y1="755.08" x2="631.80" y2="753.41" stroke="#1f8a1f" stroke-width="1.5" stroke-dasharray="3.2,2"/>
<line x1="608.90" y1="724.81" x2="631.80" y2="717.96" stroke="#1f8a1f" stroke-width="1.5"/>
<circle cx="608.90" cy="677.68" r="2.3" fill="#fff" stroke="#1a1aff" stroke-width="1.5"/>
<circle cx="631.80" cy="667.59" r="2.3" fill="#fff" stroke="#1f8a1f" stroke-width="1.5"/>
<circle cx="608.90" cy="706.91" r="2.3" fill="#fff" stroke="#1a1aff" stroke-width="1.5"/>
<circle cx="631.80" cy="684.00" r="2.3" fill="#fff" stroke="#1f8a1f" stroke-width="1.5"/>
<circle cx="608.90" cy="719.02" r="2.3" fill="#fff" stroke="#1a1aff" stroke-width="1.5"/>
<circle cx="631.80" cy="717.61" r="2.3" fill="#fff" stroke="#1f8a1f" stroke-width="1.5"/>
<circle cx="608.90" cy="739.90" r="2.3" fill="#fff" stroke="#1a1aff" stroke-width="1.5"/>
<circle cx="631.80" cy="739.90" r="2.3" fill="#fff" stroke="#1f8a1f" stroke-width="1.5"/>
<circle cx="608.90" cy="750.08" r="2.3" fill="#fff" stroke="#1a1aff" stroke-width="1.5"/>
<circle cx="631.80" cy="746.31" r="2.3" fill="#fff" stroke="#1f8a1f" stroke-width="1.5"/>
<circle cx="608.90" cy="755.08" r="2.3" fill="#fff" stroke="#1a1aff" stroke-width="1.5"/>
<circle cx="631.80" cy="753.41" r="2.3" fill="#fff" stroke="#1f8a1f" stroke-width="1.5"/>
<circle cx="608.90" cy="724.81" r="3.0" fill="#1a1aff" stroke="none" stroke-width="0"/>
<circle cx="631.80" cy="717.96" r="3.0" fill="#1f8a1f" stroke="none" stroke-width="0"/>
<line x1="654.70" y1="653.99" x2="677.30" y2="660.13" stroke="#1f8a1f" stroke-width="1.5" stroke-dasharray="3.2,2"/>
<line x1="654.70" y1="702.78" x2="677.30" y2="709.63" stroke="#1f8a1f" stroke-width="1.5" stroke-dasharray="3.2,2"/>
<line x1="654.70" y1="723.93" x2="677.30" y2="734.99" stroke="#1f8a1f" stroke-width="1.5" stroke-dasharray="3.2,2"/>
<line x1="654.70" y1="730.77" x2="677.30" y2="744.55" stroke="#1f8a1f" stroke-width="1.5" stroke-dasharray="3.2,2"/>
<line x1="654.70" y1="740.95" x2="677.30" y2="746.74" stroke="#1f8a1f" stroke-width="1.5" stroke-dasharray="3.2,2"/>
<line x1="654.70" y1="745.95" x2="677.30" y2="749.29" stroke="#1f8a1f" stroke-width="1.5" stroke-dasharray="3.2,2"/>
<line x1="654.70" y1="716.56" x2="677.30" y2="724.54" stroke="#1f8a1f" stroke-width="1.5"/>
<circle cx="654.70" cy="653.99" r="2.3" fill="#fff" stroke="#1a1aff" stroke-width="1.5"/>
<circle cx="677.30" cy="660.13" r="2.3" fill="#fff" stroke="#1f8a1f" stroke-width="1.5"/>
<circle cx="654.70" cy="702.78" r="2.3" fill="#fff" stroke="#1a1aff" stroke-width="1.5"/>
<circle cx="677.30" cy="709.63" r="2.3" fill="#fff" stroke="#1f8a1f" stroke-width="1.5"/>
<circle cx="654.70" cy="723.93" r="2.3" fill="#fff" stroke="#1a1aff" stroke-width="1.5"/>
<circle cx="677.30" cy="734.99" r="2.3" fill="#fff" stroke="#1f8a1f" stroke-width="1.5"/>
<circle cx="654.70" cy="730.77" r="2.3" fill="#fff" stroke="#1a1aff" stroke-width="1.5"/>
<circle cx="677.30" cy="744.55" r="2.3" fill="#fff" stroke="#1f8a1f" stroke-width="1.5"/>
<circle cx="654.70" cy="740.95" r="2.3" fill="#fff" stroke="#1a1aff" stroke-width="1.5"/>
<circle cx="677.30" cy="746.74" r="2.3" fill="#fff" stroke="#1f8a1f" stroke-width="1.5"/>
<circle cx="654.70" cy="745.95" r="2.3" fill="#fff" stroke="#1a1aff" stroke-width="1.5"/>
<circle cx="677.30" cy="749.29" r="2.3" fill="#fff" stroke="#1f8a1f" stroke-width="1.5"/>
<circle cx="654.70" cy="716.56" r="3.0" fill="#1a1aff" stroke="none" stroke-width="0"/>
<circle cx="677.30" cy="724.54" r="3.0" fill="#1f8a1f" stroke="none" stroke-width="0"/>
<line x1="700.70" y1="734.37" x2="722.80" y2="724.81" stroke="#1f8a1f" stroke-width="1.5" stroke-dasharray="3.2,2"/>
<line x1="700.70" y1="739.11" x2="722.80" y2="737.71" stroke="#1f8a1f" stroke-width="1.5" stroke-dasharray="3.2,2"/>
<line x1="700.70" y1="752.10" x2="722.80" y2="748.76" stroke="#1f8a1f" stroke-width="1.5" stroke-dasharray="3.2,2"/>
<line x1="700.70" y1="741.92" x2="722.80" y2="739.11" stroke="#1f8a1f" stroke-width="1.5"/>
<circle cx="700.70" cy="734.37" r="2.3" fill="#fff" stroke="#1a1aff" stroke-width="1.5"/>
<circle cx="722.80" cy="724.81" r="2.3" fill="#fff" stroke="#1f8a1f" stroke-width="1.5"/>
<circle cx="700.70" cy="739.11" r="2.3" fill="#fff" stroke="#1a1aff" stroke-width="1.5"/>
<circle cx="722.80" cy="737.71" r="2.3" fill="#fff" stroke="#1f8a1f" stroke-width="1.5"/>
<circle cx="700.70" cy="752.10" r="2.3" fill="#fff" stroke="#1a1aff" stroke-width="1.5"/>
<circle cx="722.80" cy="748.76" r="2.3" fill="#fff" stroke="#1f8a1f" stroke-width="1.5"/>
<circle cx="700.70" cy="741.92" r="3.0" fill="#1a1aff" stroke="none" stroke-width="0"/>
<circle cx="722.80" cy="739.11" r="3.0" fill="#1f8a1f" stroke="none" stroke-width="0"/>
<circle cx="602.80" cy="619.80" r="3.2" fill="#1a1aff" stroke="none" stroke-width="0"/>
<circle cx="602.80" cy="631.40" r="3.2" fill="#1f8a1f" stroke="none" stroke-width="0"/>
<text x="608.20" y="624.40" font-family='"Liberation Sans", sans-serif' font-size="12.5" font-weight="normal" text-anchor="start" fill="#333" stroke="#333" stroke-width="0.3">Pre</text>
<text x="608.20" y="636.00" font-family='"Liberation Sans", sans-serif' font-size="12.5" font-weight="normal" text-anchor="start" fill="#333" stroke="#333" stroke-width="0.3">Post</text>
<text x="677.30" y="657.80" font-family='"Liberation Sans", sans-serif' font-size="17" font-weight="normal" text-anchor="middle" fill="#222" stroke="#222" stroke-width="0.3">*</text>
<text x="545.70" y="701.00" font-family='"Liberation Sans", sans-serif' font-size="14" font-weight="normal" text-anchor="middle" fill="#333" stroke="#333" stroke-width="0.3" transform="rotate(-90 545.70 701.00)">Total 25-40 Hz power</text>
<text x="559.90" y="698.00" font-family='"Liberation Sans", sans-serif' font-size="12" font-weight="normal" text-anchor="middle" fill="#333" stroke="#333" stroke-width="0.3" transform="rotate(-90 559.90 698.00)">(mV² Hz×10<tspan font-size="7" dy="-4">-3</tspan><tspan dy="4">)</tspan></text>
<text x="734.00" y="613.30" font-family='"Liberation Sans", sans-serif' font-size="20" font-weight="normal" text-anchor="start" fill="#262626" stroke="#262626" stroke-width="0.3">(H)</text>
<text x="902.20" y="608.50" font-family='"Liberation Sans", sans-serif' font-size="16.8" font-weight="bold" text-anchor="middle" fill="#111">Coherence</text>
<line x1="786.70" y1="628.90" x2="786.70" y2="770.90" stroke="#000" stroke-width="2"/>
<line x1="782.70" y1="769.90" x2="786.70" y2="769.90" stroke="#000" stroke-width="2"/>
<text x="781.50" y="774.40" font-family='"Liberation Sans", sans-serif' font-size="12.6" font-weight="normal" text-anchor="end" fill="#333" stroke="#333" stroke-width="0.3">0.2</text>
<line x1="782.70" y1="741.90" x2="786.70" y2="741.90" stroke="#000" stroke-width="2"/>
<text x="781.50" y="746.40" font-family='"Liberation Sans", sans-serif' font-size="12.6" font-weight="normal" text-anchor="end" fill="#333" stroke="#333" stroke-width="0.3">0.3</text>
<line x1="782.70" y1="713.90" x2="786.70" y2="713.90" stroke="#000" stroke-width="2"/>
<text x="781.50" y="718.40" font-family='"Liberation Sans", sans-serif' font-size="12.6" font-weight="normal" text-anchor="end" fill="#333" stroke="#333" stroke-width="0.3">0.4</text>
<line x1="782.70" y1="685.90" x2="786.70" y2="685.90" stroke="#000" stroke-width="2"/>
<text x="781.50" y="690.40" font-family='"Liberation Sans", sans-serif' font-size="12.6" font-weight="normal" text-anchor="end" fill="#333" stroke="#333" stroke-width="0.3">0.5</text>
<line x1="782.70" y1="657.90" x2="786.70" y2="657.90" stroke="#000" stroke-width="2"/>
<text x="781.50" y="662.40" font-family='"Liberation Sans", sans-serif' font-size="12.6" font-weight="normal" text-anchor="end" fill="#333" stroke="#333" stroke-width="0.3">0.6</text>
<line x1="782.70" y1="629.90" x2="786.70" y2="629.90" stroke="#000" stroke-width="2"/>
<text x="781.50" y="634.40" font-family='"Liberation Sans", sans-serif' font-size="12.6" font-weight="normal" text-anchor="end" fill="#333" stroke="#333" stroke-width="0.3">0.7</text>
<line x1="785.70" y1="769.90" x2="876.60" y2="769.90" stroke="#000" stroke-width="2"/>
<line x1="786.70" y1="769.90" x2="786.70" y2="774.40" stroke="#000" stroke-width="2"/>
<text x="786.70" y="785.90" font-family='"Liberation Sans", sans-serif' font-size="12.6" font-weight="normal" text-anchor="middle" fill="#333" stroke="#333" stroke-width="0.3">8</text>
<line x1="812.21" y1="769.90" x2="812.21" y2="774.40" stroke="#000" stroke-width="2"/>
<text x="812.21" y="785.90" font-family='"Liberation Sans", sans-serif' font-size="12.6" font-weight="normal" text-anchor="middle" fill="#333" stroke="#333" stroke-width="0.3">20</text>
<line x1="833.47" y1="769.90" x2="833.47" y2="774.40" stroke="#000" stroke-width="2"/>
<text x="833.47" y="785.90" font-family='"Liberation Sans", sans-serif' font-size="12.6" font-weight="normal" text-anchor="middle" fill="#333" stroke="#333" stroke-width="0.3">30</text>
<line x1="854.73" y1="769.90" x2="854.73" y2="774.40" stroke="#000" stroke-width="2"/>
<text x="854.73" y="785.90" font-family='"Liberation Sans", sans-serif' font-size="12.6" font-weight="normal" text-anchor="middle" fill="#333" stroke="#333" stroke-width="0.3">40</text>
<line x1="875.99" y1="769.90" x2="875.99" y2="774.40" stroke="#000" stroke-width="2"/>
<text x="882.99" y="785.90" font-family='"Liberation Sans", sans-serif' font-size="12.6" font-weight="normal" text-anchor="middle" fill="#333" stroke="#333" stroke-width="0.3">50</text>
<text x="833.60" y="799.00" font-family='"Liberation Sans", sans-serif' font-size="14.9" font-weight="normal" text-anchor="middle" fill="#333" stroke="#333" stroke-width="0.3">Frequency (Hz)</text>
<path d="M786.70,728.00 C786.93,730.75 787.40,740.13 788.10,744.50 C788.80,748.87 789.75,753.50 790.90,754.20 C792.05,754.90 793.85,749.85 795.00,748.70 C796.15,747.55 796.65,747.30 797.80,747.30 C798.95,747.30 800.52,748.93 801.90,748.70 C803.28,748.47 804.72,747.75 806.10,745.90 C807.48,744.05 808.60,740.37 810.20,737.60 C811.80,734.83 813.87,732.97 815.70,729.30 C817.53,725.63 819.58,720.42 821.20,715.60 C822.82,710.78 824.02,706.62 825.40,700.40 C826.78,694.18 828.12,685.90 829.50,678.30 C830.88,670.70 832.32,658.57 833.70,654.80 C835.08,651.03 836.43,654.55 837.80,655.70 C839.17,656.85 840.52,658.40 841.90,661.70 C843.28,665.00 844.48,669.52 846.10,675.50 C847.72,681.48 850.00,690.92 851.60,697.60 C853.20,704.28 854.55,711.45 855.70,715.60 C856.85,719.75 857.35,720.90 858.50,722.50 C859.65,724.10 861.22,724.07 862.60,725.20 C863.98,726.33 865.65,727.92 866.80,729.30 C867.95,730.68 868.58,733.50 869.50,733.50 C870.42,733.50 871.15,729.53 872.30,729.30 C873.45,729.07 875.72,731.63 876.40,732.10" fill="none" stroke="#1a1aff" stroke-width="2.6" stroke-linejoin="round" stroke-linecap="round"/>
<path d="M786.70,739.00 C787.17,740.62 788.12,747.32 789.50,748.70 C790.88,750.08 793.17,748.23 795.00,747.30 C796.83,746.37 798.88,744.25 800.50,743.10 C802.12,741.95 803.32,742.00 804.70,740.40 C806.08,738.80 807.42,735.12 808.80,733.50 C810.18,731.88 811.62,733.00 813.00,730.70 C814.38,728.40 815.73,723.83 817.10,719.70 C818.47,715.57 819.82,711.42 821.20,705.90 C822.58,700.38 824.02,693.50 825.40,686.60 C826.78,679.70 828.12,669.10 829.50,664.50 C830.88,659.90 832.32,658.08 833.70,659.00 C835.08,659.92 836.43,666.32 837.80,670.00 C839.17,673.68 840.28,676.95 841.90,681.10 C843.52,685.25 845.65,689.85 847.50,694.90 C849.35,699.95 851.17,706.35 853.00,711.40 C854.83,716.45 856.67,721.98 858.50,725.20 C860.33,728.42 862.17,729.32 864.00,730.70 C865.83,732.08 867.43,732.95 869.50,733.50 C871.57,734.05 875.25,733.92 876.40,734.00" fill="none" stroke="#1f8a1f" stroke-width="2.6" stroke-linejoin="round" stroke-linecap="round"/>
<line x1="792.30" y1="622.60" x2="804.30" y2="622.60" stroke="#1a1aff" stroke-width="2.8"/>
<line x1="792.30" y1="634.60" x2="804.30" y2="634.60" stroke="#1f8a1f" stroke-width="2.8"/>
<text x="807.80" y="627.20" font-family='"Liberation Sans", sans-serif' font-size="12.6" font-weight="normal" text-anchor="start" fill="#333" stroke="#333" stroke-width="0.3">Pre</text>
<text x="807.80" y="639.20" font-family='"Liberation Sans", sans-serif' font-size="12.6" font-weight="normal" text-anchor="start" fill="#333" stroke="#333" stroke-width="0.3">Post</text>
<text x="758.30" y="699.00" font-family='"Liberation Sans", sans-serif' font-size="13.6" font-weight="normal" text-anchor="middle" fill="#333" stroke="#333" stroke-width="0.3" transform="rotate(-90 758.30 699.00)">Coherence</text>
<line x1="936.70" y1="629.80" x2="936.70" y2="771.70" stroke="#000" stroke-width="2"/>
<line x1="932.50" y1="770.70" x2="936.70" y2="770.70" stroke="#000" stroke-width="2"/>
<text x="931.20" y="775.20" font-family='"Liberation Sans", sans-serif' font-size="12.6" font-weight="normal" text-anchor="end" fill="#333" stroke="#333" stroke-width="0.3">0.3</text>
<line x1="932.50" y1="700.75" x2="936.70" y2="700.75" stroke="#000" stroke-width="2"/>
<text x="931.20" y="705.25" font-family='"Liberation Sans", sans-serif' font-size="12.6" font-weight="normal" text-anchor="end" fill="#333" stroke="#333" stroke-width="0.3">0.6</text>
<line x1="932.50" y1="630.80" x2="936.70" y2="630.80" stroke="#000" stroke-width="2"/>
<text x="931.20" y="635.30" font-family='"Liberation Sans", sans-serif' font-size="12.6" font-weight="normal" text-anchor="end" fill="#333" stroke="#333" stroke-width="0.3">0.9</text>
<line x1="935.70" y1="770.70" x2="1077.00" y2="770.70" stroke="#000" stroke-width="2"/>
<line x1="961.10" y1="770.70" x2="961.10" y2="775.20" stroke="#000" stroke-width="2"/>
<line x1="1003.80" y1="770.70" x2="1003.80" y2="775.20" stroke="#000" stroke-width="2"/>
<line x1="1052.10" y1="770.70" x2="1052.10" y2="775.20" stroke="#000" stroke-width="2"/>
<text x="960.00" y="786.50" font-family='"Liberation Sans", sans-serif' font-size="12.6" font-weight="normal" text-anchor="middle" fill="#333" stroke="#333" stroke-width="0.3">Saline</text>
<text x="1004.80" y="786.50" font-family='"Liberation Sans", sans-serif' font-size="12.6" font-weight="normal" text-anchor="middle" fill="#333" stroke="#333" stroke-width="0.3">CNO</text>
<text x="1051.50" y="786.50" font-family='"Liberation Sans", sans-serif' font-size="12.6" font-weight="normal" text-anchor="middle" fill="#333" stroke="#333" stroke-width="0.3">CNO</text>
<line x1="961.10" y1="793.60" x2="1003.80" y2="793.60" stroke="#000" stroke-width="2"/>
<text x="983.20" y="807.40" font-family='"Liberation Sans", sans-serif' font-size="12.6" font-weight="normal" text-anchor="middle" fill="#333" stroke="#333" stroke-width="0.3">hM4D</text>
<text x="1048.70" y="807.40" font-family='"Liberation Sans", sans-serif' font-size="12.6" font-weight="normal" text-anchor="middle" fill="#333" stroke="#333" stroke-width="0.3">mCherry</text>
<line x1="950.00" y1="674.17" x2="972.60" y2="675.57" stroke="#1f8a1f" stroke-width="1.5" stroke-dasharray="3.2,2"/>
<line x1="950.00" y1="698.42" x2="972.60" y2="688.86" stroke="#1f8a1f" stroke-width="1.5" stroke-dasharray="3.2,2"/>
<line x1="950.00" y1="703.08" x2="972.60" y2="684.43" stroke="#1f8a1f" stroke-width="1.5" stroke-dasharray="3.2,2"/>
<line x1="950.00" y1="720.34" x2="972.60" y2="728.50" stroke="#1f8a1f" stroke-width="1.5" stroke-dasharray="3.2,2"/>
<line x1="950.00" y1="732.93" x2="972.60" y2="756.48" stroke="#1f8a1f" stroke-width="1.5" stroke-dasharray="3.2,2"/>
<line x1="950.00" y1="754.15" x2="972.60" y2="745.05" stroke="#1f8a1f" stroke-width="1.5" stroke-dasharray="3.2,2"/>
<line x1="950.00" y1="714.27" x2="972.60" y2="713.34" stroke="#1f8a1f" stroke-width="1.5"/>
<circle cx="950.00" cy="674.17" r="2.3" fill="#fff" stroke="#1a1aff" stroke-width="1.5"/>
<circle cx="972.60" cy="675.57" r="2.3" fill="#fff" stroke="#1f8a1f" stroke-width="1.5"/>
<circle cx="950.00" cy="698.42" r="2.3" fill="#fff" stroke="#1a1aff" stroke-width="1.5"/>
<circle cx="972.60" cy="688.86" r="2.3" fill="#fff" stroke="#1f8a1f" stroke-width="1.5"/>
<circle cx="950.00" cy="703.08" r="2.3" fill="#fff" stroke="#1a1aff" stroke-width="1.5"/>
<circle cx="972.60" cy="684.43" r="2.3" fill="#fff" stroke="#1f8a1f" stroke-width="1.5"/>
<circle cx="950.00" cy="720.34" r="2.3" fill="#fff" stroke="#1a1aff" stroke-width="1.5"/>
<circle cx="972.60" cy="728.50" r="2.3" fill="#fff" stroke="#1f8a1f" stroke-width="1.5"/>
<circle cx="950.00" cy="732.93" r="2.3" fill="#fff" stroke="#1a1aff" stroke-width="1.5"/>
<circle cx="972.60" cy="756.48" r="2.3" fill="#fff" stroke="#1f8a1f" stroke-width="1.5"/>
<circle cx="950.00" cy="754.15" r="2.3" fill="#fff" stroke="#1a1aff" stroke-width="1.5"/>
<circle cx="972.60" cy="745.05" r="2.3" fill="#fff" stroke="#1f8a1f" stroke-width="1.5"/>
<circle cx="950.00" cy="714.27" r="3.0" fill="#1a1aff" stroke="none" stroke-width="0"/>
<circle cx="972.60" cy="713.34" r="3.0" fill="#1f8a1f" stroke="none" stroke-width="0"/>
<line x1="995.60" y1="678.37" x2="1018.50" y2="680.23" stroke="#1f8a1f" stroke-width="1.5" stroke-dasharray="3.2,2"/>
<line x1="995.60" y1="685.36" x2="1018.50" y2="687.23" stroke="#1f8a1f" stroke-width="1.5" stroke-dasharray="3.2,2"/>
<line x1="995.60" y1="688.86" x2="1018.50" y2="695.39" stroke="#1f8a1f" stroke-width="1.5" stroke-dasharray="3.2,2"/>
<line x1="995.60" y1="705.41" x2="1018.50" y2="716.84" stroke="#1f8a1f" stroke-width="1.5" stroke-dasharray="3.2,2"/>
<line x1="995.60" y1="728.03" x2="1018.50" y2="745.52" stroke="#1f8a1f" stroke-width="1.5" stroke-dasharray="3.2,2"/>
<line x1="995.60" y1="738.52" x2="1018.50" y2="763.71" stroke="#1f8a1f" stroke-width="1.5" stroke-dasharray="3.2,2"/>
<line x1="995.60" y1="703.78" x2="1018.50" y2="715.67" stroke="#1f8a1f" stroke-width="1.5"/>
<circle cx="995.60" cy="678.37" r="2.3" fill="#fff" stroke="#1a1aff" stroke-width="1.5"/>
<circle cx="1018.50" cy="680.23" r="2.3" fill="#fff" stroke="#1f8a1f" stroke-width="1.5"/>
<circle cx="995.60" cy="685.36" r="2.3" fill="#fff" stroke="#1a1aff" stroke-width="1.5"/>
<circle cx="1018.50" cy="687.23" r="2.3" fill="#fff" stroke="#1f8a1f" stroke-width="1.5"/>
<circle cx="995.60" cy="688.86" r="2.3" fill="#fff" stroke="#1a1aff" stroke-width="1.5"/>
<circle cx="1018.50" cy="695.39" r="2.3" fill="#fff" stroke="#1f8a1f" stroke-width="1.5"/>
<circle cx="995.60" cy="705.41" r="2.3" fill="#fff" stroke="#1a1aff" stroke-width="1.5"/>
<circle cx="1018.50" cy="716.84" r="2.3" fill="#fff" stroke="#1f8a1f" stroke-width="1.5"/>
<circle cx="995.60" cy="728.03" r="2.3" fill="#fff" stroke="#1a1aff" stroke-width="1.5"/>
<circle cx="1018.50" cy="745.52" r="2.3" fill="#fff" stroke="#1f8a1f" stroke-width="1.5"/>
<circle cx="995.60" cy="738.52" r="2.3" fill="#fff" stroke="#1a1aff" stroke-width="1.5"/>
<circle cx="1018.50" cy="763.71" r="2.3" fill="#fff" stroke="#1f8a1f" stroke-width="1.5"/>
<circle cx="995.60" cy="703.78" r="3.0" fill="#1a1aff" stroke="none" stroke-width="0"/>
<circle cx="1018.50" cy="715.67" r="3.0" fill="#1f8a1f" stroke="none" stroke-width="0"/>
<line x1="1041.60" y1="701.92" x2="1064.00" y2="692.59" stroke="#1f8a1f" stroke-width="1.5" stroke-dasharray="3.2,2"/>
<line x1="1041.60" y1="734.33" x2="1064.00" y2="729.90" stroke="#1f8a1f" stroke-width="1.5" stroke-dasharray="3.2,2"/>
<line x1="1041.60" y1="746.45" x2="1064.00" y2="754.61" stroke="#1f8a1f" stroke-width="1.5" stroke-dasharray="3.2,2"/>
<line x1="1041.60" y1="727.10" x2="1064.00" y2="725.23" stroke="#1f8a1f" stroke-width="1.5"/>
<circle cx="1041.60" cy="701.92" r="2.3" fill="#fff" stroke="#1a1aff" stroke-width="1.5"/>
<circle cx="1064.00" cy="692.59" r="2.3" fill="#fff" stroke="#1f8a1f" stroke-width="1.5"/>
<circle cx="1041.60" cy="734.33" r="2.3" fill="#fff" stroke="#1a1aff" stroke-width="1.5"/>
<circle cx="1064.00" cy="729.90" r="2.3" fill="#fff" stroke="#1f8a1f" stroke-width="1.5"/>
<circle cx="1041.60" cy="746.45" r="2.3" fill="#fff" stroke="#1a1aff" stroke-width="1.5"/>
<circle cx="1064.00" cy="754.61" r="2.3" fill="#fff" stroke="#1f8a1f" stroke-width="1.5"/>
<circle cx="1041.60" cy="727.10" r="3.0" fill="#1a1aff" stroke="none" stroke-width="0"/>
<circle cx="1064.00" cy="725.23" r="3.0" fill="#1f8a1f" stroke="none" stroke-width="0"/>
<circle cx="944.50" cy="620.40" r="3.2" fill="#1a1aff" stroke="none" stroke-width="0"/>
<circle cx="944.50" cy="632.00" r="3.2" fill="#1f8a1f" stroke="none" stroke-width="0"/>
<text x="949.90" y="625.00" font-family='"Liberation Sans", sans-serif' font-size="12.5" font-weight="normal" text-anchor="start" fill="#333" stroke="#333" stroke-width="0.3">Pre</text>
<text x="949.90" y="636.60" font-family='"Liberation Sans", sans-serif' font-size="12.5" font-weight="normal" text-anchor="start" fill="#333" stroke="#333" stroke-width="0.3">Post</text>
<text x="1019.00" y="678.50" font-family='"Liberation Sans", sans-serif' font-size="17" font-weight="normal" text-anchor="middle" fill="#222" stroke="#222" stroke-width="0.3">*</text>
<text x="909.50" y="703.00" font-family='"Liberation Sans", sans-serif' font-size="14" font-weight="normal" text-anchor="middle" fill="#333" stroke="#333" stroke-width="0.3" transform="rotate(-90 909.50 703.00)">Mean 25-40 Hz coherence</text>
</svg>
</body></html>
